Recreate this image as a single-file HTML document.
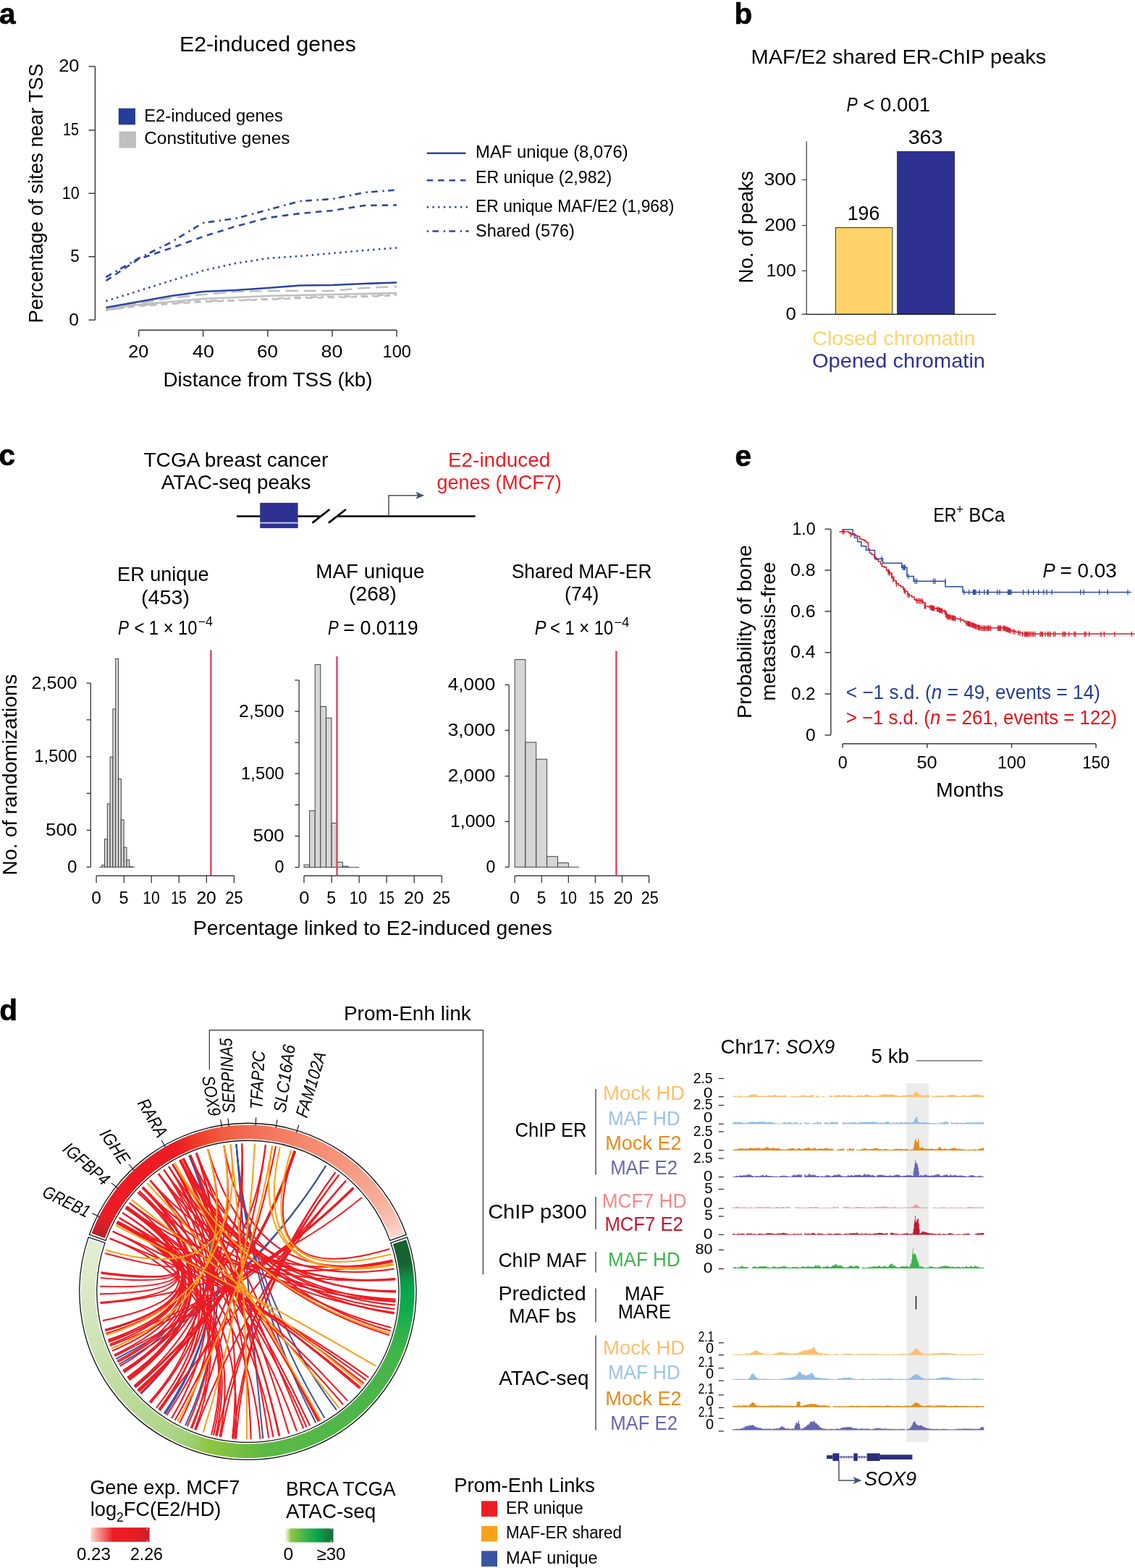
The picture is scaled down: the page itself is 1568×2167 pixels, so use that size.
<!DOCTYPE html>
<html lang="en"><head><meta charset="utf-8"><title>Figure</title>
<style>
html,body{margin:0;padding:0;background:#fff;}
body{width:1568px;height:2167px;overflow:hidden;}
svg{display:block;font-family:"Liberation Sans",sans-serif;}
</style></head><body>
<svg width="1568" height="2167" viewBox="0 0 1568 2167">
<g id="panel-a">
<text x="-1.1" y="33.2" font-size="40.5" font-weight="bold" stroke="#000" stroke-width="0.7">a</text>
<text x="248.0" y="71.3" font-size="29" textLength="244.0" lengthAdjust="spacingAndGlyphs">E2-induced genes</text>
<line x1="131.4" y1="91.8" x2="131.4" y2="442.2" stroke="#333" stroke-width="1.4" />
<line x1="122.4" y1="91.8" x2="131.4" y2="91.8" stroke="#333" stroke-width="1.4" />
<text x="81.2" y="99.2" font-size="24.3" textLength="28.3" lengthAdjust="spacingAndGlyphs">20</text>
<line x1="122.4" y1="180.0" x2="131.4" y2="180.0" stroke="#333" stroke-width="1.4" />
<text x="87.0" y="187.4" font-size="24.3" textLength="21.9" lengthAdjust="spacingAndGlyphs">15</text>
<line x1="122.4" y1="267.3" x2="131.4" y2="267.3" stroke="#333" stroke-width="1.4" />
<text x="85.7" y="274.7" font-size="24.3" textLength="24.0" lengthAdjust="spacingAndGlyphs">10</text>
<line x1="122.4" y1="354.7" x2="131.4" y2="354.7" stroke="#333" stroke-width="1.4" />
<text x="97.2" y="362.1" font-size="24.3" textLength="12.5" lengthAdjust="spacingAndGlyphs">5</text>
<line x1="122.4" y1="442.2" x2="131.4" y2="442.2" stroke="#333" stroke-width="1.4" />
<text x="95.2" y="449.6" font-size="24.3" textLength="13.7" lengthAdjust="spacingAndGlyphs">0</text>
<line x1="191.6" y1="456.3" x2="548.0" y2="456.3" stroke="#333" stroke-width="1.4" />
<line x1="191.6" y1="456.3" x2="191.6" y2="465.3" stroke="#333" stroke-width="1.4" />
<text x="177.3" y="493.8" font-size="24.3" textLength="28.0" lengthAdjust="spacingAndGlyphs">20</text>
<line x1="280.6" y1="456.3" x2="280.6" y2="465.3" stroke="#333" stroke-width="1.4" />
<text x="266.1" y="493.8" font-size="24.3" textLength="29.8" lengthAdjust="spacingAndGlyphs">40</text>
<line x1="369.9" y1="456.3" x2="369.9" y2="465.3" stroke="#333" stroke-width="1.4" />
<text x="354.9" y="493.8" font-size="24.3" textLength="29.0" lengthAdjust="spacingAndGlyphs">60</text>
<line x1="459.0" y1="456.3" x2="459.0" y2="465.3" stroke="#333" stroke-width="1.4" />
<text x="443.5" y="493.8" font-size="24.3" textLength="30.0" lengthAdjust="spacingAndGlyphs">80</text>
<line x1="548.0" y1="456.3" x2="548.0" y2="465.3" stroke="#333" stroke-width="1.4" />
<text x="528.5" y="493.8" font-size="24.3" textLength="39.5" lengthAdjust="spacingAndGlyphs">100</text>
<text x="0" y="0" font-size="28" textLength="358.5" lengthAdjust="spacingAndGlyphs" transform="translate(58.5 446.5) rotate(-90)">Percentage of sites near TSS</text>
<text x="225.5" y="534.0" font-size="28" textLength="289.0" lengthAdjust="spacingAndGlyphs">Distance from TSS (kb)</text>
<rect x="163.8" y="149.7" width="23.2" height="22.7" fill="#253f99" />
<rect x="164.5" y="181.6" width="23.5" height="23.0" fill="#bfbfbf" />
<text x="199.2" y="167.6" font-size="23.5" textLength="191.6" lengthAdjust="spacingAndGlyphs">E2-induced genes</text>
<text x="199.2" y="199.0" font-size="23.5" textLength="201.3" lengthAdjust="spacingAndGlyphs">Constitutive genes</text>
<path d="M146.4 429.0 L191.6 422.0 L236.1 419.0 L280.6 416.0 L325.2 415.0 L369.9 413.0 L414.4 411.0 L459.0 410.0 L503.5 409.0 L548.0 407.0" stroke="#bfbfbf" stroke-width="2.6" fill="none" stroke-dasharray="2.4 5.3 8.6 6.7" stroke-linejoin="round"/>
<path d="M146.4 428.5 L191.6 423.0 L236.1 420.0 L280.6 417.0 L325.2 415.5 L369.9 414.0 L414.4 412.0 L459.0 411.0 L503.5 410.0 L548.0 408.0" stroke="#bfbfbf" stroke-width="2.6" fill="none" stroke-dasharray="8.5 6.9" stroke-linejoin="round"/>
<path d="M146.4 427.0 L191.6 419.0 L236.1 412.0 L280.6 407.0 L325.2 403.0 L369.9 402.0 L414.4 402.0 L459.0 402.0 L503.5 398.0 L548.0 396.0" stroke="#bfbfbf" stroke-width="2.6" fill="none" stroke-dasharray="17 8" stroke-linejoin="round"/>
<path d="M146.4 427.0 L191.6 421.0 L236.1 417.0 L280.6 413.0 L325.2 411.0 L369.9 409.0 L414.4 408.0 L459.0 407.0 L503.5 406.0 L548.0 405.0" stroke="#bfbfbf" stroke-width="2.6" fill="none"  stroke-linejoin="round"/>
<path d="M146.4 383.0 L191.6 357.0 L236.1 335.0 L280.6 308.0 L325.2 302.0 L369.9 290.0 L414.4 278.0 L459.0 275.0 L503.5 266.0 L548.0 262.5" stroke="#2c46a0" stroke-width="2.6" fill="none" stroke-dasharray="8.6 6.7 2.4 5.3" stroke-linejoin="round"/>
<path d="M146.4 388.0 L191.6 358.0 L236.1 343.0 L280.6 327.0 L325.2 313.0 L369.9 301.0 L414.4 295.0 L459.0 291.0 L503.5 284.0 L548.0 283.5" stroke="#2c46a0" stroke-width="2.6" fill="none" stroke-dasharray="8.5 6.9" stroke-linejoin="round"/>
<path d="M146.4 416.0 L191.6 402.0 L236.1 388.0 L280.6 374.0 L325.2 364.0 L369.9 357.0 L414.4 354.0 L459.0 350.0 L503.5 346.0 L548.0 342.5" stroke="#2c46a0" stroke-width="2.6" fill="none" stroke-dasharray="2.4 5.3" stroke-linejoin="round"/>
<path d="M146.4 425.0 L191.6 417.0 L236.1 409.0 L280.6 403.0 L325.2 401.0 L369.9 398.0 L414.4 394.5 L459.0 394.0 L503.5 392.0 L548.0 390.5" stroke="#2c46a0" stroke-width="2.6" fill="none"  stroke-linejoin="round"/>
<line x1="589.7" y1="211.7" x2="643.5" y2="211.7" stroke="#2c46a0" stroke-width="2.5" />
<line x1="589.7" y1="249.3" x2="643.5" y2="249.3" stroke="#2c46a0" stroke-width="2.5" stroke-dasharray="8.5 6.9"/>
<line x1="589.7" y1="286.2" x2="646.0" y2="286.2" stroke="#2c46a0" stroke-width="2.5" stroke-dasharray="2.4 5.3"/>
<line x1="589.7" y1="319.4" x2="647.5" y2="319.4" stroke="#2c46a0" stroke-width="2.5" stroke-dasharray="2.4 5.3 8.6 6.7"/>
<text x="657.1" y="218.3" font-size="23.5" textLength="210.6" lengthAdjust="spacingAndGlyphs">MAF unique (8,076)</text>
<text x="657.1" y="253.2" font-size="23.5" textLength="188.1" lengthAdjust="spacingAndGlyphs">ER unique (2,982)</text>
<text x="657.1" y="292.7" font-size="23.5" textLength="274.3" lengthAdjust="spacingAndGlyphs">ER unique MAF/E2 (1,968)</text>
<text x="657.1" y="327.1" font-size="23.5" textLength="136.7" lengthAdjust="spacingAndGlyphs">Shared (576)</text>
</g>
<g id="panel-b">
<text x="1014.4" y="33.0" font-size="40.5" font-weight="bold" stroke="#000" stroke-width="0.7">b</text>
<text x="1037.6" y="88.1" font-size="28" textLength="407.7" lengthAdjust="spacingAndGlyphs">MAF/E2 shared ER-ChIP peaks</text>
<text x="1169.4" y="154.1" font-size="27.5" font-style="italic" textLength="15.3" lengthAdjust="spacingAndGlyphs">P</text>
<text x="1192.3" y="154.1" font-size="27.5" textLength="92.9" lengthAdjust="spacingAndGlyphs">&lt; 0.001</text>
<rect x="1154.4" y="314.6" width="78.5" height="119.8" fill="#ffd36a" stroke="#333" stroke-width="1" />
<rect x="1239.6" y="209.5" width="78.9" height="224.9" fill="#2e3192" stroke="#333" stroke-width="1" />
<line x1="1114.3" y1="195.6" x2="1114.3" y2="434.4" stroke="#555" stroke-width="1.4" />
<line x1="1107.8" y1="434.4" x2="1376.0" y2="434.4" stroke="#111" stroke-width="1.4" />
<line x1="1107.8" y1="248.5" x2="1114.3" y2="248.5" stroke="#555" stroke-width="1.4" />
<text x="1055.5" y="255.9" font-size="23.7" textLength="44.4" lengthAdjust="spacingAndGlyphs">300</text>
<line x1="1107.8" y1="311.6" x2="1114.3" y2="311.6" stroke="#555" stroke-width="1.4" />
<text x="1056.3" y="318.9" font-size="23.7" textLength="43.6" lengthAdjust="spacingAndGlyphs">200</text>
<line x1="1107.8" y1="374.3" x2="1114.3" y2="374.3" stroke="#555" stroke-width="1.4" />
<text x="1058.5" y="381.6" font-size="23.7" textLength="41.4" lengthAdjust="spacingAndGlyphs">100</text>
<line x1="1107.8" y1="434.4" x2="1114.3" y2="434.4" stroke="#555" stroke-width="1.4" />
<text x="1085.5" y="441.7" font-size="23.7" textLength="14.4" lengthAdjust="spacingAndGlyphs">0</text>
<text x="1254.7" y="198.8" font-size="27.4" textLength="47.8" lengthAdjust="spacingAndGlyphs">363</text>
<text x="1170.8" y="304.0" font-size="27.4" textLength="44.4" lengthAdjust="spacingAndGlyphs">196</text>
<text x="0" y="0" font-size="27" textLength="155.4" lengthAdjust="spacingAndGlyphs" transform="translate(1039.7 391.6) rotate(-90)">No. of peaks</text>
<text x="1122.0" y="476.7" font-size="28" fill="#ffd36a" textLength="225.5" lengthAdjust="spacingAndGlyphs">Closed chromatin</text>
<text x="1122.0" y="507.5" font-size="28" fill="#2e3192" textLength="239.0" lengthAdjust="spacingAndGlyphs">Opened chromatin</text>
</g>
<g id="panel-c">
<text x="-1.5" y="642.8" font-size="40.5" font-weight="bold" stroke="#000" stroke-width="0.7">c</text>
<text x="198.4" y="644.8" font-size="27.5" textLength="254.9" lengthAdjust="spacingAndGlyphs">TCGA breast cancer</text>
<text x="222.7" y="675.9" font-size="27.5" textLength="206.7" lengthAdjust="spacingAndGlyphs">ATAC-seq peaks</text>
<text x="618.9" y="644.8" font-size="27.5" fill="#ed1c24" textLength="141.4" lengthAdjust="spacingAndGlyphs">E2-induced</text>
<text x="603.4" y="675.9" font-size="27.5" fill="#ed1c24" textLength="172.4" lengthAdjust="spacingAndGlyphs">genes (MCF7)</text>
<line x1="327.0" y1="713.5" x2="442.4" y2="713.5" stroke="#000" stroke-width="2.7" />
<line x1="466.4" y1="713.5" x2="656.6" y2="713.5" stroke="#000" stroke-width="2.7" />
<line x1="431.5" y1="722.6" x2="455.4" y2="704.0" stroke="#000" stroke-width="2.7" />
<line x1="453.9" y1="722.6" x2="477.8" y2="704.0" stroke="#000" stroke-width="2.7" />
<rect x="359.2" y="694.9" width="52.4" height="35.0" fill="#2e3192" />
<line x1="359.2" y1="722.6" x2="411.6" y2="722.6" stroke="#d9d9f0" stroke-width="1.6" />
<path d="M537 713.5 V684.7 H577" stroke="#44546a" stroke-width="1.5" fill="none" />
<path d="M586.3 684.7 L574.4 679.7 L577 684.7 L574.4 689.7 Z" stroke="#44546a" stroke-width="0" fill="#44546a" />
<text x="162.1" y="802.8" font-size="27.5" textLength="126.4" lengthAdjust="spacingAndGlyphs">ER unique</text>
<text x="195.0" y="834.6" font-size="27.5" textLength="67.0" lengthAdjust="spacingAndGlyphs">(453)</text>
<text x="436.3" y="798.8" font-size="27.5" textLength="150.2" lengthAdjust="spacingAndGlyphs">MAF unique</text>
<text x="482.1" y="829.8" font-size="27.5" textLength="65.8" lengthAdjust="spacingAndGlyphs">(268)</text>
<text x="706.7" y="798.8" font-size="27.5" textLength="193.8" lengthAdjust="spacingAndGlyphs">Shared MAF-ER</text>
<text x="780.0" y="829.8" font-size="27.5" textLength="47.5" lengthAdjust="spacingAndGlyphs">(74)</text>
<text x="163.1" y="876.6" font-size="27.5" font-style="italic" textLength="15.0" lengthAdjust="spacingAndGlyphs">P</text>
<text x="185.4" y="876.6" font-size="27.5" textLength="87.1" lengthAdjust="spacingAndGlyphs">&lt; 1 × 10</text>
<text x="273.7" y="865.3" font-size="17.5" textLength="20.2" lengthAdjust="spacingAndGlyphs">−4</text>
<text x="738.7" y="876.9" font-size="27.5" font-style="italic" textLength="15.8" lengthAdjust="spacingAndGlyphs">P</text>
<text x="760.0" y="876.9" font-size="27.5" textLength="87.1" lengthAdjust="spacingAndGlyphs">&lt; 1 × 10</text>
<text x="848.2" y="865.5" font-size="17.5" textLength="21.3" lengthAdjust="spacingAndGlyphs">−4</text>
<text x="452.9" y="876.9" font-size="27.5" font-style="italic" textLength="14.7" lengthAdjust="spacingAndGlyphs">P</text>
<text x="474.2" y="876.9" font-size="27.5" textLength="103.6" lengthAdjust="spacingAndGlyphs">= 0.0119</text>
<text x="0" y="0" font-size="27.5" textLength="278.0" lengthAdjust="spacingAndGlyphs" transform="translate(22.8 1209.7) rotate(-90)">No. of randomizations</text>
<line x1="136.9" y1="1198.3" x2="140.7" y2="1198.3" stroke="#333" stroke-width="0.9" />
<rect x="140.7" y="1195.6" width="3.8" height="2.7" fill="#d6d6d6" stroke="#333" stroke-width="0.9" />
<rect x="144.5" y="1159.7" width="3.8" height="38.6" fill="#d6d6d6" stroke="#333" stroke-width="0.9" />
<rect x="148.3" y="1110.8" width="3.8" height="87.5" fill="#d6d6d6" stroke="#333" stroke-width="0.9" />
<rect x="152.1" y="1046.1" width="3.8" height="152.2" fill="#d6d6d6" stroke="#333" stroke-width="0.9" />
<rect x="155.9" y="979.8" width="3.8" height="218.5" fill="#d6d6d6" stroke="#333" stroke-width="0.9" />
<rect x="159.7" y="910.3" width="3.8" height="288.0" fill="#d6d6d6" stroke="#333" stroke-width="0.9" />
<rect x="163.5" y="1076.6" width="3.8" height="121.7" fill="#d6d6d6" stroke="#333" stroke-width="0.9" />
<rect x="167.3" y="1133.0" width="3.8" height="65.3" fill="#d6d6d6" stroke="#333" stroke-width="0.9" />
<rect x="171.2" y="1171.1" width="3.8" height="27.2" fill="#d6d6d6" stroke="#333" stroke-width="0.9" />
<rect x="175.0" y="1188.5" width="3.8" height="9.8" fill="#d6d6d6" stroke="#333" stroke-width="0.9" />
<rect x="178.8" y="1197.7" width="3.8" height="0.6" fill="#d6d6d6" stroke="#333" stroke-width="0.9" />
<line x1="182.6" y1="1198.3" x2="186.4" y2="1198.3" stroke="#333" stroke-width="0.9" />
<line x1="125.3" y1="944.1" x2="125.3" y2="1198.3" stroke="#222" stroke-width="1.2" />
<line x1="119.6" y1="944.1" x2="125.3" y2="944.1" stroke="#222" stroke-width="1.2" />
<line x1="119.6" y1="994.8" x2="125.3" y2="994.8" stroke="#222" stroke-width="1.2" />
<line x1="119.6" y1="1045.8" x2="125.3" y2="1045.8" stroke="#222" stroke-width="1.2" />
<line x1="119.6" y1="1096.4" x2="125.3" y2="1096.4" stroke="#222" stroke-width="1.2" />
<line x1="119.6" y1="1147.4" x2="125.3" y2="1147.4" stroke="#222" stroke-width="1.2" />
<line x1="119.6" y1="1198.3" x2="125.3" y2="1198.3" stroke="#222" stroke-width="1.2" />
<line x1="133.1" y1="1210.3" x2="323.4" y2="1210.3" stroke="#222" stroke-width="1.2" />
<line x1="133.1" y1="1210.3" x2="133.1" y2="1220.2" stroke="#222" stroke-width="1.2" />
<line x1="171.2" y1="1210.3" x2="171.2" y2="1220.2" stroke="#222" stroke-width="1.2" />
<line x1="209.2" y1="1210.3" x2="209.2" y2="1220.2" stroke="#222" stroke-width="1.2" />
<line x1="247.2" y1="1210.3" x2="247.2" y2="1220.2" stroke="#222" stroke-width="1.2" />
<line x1="285.3" y1="1210.3" x2="285.3" y2="1220.2" stroke="#222" stroke-width="1.2" />
<line x1="323.4" y1="1210.3" x2="323.4" y2="1220.2" stroke="#222" stroke-width="1.2" />
<line x1="291.4" y1="898.6" x2="291.4" y2="1210.3" stroke="#dc4560" stroke-width="2.4" />
<rect x="420.0" y="1195.1" width="7.6" height="3.5" fill="#d6d6d6" stroke="#333" stroke-width="0.9" />
<rect x="427.6" y="1120.4" width="7.6" height="78.2" fill="#d6d6d6" stroke="#333" stroke-width="0.9" />
<rect x="435.2" y="918.4" width="7.6" height="280.2" fill="#d6d6d6" stroke="#333" stroke-width="0.9" />
<rect x="442.8" y="976.5" width="7.6" height="222.1" fill="#d6d6d6" stroke="#333" stroke-width="0.9" />
<rect x="450.4" y="992.3" width="7.6" height="206.3" fill="#d6d6d6" stroke="#333" stroke-width="0.9" />
<rect x="458.1" y="1137.4" width="7.6" height="61.2" fill="#d6d6d6" stroke="#333" stroke-width="0.9" />
<rect x="465.7" y="1191.6" width="7.6" height="7.0" fill="#d6d6d6" stroke="#333" stroke-width="0.9" />
<rect x="473.3" y="1197.1" width="7.6" height="1.5" fill="#d6d6d6" stroke="#333" stroke-width="0.9" />
<line x1="480.9" y1="1198.6" x2="488.5" y2="1198.6" stroke="#333" stroke-width="0.9" />
<line x1="488.5" y1="1198.6" x2="496.1" y2="1198.6" stroke="#333" stroke-width="0.9" />
<line x1="413.1" y1="940.0" x2="413.1" y2="1198.6" stroke="#222" stroke-width="1.2" />
<line x1="407.4" y1="940.0" x2="413.1" y2="940.0" stroke="#222" stroke-width="1.2" />
<line x1="407.4" y1="983.1" x2="413.1" y2="983.1" stroke="#222" stroke-width="1.2" />
<line x1="407.4" y1="1026.3" x2="413.1" y2="1026.3" stroke="#222" stroke-width="1.2" />
<line x1="407.4" y1="1069.1" x2="413.1" y2="1069.1" stroke="#222" stroke-width="1.2" />
<line x1="407.4" y1="1112.3" x2="413.1" y2="1112.3" stroke="#222" stroke-width="1.2" />
<line x1="407.4" y1="1155.5" x2="413.1" y2="1155.5" stroke="#222" stroke-width="1.2" />
<line x1="407.4" y1="1198.6" x2="413.1" y2="1198.6" stroke="#222" stroke-width="1.2" />
<line x1="420.0" y1="1210.3" x2="610.2" y2="1210.3" stroke="#222" stroke-width="1.2" />
<line x1="420.0" y1="1210.3" x2="420.0" y2="1220.2" stroke="#222" stroke-width="1.2" />
<line x1="458.1" y1="1210.3" x2="458.1" y2="1220.2" stroke="#222" stroke-width="1.2" />
<line x1="496.1" y1="1210.3" x2="496.1" y2="1220.2" stroke="#222" stroke-width="1.2" />
<line x1="534.1" y1="1210.3" x2="534.1" y2="1220.2" stroke="#222" stroke-width="1.2" />
<line x1="572.2" y1="1210.3" x2="572.2" y2="1220.2" stroke="#222" stroke-width="1.2" />
<line x1="610.2" y1="1210.3" x2="610.2" y2="1220.2" stroke="#222" stroke-width="1.2" />
<line x1="465.5" y1="906.9" x2="465.5" y2="1210.3" stroke="#dc4560" stroke-width="2.4" />
<rect x="711.1" y="911.6" width="14.8" height="286.7" fill="#d6d6d6" stroke="#333" stroke-width="0.9" />
<rect x="725.9" y="1025.9" width="14.8" height="172.4" fill="#d6d6d6" stroke="#333" stroke-width="0.9" />
<rect x="740.8" y="1049.2" width="14.8" height="149.1" fill="#d6d6d6" stroke="#333" stroke-width="0.9" />
<rect x="755.6" y="1183.7" width="14.8" height="14.6" fill="#d6d6d6" stroke="#333" stroke-width="0.9" />
<rect x="770.5" y="1192.4" width="14.8" height="5.9" fill="#d6d6d6" stroke="#333" stroke-width="0.9" />
<line x1="785.3" y1="1198.3" x2="800.1" y2="1198.3" stroke="#333" stroke-width="0.9" />
<line x1="703.2" y1="946.4" x2="703.2" y2="1198.3" stroke="#222" stroke-width="1.2" />
<line x1="697.5" y1="946.4" x2="703.2" y2="946.4" stroke="#222" stroke-width="1.2" />
<line x1="697.5" y1="1009.3" x2="703.2" y2="1009.3" stroke="#222" stroke-width="1.2" />
<line x1="697.5" y1="1072.6" x2="703.2" y2="1072.6" stroke="#222" stroke-width="1.2" />
<line x1="697.5" y1="1135.4" x2="703.2" y2="1135.4" stroke="#222" stroke-width="1.2" />
<line x1="697.5" y1="1198.3" x2="703.2" y2="1198.3" stroke="#222" stroke-width="1.2" />
<line x1="711.1" y1="1210.3" x2="896.6" y2="1210.3" stroke="#222" stroke-width="1.2" />
<line x1="711.1" y1="1210.3" x2="711.1" y2="1220.2" stroke="#222" stroke-width="1.2" />
<line x1="748.2" y1="1210.3" x2="748.2" y2="1220.2" stroke="#222" stroke-width="1.2" />
<line x1="785.3" y1="1210.3" x2="785.3" y2="1220.2" stroke="#222" stroke-width="1.2" />
<line x1="822.4" y1="1210.3" x2="822.4" y2="1220.2" stroke="#222" stroke-width="1.2" />
<line x1="859.5" y1="1210.3" x2="859.5" y2="1220.2" stroke="#222" stroke-width="1.2" />
<line x1="896.6" y1="1210.3" x2="896.6" y2="1220.2" stroke="#222" stroke-width="1.2" />
<line x1="851.4" y1="899.8" x2="851.4" y2="1210.3" stroke="#dc4560" stroke-width="2.4" />
<text x="43.5" y="951.6" font-size="24.3" textLength="62.9" lengthAdjust="spacingAndGlyphs">2,500</text>
<text x="47.5" y="1053.3" font-size="24.3" textLength="58.9" lengthAdjust="spacingAndGlyphs">1,500</text>
<text x="63.0" y="1154.9" font-size="24.3" textLength="43.4" lengthAdjust="spacingAndGlyphs">500</text>
<text x="93.0" y="1205.8" font-size="24.3" textLength="13.4" lengthAdjust="spacingAndGlyphs">0</text>
<text x="330.1" y="990.6" font-size="24.3" textLength="62.5" lengthAdjust="spacingAndGlyphs">2,500</text>
<text x="333.1" y="1076.6" font-size="24.3" textLength="59.5" lengthAdjust="spacingAndGlyphs">1,500</text>
<text x="349.6" y="1163.0" font-size="24.3" textLength="43.0" lengthAdjust="spacingAndGlyphs">500</text>
<text x="379.6" y="1206.1" font-size="24.3" textLength="13.0" lengthAdjust="spacingAndGlyphs">0</text>
<text x="618.8" y="953.9" font-size="24.3" textLength="65.5" lengthAdjust="spacingAndGlyphs">4,000</text>
<text x="618.8" y="1016.8" font-size="24.3" textLength="65.5" lengthAdjust="spacingAndGlyphs">3,000</text>
<text x="618.8" y="1080.1" font-size="24.3" textLength="65.5" lengthAdjust="spacingAndGlyphs">2,000</text>
<text x="622.0" y="1142.9" font-size="24.3" textLength="62.3" lengthAdjust="spacingAndGlyphs">1,000</text>
<text x="671.4" y="1205.8" font-size="24.3" textLength="12.9" lengthAdjust="spacingAndGlyphs">0</text>
<text x="126.3" y="1249.2" font-size="24.3" textLength="13.6" lengthAdjust="spacingAndGlyphs">0</text>
<text x="164.4" y="1249.2" font-size="24.3" textLength="13.0" lengthAdjust="spacingAndGlyphs">5</text>
<text x="197.3" y="1249.2" font-size="24.3" textLength="23.5" lengthAdjust="spacingAndGlyphs">10</text>
<text x="236.3" y="1249.2" font-size="24.3" textLength="21.4" lengthAdjust="spacingAndGlyphs">15</text>
<text x="271.4" y="1249.2" font-size="24.3" textLength="27.4" lengthAdjust="spacingAndGlyphs">20</text>
<text x="311.3" y="1249.2" font-size="24.3" textLength="24.3" lengthAdjust="spacingAndGlyphs">25</text>
<text x="413.2" y="1249.2" font-size="24.3" textLength="14.1" lengthAdjust="spacingAndGlyphs">0</text>
<text x="451.2" y="1249.2" font-size="24.3" textLength="12.8" lengthAdjust="spacingAndGlyphs">5</text>
<text x="482.8" y="1249.2" font-size="24.3" textLength="24.3" lengthAdjust="spacingAndGlyphs">10</text>
<text x="523.1" y="1249.2" font-size="24.3" textLength="21.6" lengthAdjust="spacingAndGlyphs">15</text>
<text x="557.9" y="1249.2" font-size="24.3" textLength="27.5" lengthAdjust="spacingAndGlyphs">20</text>
<text x="597.5" y="1249.2" font-size="24.3" textLength="24.7" lengthAdjust="spacingAndGlyphs">25</text>
<text x="704.2" y="1249.2" font-size="24.3" textLength="13.7" lengthAdjust="spacingAndGlyphs">0</text>
<text x="741.8" y="1249.2" font-size="24.3" textLength="12.5" lengthAdjust="spacingAndGlyphs">5</text>
<text x="773.0" y="1249.2" font-size="24.3" textLength="24.0" lengthAdjust="spacingAndGlyphs">10</text>
<text x="813.0" y="1249.2" font-size="24.3" textLength="21.5" lengthAdjust="spacingAndGlyphs">15</text>
<text x="847.4" y="1249.2" font-size="24.3" textLength="26.7" lengthAdjust="spacingAndGlyphs">20</text>
<text x="885.7" y="1249.2" font-size="24.3" textLength="24.0" lengthAdjust="spacingAndGlyphs">25</text>
<text x="266.7" y="1291.6" font-size="27.5" textLength="496.2" lengthAdjust="spacingAndGlyphs">Percentage linked to E2-induced genes</text>
</g>
<g id="panel-e">
<text x="1015.4" y="643.5" font-size="40.5" font-weight="bold" stroke="#000" stroke-width="0.7">e</text>
<text x="1289.4" y="720.7" font-size="27.5" textLength="31.8" lengthAdjust="spacingAndGlyphs">ER</text>
<text x="1321.2" y="709.5" font-size="17.5" textLength="9.7" lengthAdjust="spacingAndGlyphs">+</text>
<text x="1338.3" y="720.7" font-size="27.5" textLength="49.9" lengthAdjust="spacingAndGlyphs">BCa</text>
<text x="1440.4" y="798.2" font-size="27.5" font-style="italic" textLength="17.3" lengthAdjust="spacingAndGlyphs">P</text>
<text x="1464.4" y="798.2" font-size="27.5" textLength="78.5" lengthAdjust="spacingAndGlyphs">= 0.03</text>
<line x1="1147.8" y1="731.2" x2="1147.8" y2="1016.0" stroke="#333" stroke-width="1.4" />
<line x1="1139.5" y1="731.2" x2="1147.8" y2="731.2" stroke="#333" stroke-width="1.4" />
<text x="1094.4" y="738.8" font-size="24.3" textLength="32.2" lengthAdjust="spacingAndGlyphs">1.0</text>
<line x1="1139.5" y1="788.0" x2="1147.8" y2="788.0" stroke="#333" stroke-width="1.4" />
<text x="1091.9" y="795.6" font-size="24.3" textLength="34.7" lengthAdjust="spacingAndGlyphs">0.8</text>
<line x1="1139.5" y1="844.9" x2="1147.8" y2="844.9" stroke="#333" stroke-width="1.4" />
<text x="1091.9" y="852.5" font-size="24.3" textLength="34.7" lengthAdjust="spacingAndGlyphs">0.6</text>
<line x1="1139.5" y1="901.8" x2="1147.8" y2="901.8" stroke="#333" stroke-width="1.4" />
<text x="1091.9" y="909.4" font-size="24.3" textLength="34.7" lengthAdjust="spacingAndGlyphs">0.4</text>
<line x1="1139.5" y1="959.0" x2="1147.8" y2="959.0" stroke="#333" stroke-width="1.4" />
<text x="1092.9" y="966.6" font-size="24.3" textLength="33.7" lengthAdjust="spacingAndGlyphs">0.2</text>
<line x1="1139.5" y1="1016.0" x2="1147.8" y2="1016.0" stroke="#333" stroke-width="1.4" />
<text x="1112.9" y="1023.6" font-size="24.3" textLength="13.7" lengthAdjust="spacingAndGlyphs">0</text>
<line x1="1164.1" y1="1027.9" x2="1514.1" y2="1027.9" stroke="#111" stroke-width="1.4" />
<line x1="1164.1" y1="1027.9" x2="1164.1" y2="1033.6" stroke="#333" stroke-width="1.4" />
<text x="1157.8" y="1062.2" font-size="24.3" textLength="13.0" lengthAdjust="spacingAndGlyphs">0</text>
<line x1="1280.8" y1="1027.9" x2="1280.8" y2="1033.6" stroke="#333" stroke-width="1.4" />
<text x="1266.5" y="1062.2" font-size="24.3" textLength="28.2" lengthAdjust="spacingAndGlyphs">50</text>
<line x1="1397.5" y1="1027.9" x2="1397.5" y2="1033.6" stroke="#333" stroke-width="1.4" />
<text x="1378.1" y="1062.2" font-size="24.3" textLength="39.1" lengthAdjust="spacingAndGlyphs">100</text>
<line x1="1514.1" y1="1027.9" x2="1514.1" y2="1033.6" stroke="#333" stroke-width="1.4" />
<text x="1495.2" y="1062.2" font-size="24.3" textLength="37.9" lengthAdjust="spacingAndGlyphs">150</text>
<text x="1293.0" y="1101.0" font-size="27.5" textLength="93.4" lengthAdjust="spacingAndGlyphs">Months</text>
<text x="0" y="0" font-size="27.5" textLength="240.0" lengthAdjust="spacingAndGlyphs" transform="translate(1038.0 993.1) rotate(-90)">Probability of bone</text>
<text x="0" y="0" font-size="27.5" textLength="192.3" lengthAdjust="spacingAndGlyphs" transform="translate(1071.4 968.8) rotate(-90)">metastasis-free</text>
<text x="1168.7" y="966" font-size="27.5" fill="#243f98" textLength="351.3" lengthAdjust="spacingAndGlyphs">&lt; −1 s.d. (<tspan font-style="italic">n</tspan> = 49, events = 14)</text>
<text x="1168.7" y="1001.4" font-size="27.5" fill="#e3141c" textLength="374.5" lengthAdjust="spacingAndGlyphs">&gt; −1 s.d. (<tspan font-style="italic">n</tspan> = 261, events = 122)</text>
<path d="M1163.4 731.8 H1178.1 V737.4 H1180.5 V743.0 H1184.8 V748.8 H1189.8 V754.8 H1196.5 V760.6 H1208.5 V772.2 H1219.6 V778.3 H1245.8 V784.3 H1252.9 V796.6 H1262.2 V803.3 H1306 V810.8 H1329.9 V818.4 H1562.8" stroke="#2c4aa6" stroke-width="1.5" fill="none" />
<path d="M1218.0 768.5v7.4M1247.1 780.6v7.4M1248.8 780.6v7.4M1250.2 780.6v7.4M1254.7 792.9v7.4M1264.2 799.6v7.4M1266.5 799.6v7.4M1289.5 799.6v7.4M1291.7 799.6v7.4M1306.0 799.6v7.4M1331.9 814.7v7.4M1338.8 814.7v7.4M1344.4 814.7v7.4M1345.5 814.7v7.4M1346.5 814.7v7.4M1348.0 814.7v7.4M1353.1 814.7v7.4M1359.9 814.7v7.4M1364.0 814.7v7.4M1365.4 814.7v7.4M1377.8 814.7v7.4M1381.0 814.7v7.4M1392.6 814.7v7.4M1394.1 814.7v7.4M1395.3 814.7v7.4M1397.0 814.7v7.4M1413.7 814.7v7.4M1420.7 814.7v7.4M1427.7 814.7v7.4M1434.8 814.7v7.4M1441.8 814.7v7.4M1446.2 814.7v7.4M1453.1 814.7v7.4M1492.7 814.7v7.4M1497.3 814.7v7.4M1518.9 814.7v7.4M1530.2 814.7v7.4M1558.1 814.7v7.4" stroke="#2c4aa6" stroke-width="1.3" fill="none" />
<path d="M1159.4 734.7 H1161.6 H1164.4 H1166.8 H1169.7 H1172.7 V736.7 H1174.6 V737.5 H1176.4 V738.9 H1179.7 H1182.0 V740.2 H1184.2 V741.2 H1187.8 V745.0 H1190.4 V745.8 H1193.7 V747.2 H1196.4 V749.6 H1199.4 V758.8 H1201.4 V764.5 H1204.4 V766.5 H1207.7 V770.1 H1210.5 V773.5 H1213.6 V776.0 H1216.6 V779.6 H1218.5 V783.0 H1221.7 V784.1 H1224.6 V788.5 H1226.9 V789.9 H1228.8 V791.9 H1232.1 V797.3 H1234.8 V802.4 H1237.9 V806.4 H1241.2 V808.8 H1244.3 V811.0 H1247.8 V814.4 H1250.3 V817.1 H1253.5 V821.4 H1256.1 V823.1 H1259.6 V825.0 H1263.0 V828.6 H1265.0 V830.0 H1267.0 H1269.2 H1272.8 V830.9 H1275.3 V833.1 H1278.3 V838.1 H1280.6 H1283.3 V839.1 H1285.8 H1288.2 V840.3 H1291.1 V841.0 H1293.9 V841.7 H1297.4 V842.9 H1300.4 V844.0 H1303.9 V845.3 H1307.2 V850.1 H1310.8 V852.6 H1313.8 V853.4 H1315.9 H1319.3 V854.7 H1322.8 V855.5 H1326.2 V856.2 H1329.0 V857.3 H1332.1 V859.6 H1334.3 V860.9 H1337.6 V861.9 H1340.4 V862.8 H1342.7 V863.7 H1344.7 V864.4 H1348.0 V865.6 H1351.6 V867.0 H1353.5 V867.7 H1356.8 H1359.3 H1361.4 H1363.7 H1366.9 H1370.3 H1372.2 H1375.1 H1376.9 H1380.0 H1382.4 H1385.8 H1389.4 V869.2 H1392.1 V870.2 H1395.7 V871.5 H1398.0 V872.4 H1400.0 H1402.9 V873.6 H1404.7 H1406.9 V874.5 H1409.4 H1412.3 V876.0 H1414.4 H1416.3 H1419.6 H1422.0 H1425.5 H1428.9 H1431.4 H1434.0 H1436.8 H1439.7 H1442.6 H1445.4 H1448.3 H1451.8 H1454.5 H1457.1 H1460.2 H1462.4 H1464.8 H1468.3 H1471.1 H1473.9 H1475.7 H1478.2 H1481.1 H1482.9 H1485.8 H1488.8 H1490.7 H1493.6 H1496.2 H1499.3 H1501.7 H1504.8 H1507.9 H1509.7 H1511.6 H1514.7 H1518.2 H1520.4 H1523.1 H1525.9 H1528.3 H1530.8 H1533.1 H1535.6 H1538.5 H1540.8 H1543.3 H1546.5 H1548.3 H1551.1 H1554.3 H1556.6 H1558.8 H1562.1 H1564.3 H1566.4 H1568.0" stroke="#d4202a" stroke-width="1.5" fill="none" />
<path d="M1164.1 731.0v7.4M1165.8 731.0v7.4M1175.4 735.0v7.4M1227.0 786.2v7.4M1228.1 787.2v7.4M1229.0 788.6v7.4M1231.7 792.6v7.4M1233.7 797.3v7.4M1238.4 803.3v7.4M1249.1 812.1v7.4M1250.4 813.6v7.4M1253.8 818.1v7.4M1255.8 819.2v7.4M1266.5 826.5v7.4M1268.5 826.7v7.4M1270.5 827.0v7.4M1272.5 827.2v7.4M1274.5 827.5v7.4M1277.2 834.2v7.4M1278.6 834.4v7.4M1285.3 835.8v7.4M1286.8 836.2v7.4M1287.9 836.5v7.4M1289.1 836.8v7.4M1290.4 837.1v7.4M1294.6 838.2v7.4M1296.0 838.7v7.4M1297.7 839.3v7.4M1298.8 839.7v7.4M1300.1 840.2v7.4M1301.6 840.8v7.4M1305.4 842.2v7.4M1306.8 845.5v7.4M1308.1 848.2v7.4M1309.2 848.5v7.4M1310.7 848.9v7.4M1312.0 849.2v7.4M1313.7 849.6v7.4M1315.5 850.1v7.4M1316.8 850.4v7.4M1318.1 850.7v7.4M1319.8 851.1v7.4M1326.8 852.6v7.4M1334.8 857.3v7.4M1336.6 857.9v7.4M1337.9 858.3v7.4M1339.1 858.6v7.4M1340.4 859.1v7.4M1342.2 859.7v7.4M1343.5 860.2v7.4M1344.8 860.8v7.4M1346.3 861.3v7.4M1347.7 861.8v7.4M1349.1 862.4v7.4M1351.0 863.1v7.4M1352.2 863.5v7.4M1353.2 863.9v7.4M1355.1 864.6v7.4M1357.0 864.6v7.4M1358.9 864.6v7.4M1360.4 864.6v7.4M1362.3 864.6v7.4M1364.2 864.6v7.4M1365.4 864.6v7.4M1367.1 864.6v7.4M1368.9 864.6v7.4M1378.5 864.6v7.4M1380.0 864.6v7.4M1381.4 864.6v7.4M1382.9 864.6v7.4M1385.8 864.6v7.4M1387.3 864.7v7.4M1388.7 865.2v7.4M1390.2 865.8v7.4M1391.6 866.3v7.4M1393.1 866.8v7.4M1394.5 867.4v7.4M1396.0 867.9v7.4M1399.6 869.2v7.4M1401.8 869.7v7.4M1406.9 870.8v7.4M1409.1 871.4v7.4M1412.7 872.4v7.4M1415.6 872.7v7.4M1417.1 872.7v7.4M1418.5 872.7v7.4M1420.0 872.7v7.4M1421.7 872.7v7.4M1423.6 872.7v7.4M1425.8 872.7v7.4M1427.7 872.7v7.4M1429.9 872.7v7.4M1437.1 872.7v7.4M1438.9 872.7v7.4M1440.3 872.7v7.4M1444.0 872.7v7.4M1447.3 872.7v7.4M1449.1 872.7v7.4M1451.2 872.7v7.4M1455.6 872.7v7.4M1457.8 872.7v7.4M1468.0 872.7v7.4M1469.9 872.7v7.4M1471.6 872.7v7.4M1476.7 872.7v7.4M1484.0 872.7v7.4M1485.8 872.7v7.4M1498.2 872.7v7.4M1500.0 872.7v7.4M1504.8 872.7v7.4M1521.0 872.7v7.4M1525.4 872.7v7.4M1539.9 872.7v7.4M1563.2 872.7v7.4" stroke="#d4202a" stroke-width="1.3" fill="none" />
</g>
<g id="panel-d">
<text x="-0.8" y="1409.8" font-size="40.5" font-weight="bold" stroke="#000" stroke-width="0.7">d</text>
<text x="474.9" y="1410.2" font-size="27.5" textLength="176.0" lengthAdjust="spacingAndGlyphs">Prom-Enh link</text>
<path d="M289.3 1478.5 V1423.6 H667.4 V1761.5" stroke="#333" stroke-width="1.2" fill="none" />
<path d="M126.64 1704.61A230.2 230.2 0 0 1 128.07 1700.86L146.13 1707.93A210.8 210.8 0 0 0 144.82 1711.37Z" fill="#b81e27"/>
<path d="M127.56 1702.17A230.2 230.2 0 0 1 129.57 1697.13L147.51 1704.52A210.8 210.8 0 0 0 145.67 1709.13Z" fill="#c3202a"/>
<path d="M129.04 1698.43A230.2 230.2 0 0 1 131.13 1693.43L148.94 1701.13A210.8 210.8 0 0 0 147.02 1705.71Z" fill="#ca2029"/>
<path d="M130.58 1694.72A230.2 230.2 0 0 1 132.76 1689.75L150.43 1697.77A210.8 210.8 0 0 0 148.43 1702.31Z" fill="#d02029"/>
<path d="M132.18 1691.04A230.2 230.2 0 0 1 134.45 1686.11L151.98 1694.43A210.8 210.8 0 0 0 149.90 1698.94Z" fill="#d71f28"/>
<path d="M133.85 1687.38A230.2 230.2 0 0 1 136.21 1682.49L153.58 1691.12A210.8 210.8 0 0 0 151.43 1695.60Z" fill="#dd1f27"/>
<path d="M135.59 1683.76A230.2 230.2 0 0 1 138.02 1678.91L155.25 1687.84A210.8 210.8 0 0 0 153.01 1692.28Z" fill="#e11e26"/>
<path d="M137.38 1680.16A230.2 230.2 0 0 1 139.90 1675.36L156.97 1684.59A210.8 210.8 0 0 0 154.66 1688.98Z" fill="#e51e26"/>
<path d="M139.24 1676.60A230.2 230.2 0 0 1 141.85 1671.84L158.75 1681.37A210.8 210.8 0 0 0 156.36 1685.72Z" fill="#e91d25"/>
<path d="M141.16 1673.07A230.2 230.2 0 0 1 143.85 1668.36L160.58 1678.18A210.8 210.8 0 0 0 158.12 1682.49Z" fill="#ed1c24"/>
<path d="M143.14 1669.58A230.2 230.2 0 0 1 145.91 1664.91L162.47 1675.02A210.8 210.8 0 0 0 159.93 1679.29Z" fill="#ed1c24"/>
<path d="M145.18 1666.12A230.2 230.2 0 0 1 148.04 1661.50L164.42 1671.90A210.8 210.8 0 0 0 161.80 1676.12Z" fill="#ed1c24"/>
<path d="M147.29 1662.69A230.2 230.2 0 0 1 150.22 1658.13L166.41 1668.81A210.8 210.8 0 0 0 163.73 1672.99Z" fill="#ed1c24"/>
<path d="M149.45 1659.31A230.2 230.2 0 0 1 152.46 1654.79L168.47 1665.75A210.8 210.8 0 0 0 165.71 1669.89Z" fill="#ed1c24"/>
<path d="M151.67 1655.96A230.2 230.2 0 0 1 154.76 1651.50L170.57 1662.74A210.8 210.8 0 0 0 167.74 1666.82Z" fill="#ed1c24"/>
<path d="M153.95 1652.65A230.2 230.2 0 0 1 157.11 1648.24L172.73 1659.76A210.8 210.8 0 0 0 169.83 1663.79Z" fill="#ed1c24"/>
<path d="M156.28 1649.38A230.2 230.2 0 0 1 159.53 1645.03L174.94 1656.82A210.8 210.8 0 0 0 171.97 1660.80Z" fill="#ed1c24"/>
<path d="M158.68 1646.15A230.2 230.2 0 0 1 161.99 1641.86L177.20 1653.91A210.8 210.8 0 0 0 174.16 1657.84Z" fill="#ed1c24"/>
<path d="M161.12 1642.97A230.2 230.2 0 0 1 164.52 1638.74L179.51 1651.05A210.8 210.8 0 0 0 176.40 1654.92Z" fill="#ed1c24"/>
<path d="M163.63 1639.82A230.2 230.2 0 0 1 167.09 1635.65L181.87 1648.23A210.8 210.8 0 0 0 178.69 1652.05Z" fill="#ed1c24"/>
<path d="M166.19 1636.73A230.2 230.2 0 0 1 169.72 1632.62L184.28 1645.45A210.8 210.8 0 0 0 181.04 1649.21Z" fill="#ed1c24"/>
<path d="M168.80 1633.67A230.2 230.2 0 0 1 172.41 1629.63L186.73 1642.71A210.8 210.8 0 0 0 183.43 1646.41Z" fill="#ed1c24"/>
<path d="M171.46 1630.67A230.2 230.2 0 0 1 175.14 1626.68L189.24 1640.01A210.8 210.8 0 0 0 185.87 1643.66Z" fill="#ed1c24"/>
<path d="M174.18 1627.71A230.2 230.2 0 0 1 177.93 1623.79L191.79 1637.36A210.8 210.8 0 0 0 188.36 1640.95Z" fill="#ed1c24"/>
<path d="M176.95 1624.80A230.2 230.2 0 0 1 180.76 1620.94L194.39 1634.75A210.8 210.8 0 0 0 190.89 1638.28Z" fill="#ed1c24"/>
<path d="M179.77 1621.93A230.2 230.2 0 0 1 183.65 1618.15L197.03 1632.19A210.8 210.8 0 0 0 193.47 1635.66Z" fill="#ed1c24"/>
<path d="M182.63 1619.12A230.2 230.2 0 0 1 186.58 1615.40L199.71 1629.68A210.8 210.8 0 0 0 196.10 1633.09Z" fill="#ed1c24"/>
<path d="M185.55 1616.36A230.2 230.2 0 0 1 189.56 1612.71L202.44 1627.21A210.8 210.8 0 0 0 198.77 1630.56Z" fill="#ed1c24"/>
<path d="M188.52 1613.64A230.2 230.2 0 0 1 192.59 1610.07L205.22 1624.80A210.8 210.8 0 0 0 201.48 1628.07Z" fill="#ed1c24"/>
<path d="M191.53 1610.98A230.2 230.2 0 0 1 195.66 1607.48L208.03 1622.43A210.8 210.8 0 0 0 204.24 1625.64Z" fill="#ed1c24"/>
<path d="M194.58 1608.38A230.2 230.2 0 0 1 198.78 1604.94L210.89 1620.11A210.8 210.8 0 0 0 207.04 1623.25Z" fill="#ed1c24"/>
<path d="M197.69 1605.82A230.2 230.2 0 0 1 201.94 1602.46L213.78 1617.84A210.8 210.8 0 0 0 209.88 1620.91Z" fill="#ed1c24"/>
<path d="M200.83 1603.33A230.2 230.2 0 0 1 205.15 1600.04L216.72 1615.62A210.8 210.8 0 0 0 212.76 1618.62Z" fill="#ed1c24"/>
<path d="M204.02 1600.88A230.2 230.2 0 0 1 208.40 1597.67L219.69 1613.45A210.8 210.8 0 0 0 215.68 1616.39Z" fill="#ed1c24"/>
<path d="M207.25 1598.50A230.2 230.2 0 0 1 211.68 1595.36L222.70 1611.33A210.8 210.8 0 0 0 218.64 1614.20Z" fill="#ed1c24"/>
<path d="M210.53 1596.17A230.2 230.2 0 0 1 215.01 1593.11L225.75 1609.27A210.8 210.8 0 0 0 221.64 1612.07Z" fill="#ed1c24"/>
<path d="M213.84 1593.89A230.2 230.2 0 0 1 218.37 1590.92L228.83 1607.26A210.8 210.8 0 0 0 224.67 1609.99Z" fill="#ed1c24"/>
<path d="M217.19 1591.68A230.2 230.2 0 0 1 221.78 1588.78L231.94 1605.31A210.8 210.8 0 0 0 227.74 1607.96Z" fill="#ed1c24"/>
<path d="M220.58 1589.52A230.2 230.2 0 0 1 225.22 1586.71L235.09 1603.41A210.8 210.8 0 0 0 230.85 1605.98Z" fill="#ed1c24"/>
<path d="M224.01 1587.43A230.2 230.2 0 0 1 228.69 1584.69L238.28 1601.56A210.8 210.8 0 0 0 233.99 1604.06Z" fill="#ed1c24"/>
<path d="M227.47 1585.39A230.2 230.2 0 0 1 232.21 1582.74L241.49 1599.77A210.8 210.8 0 0 0 237.16 1602.20Z" fill="#ed1c24"/>
<path d="M230.97 1583.42A230.2 230.2 0 0 1 235.75 1580.85L244.74 1598.04A210.8 210.8 0 0 0 240.36 1600.39Z" fill="#ed1c24"/>
<path d="M234.51 1581.50A230.2 230.2 0 0 1 239.33 1579.02L248.01 1596.36A210.8 210.8 0 0 0 243.60 1598.64Z" fill="#ed1c24"/>
<path d="M238.07 1579.65A230.2 230.2 0 0 1 242.93 1577.25L251.32 1594.74A210.8 210.8 0 0 0 246.86 1596.94Z" fill="#ed1c24"/>
<path d="M241.67 1577.86A230.2 230.2 0 0 1 246.57 1575.54L254.65 1593.18A210.8 210.8 0 0 0 250.16 1595.30Z" fill="#ed2024"/>
<path d="M245.30 1576.13A230.2 230.2 0 0 1 250.24 1573.90L258.01 1591.68A210.8 210.8 0 0 0 253.48 1593.72Z" fill="#ed2424"/>
<path d="M248.95 1574.47A230.2 230.2 0 0 1 253.94 1572.33L261.39 1590.24A210.8 210.8 0 0 0 256.83 1592.20Z" fill="#ed2824"/>
<path d="M252.64 1572.87A230.2 230.2 0 0 1 257.66 1570.82L264.80 1588.85A210.8 210.8 0 0 0 260.20 1590.74Z" fill="#ee2c24"/>
<path d="M256.35 1571.34A230.2 230.2 0 0 1 261.41 1569.37L268.23 1587.53A210.8 210.8 0 0 0 263.60 1589.33Z" fill="#ee3024"/>
<path d="M260.09 1569.87A230.2 230.2 0 0 1 265.18 1567.99L271.69 1586.26A210.8 210.8 0 0 0 267.03 1587.99Z" fill="#ee3524"/>
<path d="M263.86 1568.46A230.2 230.2 0 0 1 268.98 1566.67L275.16 1585.06A210.8 210.8 0 0 0 270.48 1586.70Z" fill="#ee3826"/>
<path d="M267.64 1567.13A230.2 230.2 0 0 1 272.79 1565.43L278.66 1583.92A210.8 210.8 0 0 0 273.94 1585.47Z" fill="#ee3c28"/>
<path d="M271.46 1565.85A230.2 230.2 0 0 1 276.63 1564.24L282.18 1582.84A210.8 210.8 0 0 0 277.43 1584.31Z" fill="#ee402b"/>
<path d="M275.29 1564.65A230.2 230.2 0 0 1 280.49 1563.13L285.71 1581.82A210.8 210.8 0 0 0 280.94 1583.21Z" fill="#ef442d"/>
<path d="M279.14 1563.51A230.2 230.2 0 0 1 284.37 1562.08L289.26 1580.86A210.8 210.8 0 0 0 284.47 1582.17Z" fill="#ef482f"/>
<path d="M283.01 1562.44A230.2 230.2 0 0 1 288.27 1561.10L292.83 1579.96A210.8 210.8 0 0 0 288.02 1581.19Z" fill="#ef4c32"/>
<path d="M286.90 1561.44A230.2 230.2 0 0 1 292.18 1560.19L296.42 1579.13A210.8 210.8 0 0 0 291.58 1580.27Z" fill="#ef4f34"/>
<path d="M290.81 1560.50A230.2 230.2 0 0 1 296.11 1559.35L300.01 1578.36A210.8 210.8 0 0 0 295.16 1579.41Z" fill="#ef5237"/>
<path d="M294.74 1559.64A230.2 230.2 0 0 1 300.05 1558.58L303.62 1577.65A210.8 210.8 0 0 0 298.75 1578.62Z" fill="#ef553a"/>
<path d="M298.67 1558.84A230.2 230.2 0 0 1 304.01 1557.87L307.25 1577.00A210.8 210.8 0 0 0 302.36 1577.89Z" fill="#f0583c"/>
<path d="M302.62 1558.11A230.2 230.2 0 0 1 307.98 1557.24L310.88 1576.42A210.8 210.8 0 0 0 305.98 1577.22Z" fill="#f05c3f"/>
<path d="M306.59 1557.45A230.2 230.2 0 0 1 311.95 1556.67L314.52 1575.90A210.8 210.8 0 0 0 309.61 1576.62Z" fill="#f05f42"/>
<path d="M310.56 1556.86A230.2 230.2 0 0 1 315.94 1556.18L318.17 1575.45A210.8 210.8 0 0 0 313.24 1576.08Z" fill="#f06044"/>
<path d="M314.55 1556.34A230.2 230.2 0 0 1 319.94 1555.75L321.83 1575.06A210.8 210.8 0 0 0 316.89 1575.60Z" fill="#f06246"/>
<path d="M318.54 1555.89A230.2 230.2 0 0 1 323.94 1555.39L325.49 1574.73A210.8 210.8 0 0 0 320.55 1575.19Z" fill="#f16348"/>
<path d="M322.54 1555.51A230.2 230.2 0 0 1 327.95 1555.10L329.16 1574.47A210.8 210.8 0 0 0 324.21 1574.84Z" fill="#f1654a"/>
<path d="M326.54 1555.20A230.2 230.2 0 0 1 331.96 1554.89L332.84 1574.27A210.8 210.8 0 0 0 327.88 1574.55Z" fill="#f1664c"/>
<path d="M330.55 1554.96A230.2 230.2 0 0 1 335.97 1554.74L336.51 1574.13A210.8 210.8 0 0 0 331.55 1574.33Z" fill="#f1684e"/>
<path d="M334.57 1554.78A230.2 230.2 0 0 1 339.99 1554.66L340.19 1574.06A210.8 210.8 0 0 0 335.23 1574.17Z" fill="#f26950"/>
<path d="M338.58 1554.68A230.2 230.2 0 0 1 344.01 1554.66L343.87 1574.06A210.8 210.8 0 0 0 338.90 1574.08Z" fill="#f26b52"/>
<path d="M342.60 1554.65A230.2 230.2 0 0 1 348.02 1554.72L347.55 1574.11A210.8 210.8 0 0 0 342.58 1574.05Z" fill="#f26c53"/>
<path d="M346.62 1554.69A230.2 230.2 0 0 1 352.04 1554.85L351.23 1574.23A210.8 210.8 0 0 0 346.26 1574.09Z" fill="#f26e55"/>
<path d="M350.63 1554.80A230.2 230.2 0 0 1 356.05 1555.06L354.90 1574.42A210.8 210.8 0 0 0 349.94 1574.18Z" fill="#f27056"/>
<path d="M354.65 1554.98A230.2 230.2 0 0 1 360.06 1555.33L358.57 1574.67A210.8 210.8 0 0 0 353.62 1574.35Z" fill="#f27157"/>
<path d="M358.66 1555.22A230.2 230.2 0 0 1 364.06 1555.67L362.24 1574.99A210.8 210.8 0 0 0 357.29 1574.58Z" fill="#f27359"/>
<path d="M362.66 1555.54A230.2 230.2 0 0 1 368.06 1556.08L365.90 1575.36A210.8 210.8 0 0 0 360.96 1574.87Z" fill="#f3745a"/>
<path d="M366.66 1555.93A230.2 230.2 0 0 1 372.05 1556.57L369.55 1575.81A210.8 210.8 0 0 0 364.62 1575.22Z" fill="#f3765c"/>
<path d="M370.65 1556.39A230.2 230.2 0 0 1 376.03 1557.12L373.19 1576.31A210.8 210.8 0 0 0 368.27 1575.64Z" fill="#f3785d"/>
<path d="M374.64 1556.92A230.2 230.2 0 0 1 380.00 1557.74L376.83 1576.88A210.8 210.8 0 0 0 371.92 1576.13Z" fill="#f3795e"/>
<path d="M378.61 1557.52A230.2 230.2 0 0 1 383.96 1558.43L380.45 1577.51A210.8 210.8 0 0 0 375.56 1576.67Z" fill="#f37b60"/>
<path d="M382.57 1558.18A230.2 230.2 0 0 1 387.90 1559.19L384.07 1578.21A210.8 210.8 0 0 0 379.19 1577.28Z" fill="#f37c61"/>
<path d="M386.52 1558.92A230.2 230.2 0 0 1 391.83 1560.02L387.67 1578.97A210.8 210.8 0 0 0 382.80 1577.96Z" fill="#f37d62"/>
<path d="M390.46 1559.72A230.2 230.2 0 0 1 395.75 1560.92L391.25 1579.79A210.8 210.8 0 0 0 386.41 1578.69Z" fill="#f37e63"/>
<path d="M394.38 1560.60A230.2 230.2 0 0 1 399.65 1561.88L394.82 1580.67A210.8 210.8 0 0 0 390.00 1579.49Z" fill="#f37f65"/>
<path d="M398.29 1561.54A230.2 230.2 0 0 1 403.53 1562.92L398.38 1581.62A210.8 210.8 0 0 0 393.58 1580.36Z" fill="#f38066"/>
<path d="M402.17 1562.55A230.2 230.2 0 0 1 407.40 1564.02L401.92 1582.63A210.8 210.8 0 0 0 397.14 1581.28Z" fill="#f48167"/>
<path d="M406.04 1563.62A230.2 230.2 0 0 1 411.24 1565.18L405.44 1583.70A210.8 210.8 0 0 0 400.68 1582.27Z" fill="#f48368"/>
<path d="M409.90 1564.77A230.2 230.2 0 0 1 415.06 1566.42L408.94 1584.83A210.8 210.8 0 0 0 404.21 1583.31Z" fill="#f48469"/>
<path d="M413.73 1565.98A230.2 230.2 0 0 1 418.86 1567.72L412.42 1586.02A210.8 210.8 0 0 0 407.72 1584.42Z" fill="#f4856b"/>
<path d="M417.54 1567.26A230.2 230.2 0 0 1 422.64 1569.09L415.88 1587.27A210.8 210.8 0 0 0 411.20 1585.59Z" fill="#f4866c"/>
<path d="M421.32 1568.60A230.2 230.2 0 0 1 426.39 1570.52L419.32 1588.58A210.8 210.8 0 0 0 414.67 1586.83Z" fill="#f4876d"/>
<path d="M425.08 1570.01A230.2 230.2 0 0 1 430.12 1572.02L422.73 1589.96A210.8 210.8 0 0 0 418.12 1588.12Z" fill="#f4886e"/>
<path d="M428.82 1571.49A230.2 230.2 0 0 1 433.82 1573.58L426.12 1591.39A210.8 210.8 0 0 0 421.54 1589.47Z" fill="#f4896f"/>
<path d="M432.53 1573.03A230.2 230.2 0 0 1 437.50 1575.21L429.48 1592.88A210.8 210.8 0 0 0 424.94 1590.88Z" fill="#f48a70"/>
<path d="M436.21 1574.63A230.2 230.2 0 0 1 441.14 1576.90L432.82 1594.43A210.8 210.8 0 0 0 428.31 1592.35Z" fill="#f48b71"/>
<path d="M439.87 1576.30A230.2 230.2 0 0 1 444.76 1578.66L436.13 1596.03A210.8 210.8 0 0 0 431.65 1593.88Z" fill="#f58c72"/>
<path d="M443.49 1578.04A230.2 230.2 0 0 1 448.34 1580.47L439.41 1597.70A210.8 210.8 0 0 0 434.97 1595.46Z" fill="#f58d74"/>
<path d="M447.09 1579.83A230.2 230.2 0 0 1 451.89 1582.35L442.66 1599.42A210.8 210.8 0 0 0 438.27 1597.11Z" fill="#f58e75"/>
<path d="M450.65 1581.69A230.2 230.2 0 0 1 455.41 1584.30L445.88 1601.20A210.8 210.8 0 0 0 441.53 1598.81Z" fill="#f58f76"/>
<path d="M454.18 1583.61A230.2 230.2 0 0 1 458.89 1586.30L449.07 1603.03A210.8 210.8 0 0 0 444.76 1600.57Z" fill="#f59077"/>
<path d="M457.67 1585.59A230.2 230.2 0 0 1 462.34 1588.36L452.23 1604.92A210.8 210.8 0 0 0 447.96 1602.38Z" fill="#f59178"/>
<path d="M461.13 1587.63A230.2 230.2 0 0 1 465.75 1590.49L455.35 1606.87A210.8 210.8 0 0 0 451.13 1604.25Z" fill="#f59279"/>
<path d="M464.56 1589.74A230.2 230.2 0 0 1 469.12 1592.67L458.44 1608.86A210.8 210.8 0 0 0 454.26 1606.18Z" fill="#f5937a"/>
<path d="M467.94 1591.90A230.2 230.2 0 0 1 472.46 1594.91L461.50 1610.92A210.8 210.8 0 0 0 457.36 1608.16Z" fill="#f5947b"/>
<path d="M471.29 1594.12A230.2 230.2 0 0 1 475.75 1597.21L464.51 1613.02A210.8 210.8 0 0 0 460.43 1610.19Z" fill="#f5957c"/>
<path d="M474.60 1596.40A230.2 230.2 0 0 1 479.01 1599.56L467.49 1615.18A210.8 210.8 0 0 0 463.46 1612.28Z" fill="#f6967d"/>
<path d="M477.87 1598.73A230.2 230.2 0 0 1 482.22 1601.98L470.43 1617.39A210.8 210.8 0 0 0 466.45 1614.42Z" fill="#f6977f"/>
<path d="M481.10 1601.13A230.2 230.2 0 0 1 485.39 1604.44L473.34 1619.65A210.8 210.8 0 0 0 469.41 1616.61Z" fill="#f69880"/>
<path d="M484.28 1603.57A230.2 230.2 0 0 1 488.51 1606.97L476.20 1621.96A210.8 210.8 0 0 0 472.33 1618.85Z" fill="#f69981"/>
<path d="M487.43 1606.08A230.2 230.2 0 0 1 491.60 1609.54L479.02 1624.32A210.8 210.8 0 0 0 475.20 1621.14Z" fill="#f69a82"/>
<path d="M490.52 1608.64A230.2 230.2 0 0 1 494.63 1612.17L481.80 1626.73A210.8 210.8 0 0 0 478.04 1623.49Z" fill="#f69b83"/>
<path d="M493.58 1611.25A230.2 230.2 0 0 1 497.62 1614.86L484.54 1629.18A210.8 210.8 0 0 0 480.84 1625.88Z" fill="#f69c85"/>
<path d="M496.58 1613.91A230.2 230.2 0 0 1 500.57 1617.59L487.24 1631.69A210.8 210.8 0 0 0 483.59 1628.32Z" fill="#f69d86"/>
<path d="M499.54 1616.63A230.2 230.2 0 0 1 503.46 1620.38L489.89 1634.24A210.8 210.8 0 0 0 486.30 1630.81Z" fill="#f79f88"/>
<path d="M502.45 1619.40A230.2 230.2 0 0 1 506.31 1623.21L492.50 1636.84A210.8 210.8 0 0 0 488.97 1633.34Z" fill="#f7a089"/>
<path d="M505.32 1622.22A230.2 230.2 0 0 1 509.10 1626.10L495.06 1639.48A210.8 210.8 0 0 0 491.59 1635.92Z" fill="#f7a18b"/>
<path d="M508.13 1625.08A230.2 230.2 0 0 1 511.85 1629.03L497.57 1642.16A210.8 210.8 0 0 0 494.16 1638.55Z" fill="#f7a28c"/>
<path d="M510.89 1628.00A230.2 230.2 0 0 1 514.54 1632.01L500.04 1644.89A210.8 210.8 0 0 0 496.69 1641.22Z" fill="#f7a38e"/>
<path d="M513.61 1630.97A230.2 230.2 0 0 1 517.18 1635.04L502.45 1647.67A210.8 210.8 0 0 0 499.18 1643.93Z" fill="#f7a58f"/>
<path d="M516.27 1633.98A230.2 230.2 0 0 1 519.77 1638.11L504.82 1650.48A210.8 210.8 0 0 0 501.61 1646.69Z" fill="#f7a691"/>
<path d="M518.87 1637.03A230.2 230.2 0 0 1 522.31 1641.23L507.14 1653.34A210.8 210.8 0 0 0 504.00 1649.49Z" fill="#f7a792"/>
<path d="M521.43 1640.14A230.2 230.2 0 0 1 524.79 1644.39L509.41 1656.23A210.8 210.8 0 0 0 506.34 1652.33Z" fill="#f8a893"/>
<path d="M523.92 1643.28A230.2 230.2 0 0 1 527.21 1647.60L511.63 1659.17A210.8 210.8 0 0 0 508.63 1655.21Z" fill="#f8a995"/>
<path d="M526.37 1646.47A230.2 230.2 0 0 1 529.58 1650.85L513.80 1662.14A210.8 210.8 0 0 0 510.86 1658.13Z" fill="#f8ab96"/>
<path d="M528.75 1649.70A230.2 230.2 0 0 1 531.89 1654.13L515.92 1665.15A210.8 210.8 0 0 0 513.05 1661.09Z" fill="#f8ac98"/>
<path d="M531.08 1652.98A230.2 230.2 0 0 1 534.14 1657.46L517.98 1668.20A210.8 210.8 0 0 0 515.18 1664.09Z" fill="#f8ae9b"/>
<path d="M533.36 1656.29A230.2 230.2 0 0 1 536.33 1660.82L519.99 1671.28A210.8 210.8 0 0 0 517.26 1667.12Z" fill="#f8b19d"/>
<path d="M535.57 1659.64A230.2 230.2 0 0 1 538.47 1664.23L521.94 1674.39A210.8 210.8 0 0 0 519.29 1670.19Z" fill="#f9b3a0"/>
<path d="M537.73 1663.03A230.2 230.2 0 0 1 540.54 1667.67L523.84 1677.54A210.8 210.8 0 0 0 521.27 1673.30Z" fill="#f9b6a3"/>
<path d="M539.82 1666.46A230.2 230.2 0 0 1 542.56 1671.14L525.69 1680.73A210.8 210.8 0 0 0 523.19 1676.44Z" fill="#f9b8a6"/>
<path d="M541.86 1669.92A230.2 230.2 0 0 1 544.51 1674.66L527.48 1683.94A210.8 210.8 0 0 0 525.05 1679.61Z" fill="#f9baa9"/>
<path d="M543.83 1673.42A230.2 230.2 0 0 1 546.40 1678.20L529.21 1687.19A210.8 210.8 0 0 0 526.86 1682.81Z" fill="#fabdac"/>
<path d="M545.75 1676.96A230.2 230.2 0 0 1 548.23 1681.78L530.89 1690.46A210.8 210.8 0 0 0 528.61 1686.05Z" fill="#fabfaf"/>
<path d="M547.60 1680.52A230.2 230.2 0 0 1 550.00 1685.38L532.51 1693.77A210.8 210.8 0 0 0 530.31 1689.31Z" fill="#fac2b2"/>
<path d="M549.39 1684.12A230.2 230.2 0 0 1 551.71 1689.02L534.07 1697.10A210.8 210.8 0 0 0 531.95 1692.61Z" fill="#fac5b6"/>
<path d="M551.12 1687.75A230.2 230.2 0 0 1 553.35 1692.69L535.57 1700.46A210.8 210.8 0 0 0 533.53 1695.93Z" fill="#fbc9bb"/>
<path d="M552.78 1691.40A230.2 230.2 0 0 1 554.92 1696.39L537.01 1703.84A210.8 210.8 0 0 0 535.05 1699.28Z" fill="#fbcdbf"/>
<path d="M554.38 1695.09A230.2 230.2 0 0 1 556.43 1700.11L538.40 1707.25A210.8 210.8 0 0 0 536.51 1702.65Z" fill="#fcd0c4"/>
<path d="M555.91 1698.80A230.2 230.2 0 0 1 557.88 1703.86L539.72 1710.68A210.8 210.8 0 0 0 537.92 1706.05Z" fill="#fcd4c8"/>
<path d="M557.38 1702.54A230.2 230.2 0 0 1 558.16 1704.61L539.98 1711.37A210.8 210.8 0 0 0 539.26 1709.48Z" fill="#fcd6cb"/>
<path d="M561.21 1713.33A230.2 230.2 0 0 1 562.42 1717.16L543.88 1722.87A210.8 210.8 0 0 0 542.77 1719.36Z" fill="#176131"/>
<path d="M562.01 1715.82A230.2 230.2 0 0 1 563.57 1721.01L544.93 1726.39A210.8 210.8 0 0 0 543.50 1721.64Z" fill="#176231"/>
<path d="M563.18 1719.66A230.2 230.2 0 0 1 564.65 1724.88L545.92 1729.94A210.8 210.8 0 0 0 544.57 1725.16Z" fill="#176231"/>
<path d="M564.28 1723.53A230.2 230.2 0 0 1 565.66 1728.77L546.85 1733.50A210.8 210.8 0 0 0 545.58 1728.69Z" fill="#176231"/>
<path d="M565.32 1727.41A230.2 230.2 0 0 1 566.61 1732.67L547.71 1737.07A210.8 210.8 0 0 0 546.53 1732.25Z" fill="#176332"/>
<path d="M566.29 1731.31A230.2 230.2 0 0 1 567.49 1736.60L548.52 1740.66A210.8 210.8 0 0 0 547.42 1735.82Z" fill="#176332"/>
<path d="M567.19 1735.22A230.2 230.2 0 0 1 568.29 1740.53L549.26 1744.27A210.8 210.8 0 0 0 548.24 1739.40Z" fill="#176432"/>
<path d="M568.02 1739.15A230.2 230.2 0 0 1 569.03 1744.48L549.93 1747.88A210.8 210.8 0 0 0 549.00 1743.00Z" fill="#176433"/>
<path d="M568.78 1743.10A230.2 230.2 0 0 1 569.70 1748.44L550.55 1751.51A210.8 210.8 0 0 0 549.70 1746.62Z" fill="#176533"/>
<path d="M569.48 1747.05A230.2 230.2 0 0 1 570.30 1752.41L551.10 1755.15A210.8 210.8 0 0 0 550.34 1750.24Z" fill="#176935"/>
<path d="M570.10 1751.02A230.2 230.2 0 0 1 570.83 1756.40L551.58 1758.79A210.8 210.8 0 0 0 550.91 1753.87Z" fill="#15743a"/>
<path d="M570.66 1755.00A230.2 230.2 0 0 1 571.30 1760.39L552.01 1762.45A210.8 210.8 0 0 0 551.42 1757.52Z" fill="#147f3f"/>
<path d="M571.14 1758.99A230.2 230.2 0 0 1 571.69 1764.39L552.37 1766.11A210.8 210.8 0 0 0 551.87 1761.17Z" fill="#128842"/>
<path d="M571.56 1762.99A230.2 230.2 0 0 1 572.01 1768.39L552.66 1769.78A210.8 210.8 0 0 0 552.25 1764.83Z" fill="#0f9046"/>
<path d="M571.91 1766.99A230.2 230.2 0 0 1 572.26 1772.40L552.89 1773.45A210.8 210.8 0 0 0 552.56 1768.49Z" fill="#0c994a"/>
<path d="M572.18 1771.00A230.2 230.2 0 0 1 572.45 1776.41L553.06 1777.13A210.8 210.8 0 0 0 552.82 1772.16Z" fill="#0c9d4b"/>
<path d="M572.39 1775.01A230.2 230.2 0 0 1 572.56 1780.43L553.16 1780.80A210.8 210.8 0 0 0 553.01 1775.84Z" fill="#0ba04c"/>
<path d="M572.53 1779.02A230.2 230.2 0 0 1 572.60 1784.45L553.20 1784.48A210.8 210.8 0 0 0 553.13 1779.52Z" fill="#0ba44d"/>
<path d="M572.59 1783.04A230.2 230.2 0 0 1 572.57 1788.47L553.17 1788.16A210.8 210.8 0 0 0 553.19 1783.19Z" fill="#0aa74d"/>
<path d="M572.59 1787.06A230.2 230.2 0 0 1 572.47 1792.48L553.08 1791.84A210.8 210.8 0 0 0 553.19 1786.87Z" fill="#0aa94e"/>
<path d="M572.52 1791.08A230.2 230.2 0 0 1 572.31 1796.50L552.93 1795.51A210.8 210.8 0 0 0 553.12 1790.55Z" fill="#0baa4e"/>
<path d="M572.37 1795.09A230.2 230.2 0 0 1 572.07 1800.51L552.71 1799.19A210.8 210.8 0 0 0 552.99 1794.23Z" fill="#0caa4e"/>
<path d="M572.16 1799.10A230.2 230.2 0 0 1 571.76 1804.51L552.43 1802.86A210.8 210.8 0 0 0 552.80 1797.90Z" fill="#0dab4d"/>
<path d="M571.87 1803.11A230.2 230.2 0 0 1 571.38 1808.51L552.08 1806.52A210.8 210.8 0 0 0 552.54 1801.57Z" fill="#0eab4d"/>
<path d="M571.52 1807.11A230.2 230.2 0 0 1 570.93 1812.51L551.67 1810.17A210.8 210.8 0 0 0 552.21 1805.24Z" fill="#0fac4d"/>
<path d="M571.10 1811.11A230.2 230.2 0 0 1 570.42 1816.49L551.20 1813.82A210.8 210.8 0 0 0 551.82 1808.90Z" fill="#12ac4d"/>
<path d="M570.60 1815.10A230.2 230.2 0 0 1 569.83 1820.46L550.66 1817.46A210.8 210.8 0 0 0 551.37 1812.55Z" fill="#15ad4d"/>
<path d="M570.04 1819.07A230.2 230.2 0 0 1 569.17 1824.43L550.06 1821.09A210.8 210.8 0 0 0 550.86 1816.19Z" fill="#19ae4d"/>
<path d="M569.41 1823.04A230.2 230.2 0 0 1 568.45 1828.38L549.40 1824.71A210.8 210.8 0 0 0 550.28 1819.82Z" fill="#1daf4d"/>
<path d="M568.71 1827.00A230.2 230.2 0 0 1 567.65 1832.32L548.67 1828.32A210.8 210.8 0 0 0 549.64 1823.45Z" fill="#21b04c"/>
<path d="M567.94 1830.94A230.2 230.2 0 0 1 566.79 1836.24L547.88 1831.91A210.8 210.8 0 0 0 548.93 1827.06Z" fill="#25b14c"/>
<path d="M567.10 1834.87A230.2 230.2 0 0 1 565.86 1840.15L547.03 1835.49A210.8 210.8 0 0 0 548.16 1830.66Z" fill="#29b14c"/>
<path d="M566.19 1838.78A230.2 230.2 0 0 1 564.86 1844.04L546.11 1839.05A210.8 210.8 0 0 0 547.33 1834.24Z" fill="#2cb24c"/>
<path d="M565.22 1842.68A230.2 230.2 0 0 1 563.79 1847.92L545.14 1842.60A210.8 210.8 0 0 0 546.44 1837.81Z" fill="#2eb24c"/>
<path d="M564.17 1846.56A230.2 230.2 0 0 1 562.66 1851.77L544.10 1846.13A210.8 210.8 0 0 0 545.48 1841.36Z" fill="#31b34b"/>
<path d="M563.06 1850.42A230.2 230.2 0 0 1 561.46 1855.60L543.00 1849.64A210.8 210.8 0 0 0 544.47 1844.90Z" fill="#33b34b"/>
<path d="M561.89 1854.26A230.2 230.2 0 0 1 560.19 1859.42L541.83 1853.13A210.8 210.8 0 0 0 543.39 1848.41Z" fill="#36b34b"/>
<path d="M560.64 1858.08A230.2 230.2 0 0 1 558.85 1863.21L540.61 1856.60A210.8 210.8 0 0 0 542.25 1851.91Z" fill="#38b44a"/>
<path d="M559.33 1861.88A230.2 230.2 0 0 1 557.45 1866.97L539.33 1860.05A210.8 210.8 0 0 0 541.05 1855.39Z" fill="#3bb44a"/>
<path d="M557.95 1865.66A230.2 230.2 0 0 1 555.99 1870.71L537.99 1863.48A210.8 210.8 0 0 0 539.79 1858.85Z" fill="#3db44a"/>
<path d="M556.51 1869.41A230.2 230.2 0 0 1 554.46 1874.43L536.59 1866.88A210.8 210.8 0 0 0 538.46 1862.28Z" fill="#40b549"/>
<path d="M555.00 1873.13A230.2 230.2 0 0 1 552.86 1878.11L535.12 1870.25A210.8 210.8 0 0 0 537.08 1865.69Z" fill="#42b549"/>
<path d="M553.43 1876.83A230.2 230.2 0 0 1 551.20 1881.77L533.60 1873.60A210.8 210.8 0 0 0 535.64 1869.07Z" fill="#44b549"/>
<path d="M551.79 1880.50A230.2 230.2 0 0 1 549.48 1885.40L532.03 1876.93A210.8 210.8 0 0 0 534.14 1872.43Z" fill="#45b549"/>
<path d="M550.09 1884.13A230.2 230.2 0 0 1 547.69 1889.00L530.39 1880.22A210.8 210.8 0 0 0 532.59 1875.77Z" fill="#45b549"/>
<path d="M548.32 1887.74A230.2 230.2 0 0 1 545.84 1892.57L528.70 1883.49A210.8 210.8 0 0 0 530.97 1879.07Z" fill="#45b549"/>
<path d="M546.50 1891.32A230.2 230.2 0 0 1 543.93 1896.10L526.95 1886.73A210.8 210.8 0 0 0 529.30 1882.35Z" fill="#46b549"/>
<path d="M544.61 1894.87A230.2 230.2 0 0 1 541.96 1899.60L525.14 1889.93A210.8 210.8 0 0 0 527.57 1885.60Z" fill="#46b549"/>
<path d="M542.66 1898.38A230.2 230.2 0 0 1 539.93 1903.07L523.28 1893.10A210.8 210.8 0 0 0 525.78 1888.81Z" fill="#47b549"/>
<path d="M540.64 1901.86A230.2 230.2 0 0 1 537.83 1906.50L521.36 1896.24A210.8 210.8 0 0 0 523.94 1892.00Z" fill="#47b549"/>
<path d="M538.57 1905.30A230.2 230.2 0 0 1 535.68 1909.89L519.39 1899.35A210.8 210.8 0 0 0 522.04 1895.15Z" fill="#48b549"/>
<path d="M536.44 1908.71A230.2 230.2 0 0 1 533.47 1913.24L517.37 1902.42A210.8 210.8 0 0 0 520.09 1898.27Z" fill="#48b549"/>
<path d="M534.25 1912.07A230.2 230.2 0 0 1 531.20 1916.56L515.29 1905.46A210.8 210.8 0 0 0 518.08 1901.35Z" fill="#49b549"/>
<path d="M532.00 1915.40A230.2 230.2 0 0 1 528.87 1919.83L513.16 1908.46A210.8 210.8 0 0 0 516.02 1904.40Z" fill="#49b549"/>
<path d="M529.69 1918.69A230.2 230.2 0 0 1 526.49 1923.07L510.97 1911.42A210.8 210.8 0 0 0 513.91 1907.41Z" fill="#49b549"/>
<path d="M527.33 1921.94A230.2 230.2 0 0 1 524.05 1926.26L508.74 1914.34A210.8 210.8 0 0 0 511.74 1910.39Z" fill="#4ab549"/>
<path d="M524.91 1925.15A230.2 230.2 0 0 1 521.55 1929.41L506.45 1917.22A210.8 210.8 0 0 0 509.53 1913.32Z" fill="#4ab549"/>
<path d="M522.43 1928.31A230.2 230.2 0 0 1 519.00 1932.51L504.12 1920.07A210.8 210.8 0 0 0 507.26 1916.22Z" fill="#4bb549"/>
<path d="M519.90 1931.43A230.2 230.2 0 0 1 516.40 1935.57L501.73 1922.87A210.8 210.8 0 0 0 504.94 1919.08Z" fill="#4bb549"/>
<path d="M517.31 1934.51A230.2 230.2 0 0 1 513.74 1938.59L499.30 1925.63A210.8 210.8 0 0 0 502.57 1921.89Z" fill="#4bb549"/>
<path d="M514.68 1937.54A230.2 230.2 0 0 1 511.03 1941.55L496.82 1928.35A210.8 210.8 0 0 0 500.16 1924.67Z" fill="#4cb549"/>
<path d="M511.99 1940.52A230.2 230.2 0 0 1 508.27 1944.47L494.29 1931.02A210.8 210.8 0 0 0 497.69 1927.40Z" fill="#4cb649"/>
<path d="M509.24 1943.45A230.2 230.2 0 0 1 505.46 1947.34L491.72 1933.65A210.8 210.8 0 0 0 495.18 1930.09Z" fill="#4db649"/>
<path d="M506.45 1946.34A230.2 230.2 0 0 1 502.60 1950.16L489.10 1936.23A210.8 210.8 0 0 0 492.62 1932.73Z" fill="#4db649"/>
<path d="M503.61 1949.18A230.2 230.2 0 0 1 499.69 1952.93L486.43 1938.77A210.8 210.8 0 0 0 490.02 1935.33Z" fill="#4db649"/>
<path d="M500.71 1951.97A230.2 230.2 0 0 1 496.73 1955.65L483.73 1941.26A210.8 210.8 0 0 0 487.37 1937.89Z" fill="#4eb649"/>
<path d="M497.77 1954.71A230.2 230.2 0 0 1 493.73 1958.32L480.97 1943.70A210.8 210.8 0 0 0 484.68 1940.39Z" fill="#4eb649"/>
<path d="M494.78 1957.39A230.2 230.2 0 0 1 490.68 1960.93L478.18 1946.10A210.8 210.8 0 0 0 481.94 1942.85Z" fill="#4eb649"/>
<path d="M491.75 1960.03A230.2 230.2 0 0 1 487.58 1963.50L475.35 1948.44A210.8 210.8 0 0 0 479.16 1945.26Z" fill="#4fb748"/>
<path d="M488.67 1962.61A230.2 230.2 0 0 1 484.44 1966.00L472.47 1950.74A210.8 210.8 0 0 0 476.34 1947.63Z" fill="#4fb748"/>
<path d="M485.55 1965.13A230.2 230.2 0 0 1 481.26 1968.45L469.56 1952.98A210.8 210.8 0 0 0 473.48 1949.94Z" fill="#4fb748"/>
<path d="M482.38 1967.60A230.2 230.2 0 0 1 478.03 1970.85L466.60 1955.17A210.8 210.8 0 0 0 470.58 1952.20Z" fill="#50b748"/>
<path d="M479.17 1970.02A230.2 230.2 0 0 1 474.77 1973.19L463.61 1957.32A210.8 210.8 0 0 0 467.64 1954.41Z" fill="#50b748"/>
<path d="M475.91 1972.38A230.2 230.2 0 0 1 471.46 1975.47L460.58 1959.41A210.8 210.8 0 0 0 464.66 1956.57Z" fill="#50b748"/>
<path d="M472.62 1974.68A230.2 230.2 0 0 1 468.11 1977.69L457.52 1961.44A210.8 210.8 0 0 0 461.65 1958.68Z" fill="#51b748"/>
<path d="M469.29 1976.92A230.2 230.2 0 0 1 464.73 1979.86L454.42 1963.42A210.8 210.8 0 0 0 458.59 1960.73Z" fill="#51b848"/>
<path d="M465.92 1979.11A230.2 230.2 0 0 1 461.31 1981.96L451.29 1965.35A210.8 210.8 0 0 0 455.51 1962.74Z" fill="#51b848"/>
<path d="M462.51 1981.23A230.2 230.2 0 0 1 457.85 1984.01L448.12 1967.22A210.8 210.8 0 0 0 452.39 1964.68Z" fill="#52b848"/>
<path d="M459.06 1983.30A230.2 230.2 0 0 1 454.35 1985.99L444.92 1969.04A210.8 210.8 0 0 0 449.23 1966.57Z" fill="#52b848"/>
<path d="M455.58 1985.30A230.2 230.2 0 0 1 450.83 1987.92L441.69 1970.80A210.8 210.8 0 0 0 446.04 1968.41Z" fill="#53b848"/>
<path d="M452.07 1987.25A230.2 230.2 0 0 1 447.27 1989.78L438.43 1972.51A210.8 210.8 0 0 0 442.82 1970.19Z" fill="#53b848"/>
<path d="M448.52 1989.13A230.2 230.2 0 0 1 443.67 1991.58L435.14 1974.15A210.8 210.8 0 0 0 439.57 1971.92Z" fill="#54b848"/>
<path d="M444.93 1990.95A230.2 230.2 0 0 1 440.05 1993.31L431.82 1975.74A210.8 210.8 0 0 0 436.29 1973.58Z" fill="#54b848"/>
<path d="M441.32 1992.71A230.2 230.2 0 0 1 436.40 1994.98L428.48 1977.28A210.8 210.8 0 0 0 432.99 1975.19Z" fill="#54b848"/>
<path d="M437.68 1994.41A230.2 230.2 0 0 1 432.72 1996.59L425.10 1978.75A210.8 210.8 0 0 0 429.65 1976.75Z" fill="#55b847"/>
<path d="M434.01 1996.04A230.2 230.2 0 0 1 429.01 1998.14L421.71 1980.16A210.8 210.8 0 0 0 426.29 1978.24Z" fill="#55b847"/>
<path d="M430.31 1997.60A230.2 230.2 0 0 1 425.27 1999.62L418.29 1981.52A210.8 210.8 0 0 0 422.90 1979.67Z" fill="#56b847"/>
<path d="M426.58 1999.11A230.2 230.2 0 0 1 421.51 2001.03L414.84 1982.81A210.8 210.8 0 0 0 419.49 1981.05Z" fill="#56b847"/>
<path d="M422.83 2000.54A230.2 230.2 0 0 1 417.73 2002.38L411.38 1984.05A210.8 210.8 0 0 0 416.05 1982.36Z" fill="#57b847"/>
<path d="M419.05 2001.91A230.2 230.2 0 0 1 413.92 2003.66L407.89 1985.22A210.8 210.8 0 0 0 412.59 1983.62Z" fill="#57b847"/>
<path d="M415.25 2003.22A230.2 230.2 0 0 1 410.09 2004.87L404.38 1986.33A210.8 210.8 0 0 0 409.11 1984.81Z" fill="#58b947"/>
<path d="M411.43 2004.46A230.2 230.2 0 0 1 406.24 2006.02L400.86 1987.38A210.8 210.8 0 0 0 405.61 1985.95Z" fill="#58b947"/>
<path d="M407.59 2005.63A230.2 230.2 0 0 1 402.37 2007.10L397.31 1988.37A210.8 210.8 0 0 0 402.09 1987.02Z" fill="#59b947"/>
<path d="M403.72 2006.73A230.2 230.2 0 0 1 398.48 2008.11L393.75 1989.30A210.8 210.8 0 0 0 398.56 1988.03Z" fill="#59b947"/>
<path d="M399.84 2007.77A230.2 230.2 0 0 1 394.58 2009.06L390.18 1990.16A210.8 210.8 0 0 0 395.00 1988.98Z" fill="#5ab947"/>
<path d="M395.94 2008.74A230.2 230.2 0 0 1 390.65 2009.94L386.59 1990.97A210.8 210.8 0 0 0 391.43 1989.87Z" fill="#5ab947"/>
<path d="M392.03 2009.64A230.2 230.2 0 0 1 386.72 2010.74L382.98 1991.71A210.8 210.8 0 0 0 387.85 1990.69Z" fill="#5ab946"/>
<path d="M388.10 2010.47A230.2 230.2 0 0 1 382.77 2011.48L379.37 1992.38A210.8 210.8 0 0 0 384.25 1991.45Z" fill="#5bb946"/>
<path d="M384.15 2011.23A230.2 230.2 0 0 1 378.81 2012.15L375.74 1993.00A210.8 210.8 0 0 0 380.63 1992.15Z" fill="#5bb946"/>
<path d="M380.20 2011.93A230.2 230.2 0 0 1 374.84 2012.75L372.10 1993.55A210.8 210.8 0 0 0 377.01 1992.79Z" fill="#5cb946"/>
<path d="M376.23 2012.55A230.2 230.2 0 0 1 370.85 2013.28L368.46 1994.03A210.8 210.8 0 0 0 373.38 1993.36Z" fill="#5cb946"/>
<path d="M372.25 2013.11A230.2 230.2 0 0 1 366.86 2013.75L364.80 1994.46A210.8 210.8 0 0 0 369.73 1993.87Z" fill="#5db946"/>
<path d="M368.26 2013.59A230.2 230.2 0 0 1 362.86 2014.14L361.14 1994.82A210.8 210.8 0 0 0 366.08 1994.32Z" fill="#5eb946"/>
<path d="M364.26 2014.01A230.2 230.2 0 0 1 358.86 2014.46L357.47 1995.11A210.8 210.8 0 0 0 362.42 1994.70Z" fill="#61ba46"/>
<path d="M360.26 2014.36A230.2 230.2 0 0 1 354.85 2014.71L353.80 1995.34A210.8 210.8 0 0 0 358.76 1995.01Z" fill="#63bb45"/>
<path d="M356.25 2014.63A230.2 230.2 0 0 1 350.84 2014.90L350.12 1995.51A210.8 210.8 0 0 0 355.09 1995.27Z" fill="#66bb45"/>
<path d="M352.24 2014.84A230.2 230.2 0 0 1 346.82 2015.01L346.45 1995.61A210.8 210.8 0 0 0 351.41 1995.46Z" fill="#68bc45"/>
<path d="M348.23 2014.98A230.2 230.2 0 0 1 342.80 2015.05L342.77 1995.65A210.8 210.8 0 0 0 347.73 1995.58Z" fill="#6bbd44"/>
<path d="M344.21 2015.04A230.2 230.2 0 0 1 338.78 2015.02L339.09 1995.62A210.8 210.8 0 0 0 344.06 1995.64Z" fill="#6ebd44"/>
<path d="M340.19 2015.04A230.2 230.2 0 0 1 334.77 2014.92L335.41 1995.53A210.8 210.8 0 0 0 340.38 1995.64Z" fill="#70be44"/>
<path d="M336.17 2014.97A230.2 230.2 0 0 1 330.75 2014.76L331.74 1995.38A210.8 210.8 0 0 0 336.70 1995.57Z" fill="#73bf43"/>
<path d="M332.16 2014.82A230.2 230.2 0 0 1 326.74 2014.52L328.06 1995.16A210.8 210.8 0 0 0 333.02 1995.44Z" fill="#75bf43"/>
<path d="M328.15 2014.61A230.2 230.2 0 0 1 322.74 2014.21L324.39 1994.88A210.8 210.8 0 0 0 329.35 1995.25Z" fill="#78c043"/>
<path d="M324.14 2014.32A230.2 230.2 0 0 1 318.74 2013.83L320.73 1994.53A210.8 210.8 0 0 0 325.68 1994.99Z" fill="#7ac142"/>
<path d="M320.14 2013.97A230.2 230.2 0 0 1 314.74 2013.38L317.08 1994.12A210.8 210.8 0 0 0 322.01 1994.66Z" fill="#7dc142"/>
<path d="M316.14 2013.55A230.2 230.2 0 0 1 310.76 2012.87L313.43 1993.65A210.8 210.8 0 0 0 318.35 1994.27Z" fill="#7fc241"/>
<path d="M312.15 2013.05A230.2 230.2 0 0 1 306.79 2012.28L309.79 1993.11A210.8 210.8 0 0 0 314.70 1993.82Z" fill="#81c241"/>
<path d="M308.18 2012.49A230.2 230.2 0 0 1 302.82 2011.62L306.16 1992.51A210.8 210.8 0 0 0 311.06 1993.31Z" fill="#83c341"/>
<path d="M304.21 2011.86A230.2 230.2 0 0 1 298.87 2010.90L302.54 1991.85A210.8 210.8 0 0 0 307.43 1992.73Z" fill="#85c440"/>
<path d="M300.25 2011.16A230.2 230.2 0 0 1 294.93 2010.10L298.93 1991.12A210.8 210.8 0 0 0 303.80 1992.09Z" fill="#87c440"/>
<path d="M296.31 2010.39A230.2 230.2 0 0 1 291.01 2009.24L295.34 1990.33A210.8 210.8 0 0 0 300.19 1991.38Z" fill="#89c540"/>
<path d="M292.38 2009.55A230.2 230.2 0 0 1 287.10 2008.31L291.76 1989.48A210.8 210.8 0 0 0 296.59 1990.61Z" fill="#8bc63f"/>
<path d="M288.47 2008.64A230.2 230.2 0 0 1 283.21 2007.31L288.20 1988.56A210.8 210.8 0 0 0 293.01 1989.78Z" fill="#8dc742"/>
<path d="M284.57 2007.67A230.2 230.2 0 0 1 279.33 2006.24L284.65 1987.59A210.8 210.8 0 0 0 289.44 1988.89Z" fill="#90c849"/>
<path d="M280.69 2006.62A230.2 230.2 0 0 1 275.48 2005.11L281.12 1986.55A210.8 210.8 0 0 0 285.89 1987.93Z" fill="#93c950"/>
<path d="M276.83 2005.51A230.2 230.2 0 0 1 271.65 2003.91L277.61 1985.45A210.8 210.8 0 0 0 282.35 1986.92Z" fill="#96ca58"/>
<path d="M272.99 2004.34A230.2 230.2 0 0 1 267.83 2002.64L274.12 1984.28A210.8 210.8 0 0 0 278.84 1985.84Z" fill="#99cc5f"/>
<path d="M269.17 2003.09A230.2 230.2 0 0 1 264.04 2001.30L270.65 1983.06A210.8 210.8 0 0 0 275.34 1984.70Z" fill="#9bcd66"/>
<path d="M265.37 2001.78A230.2 230.2 0 0 1 260.28 1999.90L267.20 1981.78A210.8 210.8 0 0 0 271.86 1983.50Z" fill="#9ece6e"/>
<path d="M261.59 2000.40A230.2 230.2 0 0 1 256.54 1998.44L263.77 1980.44A210.8 210.8 0 0 0 268.40 1982.24Z" fill="#a1cf73"/>
<path d="M257.84 1998.96A230.2 230.2 0 0 1 252.82 1996.91L260.37 1979.04A210.8 210.8 0 0 0 264.97 1980.91Z" fill="#a2d076"/>
<path d="M254.12 1997.45A230.2 230.2 0 0 1 249.14 1995.31L257.00 1977.57A210.8 210.8 0 0 0 261.56 1979.53Z" fill="#a4d178"/>
<path d="M250.42 1995.88A230.2 230.2 0 0 1 245.48 1993.65L253.65 1976.05A210.8 210.8 0 0 0 258.18 1978.09Z" fill="#a5d17b"/>
<path d="M246.75 1994.24A230.2 230.2 0 0 1 241.85 1991.93L250.32 1974.48A210.8 210.8 0 0 0 254.82 1976.59Z" fill="#a7d27e"/>
<path d="M243.12 1992.54A230.2 230.2 0 0 1 238.25 1990.14L247.03 1972.84A210.8 210.8 0 0 0 251.48 1975.04Z" fill="#a8d380"/>
<path d="M239.51 1990.77A230.2 230.2 0 0 1 234.68 1988.29L243.76 1971.15A210.8 210.8 0 0 0 248.18 1973.42Z" fill="#aad383"/>
<path d="M235.93 1988.95A230.2 230.2 0 0 1 231.15 1986.38L240.52 1969.40A210.8 210.8 0 0 0 244.90 1971.75Z" fill="#acd486"/>
<path d="M232.38 1987.06A230.2 230.2 0 0 1 227.65 1984.41L237.32 1967.59A210.8 210.8 0 0 0 241.65 1970.02Z" fill="#add588"/>
<path d="M228.87 1985.11A230.2 230.2 0 0 1 224.18 1982.38L234.15 1965.73A210.8 210.8 0 0 0 238.44 1968.23Z" fill="#aed58a"/>
<path d="M225.39 1983.09A230.2 230.2 0 0 1 220.75 1980.28L231.01 1963.81A210.8 210.8 0 0 0 235.25 1966.39Z" fill="#afd58b"/>
<path d="M221.95 1981.02A230.2 230.2 0 0 1 217.36 1978.13L227.90 1961.84A210.8 210.8 0 0 0 232.10 1964.49Z" fill="#b0d68c"/>
<path d="M218.54 1978.89A230.2 230.2 0 0 1 214.01 1975.92L224.83 1959.82A210.8 210.8 0 0 0 228.98 1962.54Z" fill="#b1d68d"/>
<path d="M215.18 1976.70A230.2 230.2 0 0 1 210.69 1973.65L221.79 1957.74A210.8 210.8 0 0 0 225.90 1960.53Z" fill="#b1d68e"/>
<path d="M211.85 1974.45A230.2 230.2 0 0 1 207.42 1971.32L218.79 1955.61A210.8 210.8 0 0 0 222.85 1958.47Z" fill="#b2d78f"/>
<path d="M208.56 1972.14A230.2 230.2 0 0 1 204.18 1968.94L215.83 1953.42A210.8 210.8 0 0 0 219.84 1956.36Z" fill="#b3d790"/>
<path d="M205.31 1969.78A230.2 230.2 0 0 1 200.99 1966.50L212.91 1951.19A210.8 210.8 0 0 0 216.86 1954.19Z" fill="#b4d791"/>
<path d="M202.10 1967.36A230.2 230.2 0 0 1 197.84 1964.00L210.03 1948.90A210.8 210.8 0 0 0 213.93 1951.98Z" fill="#b4d892"/>
<path d="M198.94 1964.88A230.2 230.2 0 0 1 194.74 1961.45L207.18 1946.57A210.8 210.8 0 0 0 211.03 1949.71Z" fill="#b5d892"/>
<path d="M195.82 1962.35A230.2 230.2 0 0 1 191.68 1958.85L204.38 1944.18A210.8 210.8 0 0 0 208.17 1947.39Z" fill="#b6d893"/>
<path d="M192.74 1959.76A230.2 230.2 0 0 1 188.66 1956.19L201.62 1941.75A210.8 210.8 0 0 0 205.36 1945.02Z" fill="#b7d894"/>
<path d="M189.71 1957.13A230.2 230.2 0 0 1 185.70 1953.48L198.90 1939.27A210.8 210.8 0 0 0 202.58 1942.61Z" fill="#b7d995"/>
<path d="M186.73 1954.44A230.2 230.2 0 0 1 182.78 1950.72L196.23 1936.74A210.8 210.8 0 0 0 199.85 1940.14Z" fill="#b8d996"/>
<path d="M183.80 1951.69A230.2 230.2 0 0 1 179.91 1947.91L193.60 1934.17A210.8 210.8 0 0 0 197.16 1937.63Z" fill="#b9d997"/>
<path d="M180.91 1948.90A230.2 230.2 0 0 1 177.09 1945.05L191.02 1931.55A210.8 210.8 0 0 0 194.52 1935.07Z" fill="#bada98"/>
<path d="M178.07 1946.06A230.2 230.2 0 0 1 174.32 1942.14L188.48 1928.88A210.8 210.8 0 0 0 191.92 1932.47Z" fill="#bada99"/>
<path d="M175.28 1943.16A230.2 230.2 0 0 1 171.60 1939.18L185.99 1926.18A210.8 210.8 0 0 0 189.36 1929.82Z" fill="#bbda9a"/>
<path d="M172.54 1940.22A230.2 230.2 0 0 1 168.93 1936.18L183.55 1923.42A210.8 210.8 0 0 0 186.86 1927.13Z" fill="#bcdb9b"/>
<path d="M169.86 1937.23A230.2 230.2 0 0 1 166.32 1933.13L181.15 1920.63A210.8 210.8 0 0 0 184.40 1924.39Z" fill="#bddb9b"/>
<path d="M167.22 1934.20A230.2 230.2 0 0 1 163.75 1930.03L178.81 1917.80A210.8 210.8 0 0 0 181.99 1921.61Z" fill="#bddb9c"/>
<path d="M164.64 1931.12A230.2 230.2 0 0 1 161.25 1926.89L176.51 1914.92A210.8 210.8 0 0 0 179.62 1918.79Z" fill="#bedc9e"/>
<path d="M162.12 1928.00A230.2 230.2 0 0 1 158.80 1923.71L174.27 1912.01A210.8 210.8 0 0 0 177.31 1915.93Z" fill="#bfdc9f"/>
<path d="M159.65 1924.83A230.2 230.2 0 0 1 156.40 1920.48L172.08 1909.05A210.8 210.8 0 0 0 175.05 1913.03Z" fill="#c0dca0"/>
<path d="M157.23 1921.62A230.2 230.2 0 0 1 154.06 1917.22L169.93 1906.06A210.8 210.8 0 0 0 172.84 1910.09Z" fill="#c1dda1"/>
<path d="M154.87 1918.36A230.2 230.2 0 0 1 151.78 1913.91L167.84 1903.03A210.8 210.8 0 0 0 170.68 1907.11Z" fill="#c1dda2"/>
<path d="M152.57 1915.07A230.2 230.2 0 0 1 149.56 1910.56L165.81 1899.97A210.8 210.8 0 0 0 168.57 1904.10Z" fill="#c2dea3"/>
<path d="M150.33 1911.74A230.2 230.2 0 0 1 147.39 1907.18L163.83 1896.87A210.8 210.8 0 0 0 166.52 1901.04Z" fill="#c3dea5"/>
<path d="M148.14 1908.37A230.2 230.2 0 0 1 145.29 1903.76L161.90 1893.74A210.8 210.8 0 0 0 164.51 1897.96Z" fill="#c4dea6"/>
<path d="M146.02 1904.96A230.2 230.2 0 0 1 143.24 1900.30L160.03 1890.57A210.8 210.8 0 0 0 162.57 1894.84Z" fill="#c5dfa7"/>
<path d="M143.95 1901.51A230.2 230.2 0 0 1 141.26 1896.80L158.21 1887.37A210.8 210.8 0 0 0 160.68 1891.68Z" fill="#c5dfa8"/>
<path d="M141.95 1898.03A230.2 230.2 0 0 1 139.33 1893.28L156.45 1884.14A210.8 210.8 0 0 0 158.84 1888.49Z" fill="#c6e0a9"/>
<path d="M140.00 1894.52A230.2 230.2 0 0 1 137.47 1889.72L154.74 1880.88A210.8 210.8 0 0 0 157.06 1885.27Z" fill="#c7e0aa"/>
<path d="M138.12 1890.97A230.2 230.2 0 0 1 135.67 1886.12L153.10 1877.59A210.8 210.8 0 0 0 155.33 1882.02Z" fill="#c8e0ab"/>
<path d="M136.30 1887.38A230.2 230.2 0 0 1 133.94 1882.50L151.51 1874.27A210.8 210.8 0 0 0 153.67 1878.74Z" fill="#c9e1ad"/>
<path d="M134.54 1883.77A230.2 230.2 0 0 1 132.27 1878.85L149.97 1870.93A210.8 210.8 0 0 0 152.06 1875.44Z" fill="#c9e1ae"/>
<path d="M132.84 1880.13A230.2 230.2 0 0 1 130.66 1875.17L148.50 1867.55A210.8 210.8 0 0 0 150.50 1872.10Z" fill="#cae2af"/>
<path d="M131.21 1876.46A230.2 230.2 0 0 1 129.11 1871.46L147.09 1864.16A210.8 210.8 0 0 0 149.01 1868.74Z" fill="#cbe2b0"/>
<path d="M129.65 1872.76A230.2 230.2 0 0 1 127.63 1867.72L145.73 1860.74A210.8 210.8 0 0 0 147.58 1865.35Z" fill="#cce2b1"/>
<path d="M128.14 1869.03A230.2 230.2 0 0 1 126.22 1863.96L144.44 1857.29A210.8 210.8 0 0 0 146.20 1861.94Z" fill="#cde3b2"/>
<path d="M126.71 1865.28A230.2 230.2 0 0 1 124.87 1860.18L143.20 1853.83A210.8 210.8 0 0 0 144.89 1858.50Z" fill="#cde3b3"/>
<path d="M125.34 1861.50A230.2 230.2 0 0 1 123.59 1856.37L142.03 1850.34A210.8 210.8 0 0 0 143.63 1855.04Z" fill="#cee3b4"/>
<path d="M124.03 1857.70A230.2 230.2 0 0 1 122.38 1852.54L140.92 1846.83A210.8 210.8 0 0 0 142.44 1851.56Z" fill="#cee4b5"/>
<path d="M122.79 1853.88A230.2 230.2 0 0 1 121.23 1848.69L139.87 1843.31A210.8 210.8 0 0 0 141.30 1848.06Z" fill="#cfe4b6"/>
<path d="M121.62 1850.04A230.2 230.2 0 0 1 120.15 1844.82L138.88 1839.76A210.8 210.8 0 0 0 140.23 1844.54Z" fill="#d0e4b7"/>
<path d="M120.52 1846.17A230.2 230.2 0 0 1 119.14 1840.93L137.95 1836.20A210.8 210.8 0 0 0 139.22 1841.01Z" fill="#d0e5b8"/>
<path d="M119.48 1842.29A230.2 230.2 0 0 1 118.19 1837.03L137.09 1832.63A210.8 210.8 0 0 0 138.27 1837.45Z" fill="#d1e5b8"/>
<path d="M118.51 1838.39A230.2 230.2 0 0 1 117.31 1833.10L136.28 1829.04A210.8 210.8 0 0 0 137.38 1833.88Z" fill="#d1e5b9"/>
<path d="M117.61 1834.48A230.2 230.2 0 0 1 116.51 1829.17L135.54 1825.43A210.8 210.8 0 0 0 136.56 1830.30Z" fill="#d2e6ba"/>
<path d="M116.78 1830.55A230.2 230.2 0 0 1 115.77 1825.22L134.87 1821.82A210.8 210.8 0 0 0 135.80 1826.70Z" fill="#d3e6bb"/>
<path d="M116.02 1826.60A230.2 230.2 0 0 1 115.10 1821.26L134.25 1818.19A210.8 210.8 0 0 0 135.10 1823.08Z" fill="#d3e6bc"/>
<path d="M115.32 1822.65A230.2 230.2 0 0 1 114.50 1817.29L133.70 1814.55A210.8 210.8 0 0 0 134.46 1819.46Z" fill="#d4e6bd"/>
<path d="M114.70 1818.68A230.2 230.2 0 0 1 113.97 1813.30L133.22 1810.91A210.8 210.8 0 0 0 133.89 1815.83Z" fill="#d4e7be"/>
<path d="M114.14 1814.70A230.2 230.2 0 0 1 113.50 1809.31L132.79 1807.25A210.8 210.8 0 0 0 133.38 1812.18Z" fill="#d5e7be"/>
<path d="M113.66 1810.71A230.2 230.2 0 0 1 113.11 1805.31L132.43 1803.59A210.8 210.8 0 0 0 132.93 1808.53Z" fill="#d6e7bf"/>
<path d="M113.24 1806.71A230.2 230.2 0 0 1 112.79 1801.31L132.14 1799.92A210.8 210.8 0 0 0 132.55 1804.87Z" fill="#d6e8c0"/>
<path d="M112.89 1802.71A230.2 230.2 0 0 1 112.54 1797.30L131.91 1796.25A210.8 210.8 0 0 0 132.24 1801.21Z" fill="#d7e8c1"/>
<path d="M112.62 1798.70A230.2 230.2 0 0 1 112.35 1793.29L131.74 1792.57A210.8 210.8 0 0 0 131.98 1797.54Z" fill="#d7e8c2"/>
<path d="M112.41 1794.69A230.2 230.2 0 0 1 112.24 1789.27L131.64 1788.90A210.8 210.8 0 0 0 131.79 1793.86Z" fill="#d8e9c3"/>
<path d="M112.27 1790.68A230.2 230.2 0 0 1 112.20 1785.25L131.60 1785.22A210.8 210.8 0 0 0 131.67 1790.18Z" fill="#d9e9c3"/>
<path d="M112.21 1786.66A230.2 230.2 0 0 1 112.23 1781.23L131.63 1781.54A210.8 210.8 0 0 0 131.61 1786.51Z" fill="#d9e9c4"/>
<path d="M112.21 1782.64A230.2 230.2 0 0 1 112.33 1777.22L131.72 1777.86A210.8 210.8 0 0 0 131.61 1782.83Z" fill="#dae9c5"/>
<path d="M112.28 1778.62A230.2 230.2 0 0 1 112.49 1773.20L131.87 1774.19A210.8 210.8 0 0 0 131.68 1779.15Z" fill="#daeac6"/>
<path d="M112.43 1774.61A230.2 230.2 0 0 1 112.73 1769.19L132.09 1770.51A210.8 210.8 0 0 0 131.81 1775.47Z" fill="#dbeac7"/>
<path d="M112.64 1770.60A230.2 230.2 0 0 1 113.04 1765.19L132.37 1766.84A210.8 210.8 0 0 0 132.00 1771.80Z" fill="#dbeac7"/>
<path d="M112.93 1766.59A230.2 230.2 0 0 1 113.42 1761.19L132.72 1763.18A210.8 210.8 0 0 0 132.26 1768.13Z" fill="#dcebc8"/>
<path d="M113.28 1762.59A230.2 230.2 0 0 1 113.87 1757.19L133.13 1759.53A210.8 210.8 0 0 0 132.59 1764.46Z" fill="#dcebc9"/>
<path d="M113.70 1758.59A230.2 230.2 0 0 1 114.38 1753.21L133.60 1755.88A210.8 210.8 0 0 0 132.98 1760.80Z" fill="#ddebca"/>
<path d="M114.20 1754.60A230.2 230.2 0 0 1 114.97 1749.24L134.14 1752.24A210.8 210.8 0 0 0 133.43 1757.15Z" fill="#ddecca"/>
<path d="M114.76 1750.63A230.2 230.2 0 0 1 115.63 1745.27L134.74 1748.61A210.8 210.8 0 0 0 133.94 1753.51Z" fill="#deeccb"/>
<path d="M115.39 1746.66A230.2 230.2 0 0 1 116.35 1741.32L135.40 1744.99A210.8 210.8 0 0 0 134.52 1749.88Z" fill="#deeccc"/>
<path d="M116.09 1742.70A230.2 230.2 0 0 1 117.15 1737.38L136.13 1741.38A210.8 210.8 0 0 0 135.16 1746.25Z" fill="#dfeccd"/>
<path d="M116.86 1738.76A230.2 230.2 0 0 1 118.01 1733.46L136.92 1737.79A210.8 210.8 0 0 0 135.87 1742.64Z" fill="#dfedcd"/>
<path d="M117.70 1734.83A230.2 230.2 0 0 1 118.94 1729.55L137.77 1734.21A210.8 210.8 0 0 0 136.64 1739.04Z" fill="#e0edce"/>
<path d="M118.61 1730.92A230.2 230.2 0 0 1 119.94 1725.66L138.69 1730.65A210.8 210.8 0 0 0 137.47 1735.46Z" fill="#e0edcf"/>
<path d="M119.58 1727.02A230.2 230.2 0 0 1 121.01 1721.78L139.66 1727.10A210.8 210.8 0 0 0 138.36 1731.89Z" fill="#e1eed0"/>
<path d="M120.63 1723.14A230.2 230.2 0 0 1 122.14 1717.93L140.70 1723.57A210.8 210.8 0 0 0 139.32 1728.34Z" fill="#e1eed0"/>
<path d="M121.74 1719.28A230.2 230.2 0 0 1 123.34 1714.10L141.80 1720.06A210.8 210.8 0 0 0 140.33 1724.80Z" fill="#e2eed1"/>
<path d="M122.91 1715.44A230.2 230.2 0 0 1 123.59 1713.33L142.03 1719.36A210.8 210.8 0 0 0 141.41 1721.29Z" fill="#e2eed2"/>
<path d="M123.48 1706.25A232.6 232.6 0 0 1 561.32 1706.25L538.73 1714.36A208.6 208.6 0 0 0 146.07 1714.36Z" fill="none" stroke="#111" stroke-width="1.3"/>
<path d="M562.59 1709.89A232.6 232.6 0 1 1 122.21 1709.89L144.93 1717.63A208.6 208.6 0 1 0 539.87 1717.63Z" fill="none" stroke="#111" stroke-width="1.3"/>
<path d="M261.5 1597.0Q342.4 1784.85 194.8 1926.4" stroke="#3953a4" stroke-width="2.0" fill="none"/>
<path d="M261.5 1597.0Q342.4 1784.85 226.6 1953.4" stroke="#3953a4" stroke-width="2.0" fill="none"/>
<path d="M261.5 1597.0Q342.4 1784.85 228.3 1954.6" stroke="#3953a4" stroke-width="2.0" fill="none"/>
<path d="M261.5 1597.0Q342.4 1784.85 256.0 1970.2" stroke="#3953a4" stroke-width="2.0" fill="none"/>
<path d="M326.4 1581.0Q342.4 1784.85 363.4 1988.3" stroke="#3953a4" stroke-width="2.0" fill="none"/>
<path d="M326.4 1581.0Q342.4 1784.85 436.4 1966.5" stroke="#3953a4" stroke-width="2.0" fill="none"/>
<path d="M326.4 1581.0Q342.4 1784.85 448.5 1959.7" stroke="#3953a4" stroke-width="2.0" fill="none"/>
<path d="M326.4 1581.0Q342.4 1784.85 464.9 1948.6" stroke="#3953a4" stroke-width="2.0" fill="none"/>
<path d="M450.2 1611.0Q342.4 1784.85 160.4 1878.0" stroke="#3953a4" stroke-width="2.0" fill="none"/>
<path d="M450.2 1611.0Q342.4 1784.85 164.4 1885.6" stroke="#3953a4" stroke-width="2.0" fill="none"/>
<path d="M161.0 1690.4Q342.4 1784.85 139.6 1758.2" stroke="#ed1c24" stroke-width="2.1" fill="none"/>
<path d="M161.0 1690.4Q342.4 1784.85 138.8 1766.0" stroke="#ed1c24" stroke-width="2.1" fill="none"/>
<path d="M161.0 1690.4Q342.4 1784.85 137.9 1788.4" stroke="#ed1c24" stroke-width="2.1" fill="none"/>
<path d="M161.0 1690.4Q342.4 1784.85 502.7 1911.9" stroke="#ed1c24" stroke-width="2.1" fill="none"/>
<path d="M161.7 1689.2Q342.4 1784.85 139.5 1759.6" stroke="#ed1c24" stroke-width="2.1" fill="none"/>
<path d="M161.7 1689.2Q342.4 1784.85 138.0 1777.7" stroke="#ed1c24" stroke-width="2.1" fill="none"/>
<path d="M161.7 1689.2Q342.4 1784.85 138.5 1800.0" stroke="#ed1c24" stroke-width="2.1" fill="none"/>
<path d="M161.7 1689.2Q342.4 1784.85 298.1 1984.5" stroke="#ed1c24" stroke-width="2.1" fill="none"/>
<path d="M161.7 1689.2Q342.4 1784.85 542.7 1743.7" stroke="#ed1c24" stroke-width="2.1" fill="none"/>
<path d="M162.3 1687.9Q342.4 1784.85 141.9 1825.1" stroke="#ed1c24" stroke-width="2.1" fill="none"/>
<path d="M162.3 1687.9Q342.4 1784.85 144.9 1731.9" stroke="#ed1c24" stroke-width="2.1" fill="none"/>
<path d="M162.3 1687.9Q342.4 1784.85 498.1 1917.4" stroke="#ed1c24" stroke-width="2.1" fill="none"/>
<path d="M173.5 1669.6Q342.4 1784.85 144.9 1837.8" stroke="#ed1c24" stroke-width="2.1" fill="none"/>
<path d="M173.5 1669.6Q342.4 1784.85 146.3 1842.9" stroke="#ed1c24" stroke-width="2.1" fill="none"/>
<path d="M173.5 1669.6Q342.4 1784.85 150.2 1854.8" stroke="#ed1c24" stroke-width="2.1" fill="none"/>
<path d="M173.5 1669.6Q342.4 1784.85 474.1 1941.3" stroke="#ed1c24" stroke-width="2.1" fill="none"/>
<path d="M174.3 1668.4Q342.4 1784.85 145.2 1839.2" stroke="#ed1c24" stroke-width="2.1" fill="none"/>
<path d="M174.3 1668.4Q342.4 1784.85 149.2 1851.8" stroke="#ed1c24" stroke-width="2.1" fill="none"/>
<path d="M174.3 1668.4Q342.4 1784.85 151.5 1858.1" stroke="#ed1c24" stroke-width="2.1" fill="none"/>
<path d="M174.3 1668.4Q342.4 1784.85 546.1 1767.0" stroke="#ed1c24" stroke-width="2.1" fill="none"/>
<path d="M175.1 1667.3Q342.4 1784.85 155.1 1867.0" stroke="#ed1c24" stroke-width="2.1" fill="none"/>
<path d="M175.1 1667.3Q342.4 1784.85 157.7 1872.6" stroke="#ed1c24" stroke-width="2.1" fill="none"/>
<path d="M175.1 1667.3Q342.4 1784.85 480.3 1935.9" stroke="#ed1c24" stroke-width="2.1" fill="none"/>
<path d="M175.1 1667.3Q342.4 1784.85 359.5 1988.6" stroke="#ed1c24" stroke-width="2.1" fill="none"/>
<path d="M178.7 1662.3Q342.4 1784.85 161.8 1880.9" stroke="#ed1c24" stroke-width="2.1" fill="none"/>
<path d="M178.7 1662.3Q342.4 1784.85 546.4 1799.1" stroke="#ed1c24" stroke-width="2.1" fill="none"/>
<path d="M190.4 1648.0Q342.4 1784.85 165.8 1888.0" stroke="#ed1c24" stroke-width="2.1" fill="none"/>
<path d="M190.4 1648.0Q342.4 1784.85 169.7 1894.4" stroke="#ed1c24" stroke-width="2.1" fill="none"/>
<path d="M190.4 1648.0Q342.4 1784.85 544.8 1814.0" stroke="#ed1c24" stroke-width="2.1" fill="none"/>
<path d="M192.4 1645.9Q342.4 1784.85 171.3 1896.8" stroke="#ed1c24" stroke-width="2.1" fill="none"/>
<path d="M192.4 1645.9Q342.4 1784.85 377.6 1986.3" stroke="#ed1c24" stroke-width="2.1" fill="none"/>
<path d="M196.5 1641.5Q342.4 1784.85 175.9 1903.6" stroke="#ed1c24" stroke-width="2.1" fill="none"/>
<path d="M196.5 1641.5Q342.4 1784.85 177.6 1905.9" stroke="#ed1c24" stroke-width="2.1" fill="none"/>
<path d="M196.5 1641.5Q342.4 1784.85 546.6 1795.6" stroke="#ed1c24" stroke-width="2.1" fill="none"/>
<path d="M197.5 1640.5Q342.4 1784.85 178.7 1907.4" stroke="#ed1c24" stroke-width="2.1" fill="none"/>
<path d="M197.5 1640.5Q342.4 1784.85 206.6 1937.8" stroke="#ed1c24" stroke-width="2.1" fill="none"/>
<path d="M197.5 1640.5Q342.4 1784.85 410.0 1977.9" stroke="#ed1c24" stroke-width="2.1" fill="none"/>
<path d="M207.4 1631.2Q342.4 1784.85 215.9 1945.6" stroke="#ed1c24" stroke-width="2.1" fill="none"/>
<path d="M207.4 1631.2Q342.4 1784.85 542.3 1741.6" stroke="#ed1c24" stroke-width="2.1" fill="none"/>
<path d="M207.4 1631.2Q342.4 1784.85 423.6 1972.5" stroke="#ed1c24" stroke-width="2.1" fill="none"/>
<path d="M218.8 1622.0Q342.4 1784.85 221.0 1949.5" stroke="#ed1c24" stroke-width="2.1" fill="none"/>
<path d="M218.8 1622.0Q342.4 1784.85 545.4 1809.2" stroke="#ed1c24" stroke-width="2.1" fill="none"/>
<path d="M218.8 1622.0Q342.4 1784.85 428.2 1970.5" stroke="#ed1c24" stroke-width="2.1" fill="none"/>
<path d="M226.3 1616.5Q342.4 1784.85 237.1 1960.1" stroke="#ed1c24" stroke-width="2.1" fill="none"/>
<path d="M226.3 1616.5Q342.4 1784.85 546.2 1767.4" stroke="#ed1c24" stroke-width="2.1" fill="none"/>
<path d="M226.3 1616.5Q342.4 1784.85 441.5 1963.7" stroke="#ed1c24" stroke-width="2.1" fill="none"/>
<path d="M233.1 1612.0Q342.4 1784.85 248.3 1966.4" stroke="#ed1c24" stroke-width="2.1" fill="none"/>
<path d="M233.1 1612.0Q342.4 1784.85 540.7 1835.0" stroke="#ed1c24" stroke-width="2.1" fill="none"/>
<path d="M233.1 1612.0Q342.4 1784.85 386.3 1984.6" stroke="#ed1c24" stroke-width="2.1" fill="none"/>
<path d="M238.3 1608.8Q342.4 1784.85 258.6 1971.4" stroke="#ed1c24" stroke-width="2.1" fill="none"/>
<path d="M238.3 1608.8Q342.4 1784.85 537.8 1845.3" stroke="#ed1c24" stroke-width="2.1" fill="none"/>
<path d="M238.3 1608.8Q342.4 1784.85 385.6 1984.7" stroke="#ed1c24" stroke-width="2.1" fill="none"/>
<path d="M238.3 1608.8Q342.4 1784.85 546.2 1768.4" stroke="#ed1c24" stroke-width="2.1" fill="none"/>
<path d="M151.5 1711.6Q342.4 1784.85 509.1 1903.3" stroke="#ed1c24" stroke-width="2.1" fill="none"/>
<path d="M151.5 1711.6Q342.4 1784.85 292.1 1983.1" stroke="#ed1c24" stroke-width="2.1" fill="none"/>
<path d="M155.6 1701.7Q342.4 1784.85 506.1 1907.4" stroke="#ed1c24" stroke-width="2.1" fill="none"/>
<path d="M155.6 1701.7Q342.4 1784.85 295.0 1983.8" stroke="#ed1c24" stroke-width="2.1" fill="none"/>
<path d="M164.9 1683.2Q342.4 1784.85 496.7 1919.0" stroke="#ed1c24" stroke-width="2.1" fill="none"/>
<path d="M164.9 1683.2Q342.4 1784.85 265.1 1974.2" stroke="#ed1c24" stroke-width="2.1" fill="none"/>
<path d="M164.9 1683.2Q342.4 1784.85 303.7 1985.7" stroke="#ed1c24" stroke-width="2.1" fill="none"/>
<path d="M169.2 1676.2Q342.4 1784.85 269.1 1975.8" stroke="#ed1c24" stroke-width="2.1" fill="none"/>
<path d="M169.2 1676.2Q342.4 1784.85 324.6 1988.6" stroke="#ed1c24" stroke-width="2.1" fill="none"/>
<path d="M248.0 1603.5Q342.4 1784.85 544.6 1815.4" stroke="#ed1c24" stroke-width="2.1" fill="none"/>
<path d="M248.0 1603.5Q342.4 1784.85 321.0 1988.2" stroke="#ed1c24" stroke-width="2.1" fill="none"/>
<path d="M249.6 1602.6Q342.4 1784.85 546.5 1797.7" stroke="#ed1c24" stroke-width="2.1" fill="none"/>
<path d="M249.6 1602.6Q342.4 1784.85 346.7 1989.3" stroke="#ed1c24" stroke-width="2.1" fill="none"/>
<path d="M262.8 1596.5Q342.4 1784.85 544.5 1753.6" stroke="#ed1c24" stroke-width="2.1" fill="none"/>
<path d="M262.8 1596.5Q342.4 1784.85 371.2 1987.3" stroke="#ed1c24" stroke-width="2.1" fill="none"/>
<path d="M252.4 1601.2Q342.4 1784.85 546.9 1784.1" stroke="#ed1c24" stroke-width="2.1" fill="none"/>
<path d="M252.4 1601.2Q342.4 1784.85 399.1 1981.3" stroke="#ed1c24" stroke-width="2.1" fill="none"/>
<path d="M253.7 1600.6Q342.4 1784.85 546.0 1803.7" stroke="#ed1c24" stroke-width="2.1" fill="none"/>
<path d="M253.7 1600.6Q342.4 1784.85 419.3 1974.3" stroke="#ed1c24" stroke-width="2.1" fill="none"/>
<path d="M271.5 1593.1Q342.4 1784.85 539.6 1839.2" stroke="#ed1c24" stroke-width="2.1" fill="none"/>
<path d="M271.5 1593.1Q342.4 1784.85 439.7 1964.7" stroke="#ed1c24" stroke-width="2.1" fill="none"/>
<path d="M263.5 1596.2Q342.4 1784.85 208.0 1939.0" stroke="#ed1c24" stroke-width="2.1" fill="none"/>
<path d="M270.8 1593.3Q342.4 1784.85 219.3 1948.2" stroke="#ed1c24" stroke-width="2.1" fill="none"/>
<path d="M270.8 1593.3Q342.4 1784.85 193.8 1925.4" stroke="#ed1c24" stroke-width="2.1" fill="none"/>
<path d="M287.1 1588.0Q342.4 1784.85 185.1 1915.5" stroke="#ed1c24" stroke-width="2.1" fill="none"/>
<path d="M287.1 1588.0Q342.4 1784.85 546.9 1785.6" stroke="#ed1c24" stroke-width="2.1" fill="none"/>
<path d="M309.4 1583.0Q342.4 1784.85 176.7 1904.8" stroke="#ed1c24" stroke-width="2.1" fill="none"/>
<path d="M309.4 1583.0Q342.4 1784.85 542.5 1742.7" stroke="#ed1c24" stroke-width="2.1" fill="none"/>
<path d="M334.2 1580.5Q342.4 1784.85 263.8 1973.6" stroke="#ed1c24" stroke-width="2.1" fill="none"/>
<path d="M334.2 1580.5Q342.4 1784.85 170.5 1895.6" stroke="#ed1c24" stroke-width="2.1" fill="none"/>
<path d="M367.0 1581.8Q342.4 1784.85 230.4 1956.0" stroke="#ed1c24" stroke-width="2.1" fill="none"/>
<path d="M367.0 1581.8Q342.4 1784.85 162.9 1882.7" stroke="#ed1c24" stroke-width="2.1" fill="none"/>
<path d="M381.1 1584.0Q342.4 1784.85 241.7 1962.8" stroke="#ed1c24" stroke-width="2.1" fill="none"/>
<path d="M406.6 1590.7Q342.4 1784.85 538.3 1726.1" stroke="#ed1c24" stroke-width="2.1" fill="none"/>
<path d="M406.6 1590.7Q342.4 1784.85 186.0 1916.6" stroke="#ed1c24" stroke-width="2.1" fill="none"/>
<path d="M406.6 1590.7Q342.4 1784.85 190.0 1921.2" stroke="#ed1c24" stroke-width="2.1" fill="none"/>
<path d="M408.0 1591.1Q342.4 1784.85 186.9 1917.7" stroke="#ed1c24" stroke-width="2.1" fill="none"/>
<path d="M408.0 1591.1Q342.4 1784.85 190.9 1922.2" stroke="#ed1c24" stroke-width="2.1" fill="none"/>
<path d="M408.0 1591.1Q342.4 1784.85 191.9 1923.3" stroke="#ed1c24" stroke-width="2.1" fill="none"/>
<path d="M463.5 1620.0Q342.4 1784.85 305.1 1985.9" stroke="#ed1c24" stroke-width="2.1" fill="none"/>
<path d="M463.5 1620.0Q342.4 1784.85 326.0 1988.7" stroke="#ed1c24" stroke-width="2.1" fill="none"/>
<path d="M468.3 1623.7Q342.4 1784.85 299.5 1984.8" stroke="#ed1c24" stroke-width="2.1" fill="none"/>
<path d="M468.3 1623.7Q342.4 1784.85 322.4 1988.4" stroke="#ed1c24" stroke-width="2.1" fill="none"/>
<path d="M477.9 1631.7Q342.4 1784.85 270.4 1976.3" stroke="#ed1c24" stroke-width="2.1" fill="none"/>
<path d="M477.9 1631.7Q342.4 1784.85 220.2 1948.8" stroke="#ed1c24" stroke-width="2.1" fill="none"/>
<path d="M488.0 1641.3Q342.4 1784.85 149.7 1853.4" stroke="#ed1c24" stroke-width="2.1" fill="none"/>
<path d="M488.0 1641.3Q342.4 1784.85 158.4 1874.2" stroke="#ed1c24" stroke-width="2.1" fill="none"/>
<path d="M489.0 1642.3Q342.4 1784.85 152.3 1860.1" stroke="#ed1c24" stroke-width="2.1" fill="none"/>
<path d="M500.2 1654.8Q342.4 1784.85 138.6 1801.3" stroke="#ed1c24" stroke-width="2.1" fill="none"/>
<path d="M159.5 1693.3Q342.4 1784.85 519.1 1887.7" stroke="#f9a11b" stroke-width="2.1" fill="none"/>
<path d="M181.9 1658.1Q342.4 1784.85 500.9 1914.1" stroke="#f9a11b" stroke-width="2.1" fill="none"/>
<path d="M203.2 1635.0Q342.4 1784.85 468.6 1945.8" stroke="#f9a11b" stroke-width="2.1" fill="none"/>
<path d="M241.1 1607.2Q342.4 1784.85 443.4 1962.7" stroke="#f9a11b" stroke-width="2.1" fill="none"/>
<path d="M241.1 1607.2Q342.4 1784.85 538.6 1842.6" stroke="#f9a11b" stroke-width="2.1" fill="none"/>
<path d="M287.1 1588.0Q342.4 1784.85 153.7 1863.8" stroke="#f9a11b" stroke-width="2.1" fill="none"/>
<path d="M309.4 1583.0Q342.4 1784.85 146.9 1845.0" stroke="#f9a11b" stroke-width="2.1" fill="none"/>
<path d="M318.5 1581.7Q342.4 1784.85 146.1 1727.5" stroke="#f9a11b" stroke-width="2.1" fill="none"/>
<path d="M318.5 1581.7Q342.4 1784.85 341.0 1989.3" stroke="#f9a11b" stroke-width="2.1" fill="none"/>
<path d="M352.0 1580.6Q342.4 1784.85 280.6 1979.8" stroke="#f9a11b" stroke-width="2.1" fill="none"/>
<path d="M376.2 1583.2Q342.4 1784.85 245.4 1964.9" stroke="#f9a11b" stroke-width="2.1" fill="none"/>
<path d="M376.2 1583.2Q342.4 1784.85 543.6 1748.3" stroke="#f9a11b" stroke-width="2.1" fill="none"/>
<path d="M386.7 1585.2Q342.4 1784.85 543.3 1746.5" stroke="#f9a11b" stroke-width="2.1" fill="none"/>
<path d="M402.2 1589.3Q342.4 1784.85 540.3 1733.3" stroke="#f9a11b" stroke-width="2.1" fill="none"/>
<line x1="137.4" y1="1681.7" x2="127.3" y2="1676.7" stroke="#111" stroke-width="1.1" />
<line x1="162.8" y1="1642.0" x2="153.9" y2="1634.9" stroke="#111" stroke-width="1.1" />
<line x1="185.6" y1="1617.3" x2="177.9" y2="1609.0" stroke="#111" stroke-width="1.1" />
<line x1="228.7" y1="1585.5" x2="223.1" y2="1575.7" stroke="#111" stroke-width="1.1" />
<line x1="306.5" y1="1558.2" x2="304.7" y2="1547.0" stroke="#111" stroke-width="1.1" />
<line x1="316.2" y1="1556.8" x2="314.9" y2="1545.6" stroke="#111" stroke-width="1.1" />
<line x1="353.2" y1="1555.6" x2="353.7" y2="1544.3" stroke="#111" stroke-width="1.1" />
<line x1="381.1" y1="1558.6" x2="383.0" y2="1547.5" stroke="#111" stroke-width="1.1" />
<line x1="409.5" y1="1565.4" x2="412.8" y2="1554.6" stroke="#111" stroke-width="1.1" />
<text transform="translate(123.3 1675.4) rotate(26.0)" x="-69.6" y="8.7" font-size="24.3" font-style="italic" textLength="69.6" lengthAdjust="spacingAndGlyphs">GREB1</text>
<text transform="translate(148.5 1632.9) rotate(40.6)" x="-76.0" y="8.7" font-size="24.3" font-style="italic" textLength="76.0" lengthAdjust="spacingAndGlyphs">IGFBP4</text>
<text transform="translate(174.4 1605.9) rotate(55.0)" x="-53.0" y="8.7" font-size="24.3" font-style="italic" textLength="53.0" lengthAdjust="spacingAndGlyphs">IGHE</text>
<text transform="translate(225.4 1569.5) rotate(59.9)" x="-57.0" y="8.7" font-size="24.3" font-style="italic" textLength="57.0" lengthAdjust="spacingAndGlyphs">RARA</text>
<text transform="translate(297.3 1542.0) rotate(80.1)" x="-56.0" y="8.7" font-size="24.3" font-style="italic" textLength="56.0" lengthAdjust="spacingAndGlyphs">SOX9</text>
<text transform="translate(316.1 1538.5) rotate(-92.5)" x="0.0" y="8.7" font-size="24.3" font-style="italic" textLength="104.0" lengthAdjust="spacingAndGlyphs">SERPINA5</text>
<text transform="translate(353.6 1533.0) rotate(-87.5)" x="0.0" y="8.7" font-size="24.3" font-style="italic" textLength="80.8" lengthAdjust="spacingAndGlyphs">TFAP2C</text>
<text transform="translate(385.6 1537.2) rotate(-81.6)" x="0.0" y="8.7" font-size="24.3" font-style="italic" textLength="94.5" lengthAdjust="spacingAndGlyphs">SLC16A6</text>
<text transform="translate(415.7 1543.5) rotate(-73.4)" x="0.0" y="8.7" font-size="24.3" font-style="italic" textLength="93.7" lengthAdjust="spacingAndGlyphs">FAM102A</text>
<text x="995.6" y="1455.8" font-size="27.5" textLength="82.9" lengthAdjust="spacingAndGlyphs">Chr17:</text>
<text x="1085.5" y="1455.8" font-size="27.5" font-style="italic" textLength="67.7" lengthAdjust="spacingAndGlyphs">SOX9</text>
<text x="1203.6" y="1469.1" font-size="27.5" textLength="52.4" lengthAdjust="spacingAndGlyphs">5 kb</text>
<line x1="1266.1" y1="1465.9" x2="1357.0" y2="1465.9" stroke="#555" stroke-width="1.3" />
<rect x="1252.3" y="1497.2" width="30.6" height="495.5" fill="#ececec" />
<path d="M1012.1 1516.3V1515.0H1012.9V1515.1H1013.7V1515.4H1014.5V1514.7H1015.3V1514.6H1016.1V1514.5H1016.9V1515.5H1017.7V1515.0H1018.5V1515.2H1019.3V1514.4H1020.1V1514.1H1020.9V1514.0H1021.7V1514.4H1022.5V1514.4H1023.3V1514.9H1024.1V1515.2H1024.9V1515.0H1025.7V1515.3H1026.5V1515.3H1027.3V1515.5H1028.1V1515.4H1028.9V1514.8H1029.7V1514.9H1030.5V1514.9H1031.3V1515.0H1032.1V1515.1H1032.9V1515.3H1033.7V1513.8H1034.5V1513.8H1035.3V1514.0H1036.1V1512.7H1036.9V1513.1H1037.7V1513.0H1038.5V1512.8H1039.3V1512.7H1040.1V1513.0H1040.9V1512.6H1041.7V1512.8H1042.5V1512.7H1043.3V1512.3H1044.1V1512.5H1044.9V1512.4H1045.7V1514.3H1046.5V1514.0H1047.3V1514.2H1048.1V1514.7H1048.9V1514.6H1049.7V1514.6H1050.5V1514.7H1051.3V1514.6H1052.1V1514.5H1052.9V1514.4H1053.7V1514.3H1054.5V1514.6H1055.3V1515.0H1056.1V1514.8H1056.9V1515.1H1057.7V1515.0H1058.5V1514.8H1059.3V1514.5H1060.1V1513.9H1060.9V1513.7H1061.7V1514.0H1062.5V1513.6H1063.3V1513.8H1064.1V1513.9H1064.9V1514.4H1065.7V1514.2H1066.5V1514.7H1067.3V1513.4H1068.1V1513.4H1068.9V1513.5H1069.7V1513.1H1070.5V1513.1H1071.3V1513.2H1072.1V1514.2H1072.9V1514.4H1073.7V1514.6H1074.5V1514.2H1075.3V1514.3H1076.1V1514.3H1076.9V1514.0H1077.7V1514.0H1078.5V1514.1H1079.3V1515.1H1080.1V1515.2H1080.9V1514.9H1081.7V1513.6H1082.5V1513.6H1083.3V1513.6H1084.1V1514.2H1084.9V1514.3H1085.7V1514.6H1086.5V1515.5H1087.3V1516.3H1088.1V1516.3H1088.9V1516.3H1089.7V1516.3H1090.5V1515.5H1091.3V1515.2H1092.1V1515.4H1092.9V1515.3H1093.7V1514.2H1094.5V1514.3H1095.3V1514.2H1096.1V1515.2H1096.9V1515.1H1097.7V1515.3H1098.5V1515.0H1099.3V1515.2H1100.1V1515.4H1100.9V1514.3H1101.7V1514.7H1102.5V1514.7H1103.3V1514.8H1104.1V1515.2H1104.9V1514.9H1105.7V1514.1H1106.5V1514.3H1107.3V1513.9H1108.1V1513.4H1108.9V1513.6H1109.7V1513.4H1110.5V1513.9H1111.3V1514.0H1112.1V1513.8H1112.9V1515.0H1113.7V1514.6H1114.5V1514.6H1115.3V1514.7H1116.1V1515.0H1116.9V1514.6H1117.7V1514.0H1118.5V1514.1H1119.3V1514.2H1120.1V1513.4H1120.9V1513.0H1121.7V1512.9H1122.5V1513.6H1123.3V1513.2H1124.1V1516.3H1124.9V1516.3H1125.7V1516.3H1126.5V1516.3H1127.3V1514.1H1128.1V1514.2H1128.9V1514.3H1129.7V1514.8H1130.5V1515.0H1131.3V1514.9H1132.1V1516.3H1132.9V1516.3H1133.7V1516.3H1134.5V1516.3H1135.3V1514.8H1136.1V1514.9H1136.9V1515.1H1137.7V1514.8H1138.5V1514.7H1139.3V1516.3H1140.1V1516.3H1140.9V1516.3H1141.7V1516.3H1142.5V1516.3H1143.3V1516.3H1144.1V1516.3H1144.9V1516.3H1145.7V1514.9H1146.5V1513.8H1147.3V1513.7H1148.1V1513.9H1148.9V1514.4H1149.7V1514.0H1150.5V1516.3H1151.3V1516.3H1152.1V1513.4H1152.9V1513.1H1153.7V1514.6H1154.5V1514.6H1155.3V1514.2H1156.1V1513.4H1156.9V1513.7H1157.7V1513.5H1158.5V1513.2H1159.3V1513.1H1160.1V1513.3H1160.9V1514.5H1161.7V1514.2H1162.5V1514.4H1163.3V1513.4H1164.1V1513.5H1164.9V1513.2H1165.7V1513.2H1166.5V1512.8H1167.3V1513.2H1168.1V1514.0H1168.9V1514.5H1169.7V1514.4H1170.5V1513.1H1171.3V1513.3H1172.1V1513.3H1172.9V1513.9H1173.7V1514.2H1174.5V1513.8H1175.3V1514.0H1176.1V1514.0H1176.9V1514.4H1177.7V1514.7H1178.5V1514.9H1179.3V1514.6H1180.1V1515.5H1180.9V1514.9H1181.7V1515.3H1182.5V1514.5H1183.3V1514.6H1184.1V1514.7H1184.9V1513.1H1185.7V1513.1H1186.5V1513.6H1187.3V1514.2H1188.1V1514.0H1188.9V1514.2H1189.7V1513.6H1190.5V1513.9H1191.3V1513.7H1192.1V1514.4H1192.9V1514.5H1193.7V1514.4H1194.5V1513.1H1195.3V1513.0H1196.1V1513.0H1196.9V1512.6H1197.7V1512.7H1198.5V1512.7H1199.3V1513.4H1200.1V1513.4H1200.9V1513.7H1201.7V1514.1H1202.5V1514.1H1203.3V1514.1H1204.1V1514.8H1204.9V1514.7H1205.7V1514.8H1206.5V1514.4H1207.3V1514.4H1208.1V1514.1H1208.9V1514.4H1209.7V1514.5H1210.5V1514.3H1211.3V1515.0H1212.1V1514.8H1212.9V1515.2H1213.7V1513.8H1214.5V1513.5H1215.3V1513.3H1216.1V1513.2H1216.9V1513.3H1217.7V1513.1H1218.5V1512.7H1219.3V1512.4H1220.1V1512.8H1220.9V1512.6H1221.7V1512.5H1222.5V1512.2H1223.3V1512.2H1224.1V1512.3H1224.9V1512.3H1225.7V1512.9H1226.5V1512.8H1227.3V1512.9H1228.1V1512.8H1228.9V1513.0H1229.7V1513.1H1230.5V1512.2H1231.3V1512.4H1232.1V1512.4H1232.9V1512.4H1233.7V1512.4H1234.5V1512.5H1235.3V1513.9H1236.1V1513.5H1236.9V1513.6H1237.7V1513.9H1238.5V1513.7H1239.3V1513.8H1240.1V1514.7H1240.9V1514.4H1241.7V1514.6H1242.5V1514.4H1243.3V1514.7H1244.1V1514.8H1244.9V1514.2H1245.7V1514.1H1246.5V1514.2H1247.3V1513.6H1248.1V1513.9H1248.9V1513.7H1249.7V1514.0H1250.5V1513.8H1251.3V1513.6H1252.1V1513.9H1252.9V1513.6H1253.7V1513.8H1254.5V1513.1H1255.3V1512.7H1256.1V1512.8H1256.9V1512.9H1257.7V1512.7H1258.5V1513.0H1259.3V1513.5H1260.1V1513.5H1260.9V1512.9H1261.7V1512.6H1262.5V1510.7H1263.3V1509.4H1264.1V1509.1H1264.9V1509.4H1265.7V1508.0H1266.5V1508.9H1267.3V1510.6H1268.1V1510.8H1268.9V1512.3H1269.7V1511.8H1270.5V1512.9H1271.3V1513.3H1272.1V1513.4H1272.9V1514.0H1273.7V1514.1H1274.5V1513.9H1275.3V1514.3H1276.1V1514.1H1276.9V1514.2H1277.7V1513.9H1278.5V1513.0H1279.3V1512.9H1280.1V1513.0H1280.9V1514.1H1281.7V1514.1H1282.5V1513.9H1283.3V1513.1H1284.1V1516.3H1284.9V1516.3H1285.7V1516.3H1286.5V1516.3H1287.3V1514.0H1288.1V1515.1H1288.9V1515.1H1289.7V1515.2H1290.5V1514.6H1291.3V1514.7H1292.1V1514.8H1292.9V1514.2H1293.7V1514.3H1294.5V1514.4H1295.3V1514.5H1296.1V1514.3H1296.9V1514.3H1297.7V1514.0H1298.5V1514.3H1299.3V1514.1H1300.1V1514.2H1300.9V1514.0H1301.7V1514.4H1302.5V1514.8H1303.3V1514.8H1304.1V1514.9H1304.9V1515.3H1305.7V1515.3H1306.5V1515.3H1307.3V1513.9H1308.1V1513.8H1308.9V1513.7H1309.7V1513.4H1310.5V1513.3H1311.3V1513.3H1312.1V1513.3H1312.9V1513.4H1313.7V1513.3H1314.5V1513.1H1315.3V1513.2H1316.1V1513.2H1316.9V1512.9H1317.7V1513.0H1318.5V1513.2H1319.3V1513.9H1320.1V1513.8H1320.9V1513.9H1321.7V1514.5H1322.5V1514.7H1323.3V1514.7H1324.1V1515.2H1324.9V1515.1H1325.7V1515.3H1326.5V1514.9H1327.3V1515.2H1328.1V1515.0H1328.9V1513.5H1329.7V1513.6H1330.5V1513.5H1331.3V1513.7H1332.1V1513.7H1332.9V1513.3H1333.7V1514.5H1334.5V1514.0H1335.3V1514.2H1336.1V1514.4H1336.9V1514.3H1337.7V1514.6H1338.5V1513.8H1339.3V1513.7H1340.1V1514.0H1340.9V1513.8H1341.7V1513.7H1342.5V1513.9H1343.3V1513.0H1344.1V1513.3H1344.9V1513.4H1345.7V1512.5H1346.5V1512.4H1347.3V1512.9H1348.1V1512.3H1348.9V1512.5H1349.7V1512.4H1350.5V1512.4H1351.3V1512.7H1352.1V1512.5H1352.9V1513.6H1353.7V1513.9H1354.5V1513.7H1355.3V1513.4H1356.1V1513.6H1356.9V1513.4H1357.7V1514.6H1358.5V1514.3H1359.3V1516.3Z" fill="#fbc06e"/>
<path d="M1012.1 1553.6V1550.9H1012.9V1551.4H1013.7V1551.3H1014.5V1550.5H1015.3V1550.5H1016.1V1550.7H1016.9V1550.7H1017.7V1550.7H1018.5V1550.9H1019.3V1551.2H1020.1V1551.0H1020.9V1550.9H1021.7V1550.4H1022.5V1550.4H1023.3V1550.5H1024.1V1552.0H1024.9V1551.7H1025.7V1551.8H1026.5V1551.6H1027.3V1551.8H1028.1V1551.8H1028.9V1552.4H1029.7V1552.2H1030.5V1552.3H1031.3V1551.5H1032.1V1551.7H1032.9V1551.9H1033.7V1550.7H1034.5V1550.7H1035.3V1550.6H1036.1V1550.4H1036.9V1550.6H1037.7V1550.3H1038.5V1550.2H1039.3V1549.9H1040.1V1549.9H1040.9V1550.7H1041.7V1550.7H1042.5V1550.5H1043.3V1550.8H1044.1V1551.1H1044.9V1550.8H1045.7V1550.4H1046.5V1550.4H1047.3V1550.2H1048.1V1550.4H1048.9V1550.5H1049.7V1550.5H1050.5V1550.6H1051.3V1550.2H1052.1V1550.6H1052.9V1550.2H1053.7V1549.8H1054.5V1550.0H1055.3V1550.6H1056.1V1550.6H1056.9V1550.6H1057.7V1551.5H1058.5V1551.3H1059.3V1551.1H1060.1V1551.3H1060.9V1550.9H1061.7V1551.0H1062.5V1550.6H1063.3V1550.3H1064.1V1550.7H1064.9V1550.7H1065.7V1550.7H1066.5V1550.4H1067.3V1551.7H1068.1V1551.5H1068.9V1551.8H1069.7V1551.9H1070.5V1552.2H1071.3V1552.0H1072.1V1552.6H1072.9V1552.7H1073.7V1552.4H1074.5V1552.3H1075.3V1552.8H1076.1V1552.4H1076.9V1552.7H1077.7V1552.4H1078.5V1552.7H1079.3V1552.4H1080.1V1552.6H1080.9V1552.8H1081.7V1551.2H1082.5V1551.3H1083.3V1551.1H1084.1V1550.8H1084.9V1551.2H1085.7V1551.1H1086.5V1552.1H1087.3V1551.9H1088.1V1551.9H1088.9V1550.8H1089.7V1550.8H1090.5V1550.9H1091.3V1551.3H1092.1V1551.1H1092.9V1551.3H1093.7V1552.1H1094.5V1551.9H1095.3V1552.3H1096.1V1551.6H1096.9V1551.6H1097.7V1551.8H1098.5V1550.7H1099.3V1550.5H1100.1V1550.6H1100.9V1551.9H1101.7V1552.1H1102.5V1552.1H1103.3V1552.7H1104.1V1552.7H1104.9V1552.5H1105.7V1551.7H1106.5V1551.8H1107.3V1551.7H1108.1V1553.6H1108.9V1553.6H1109.7V1553.6H1110.5V1553.6H1111.3V1551.5H1112.1V1551.7H1112.9V1551.6H1113.7V1551.9H1114.5V1551.9H1115.3V1551.9H1116.1V1551.6H1116.9V1551.8H1117.7V1552.5H1118.5V1552.5H1119.3V1553.6H1120.1V1553.6H1120.9V1553.6H1121.7V1553.6H1122.5V1552.0H1123.3V1552.0H1124.1V1552.1H1124.9V1552.0H1125.7V1551.9H1126.5V1552.0H1127.3V1552.2H1128.1V1551.0H1128.9V1549.5H1129.7V1550.3H1130.5V1552.0H1131.3V1552.5H1132.1V1551.1H1132.9V1551.2H1133.7V1551.3H1134.5V1551.5H1135.3V1553.6H1136.1V1553.6H1136.9V1553.6H1137.7V1553.6H1138.5V1552.0H1139.3V1551.2H1140.1V1551.1H1140.9V1551.1H1141.7V1551.2H1142.5V1551.3H1143.3V1551.5H1144.1V1552.3H1144.9V1551.9H1145.7V1552.0H1146.5V1550.8H1147.3V1551.1H1148.1V1550.8H1148.9V1550.4H1149.7V1550.5H1150.5V1550.6H1151.3V1550.8H1152.1V1551.1H1152.9V1551.0H1153.7V1551.0H1154.5V1551.1H1155.3V1551.0H1156.1V1550.7H1156.9V1550.8H1157.7V1553.6H1158.5V1553.6H1159.3V1553.6H1160.1V1553.6H1160.9V1553.6H1161.7V1553.6H1162.5V1553.6H1163.3V1553.6H1164.1V1550.4H1164.9V1550.6H1165.7V1551.4H1166.5V1551.3H1167.3V1551.5H1168.1V1552.3H1168.9V1552.4H1169.7V1552.1H1170.5V1551.5H1171.3V1551.5H1172.1V1551.7H1172.9V1551.1H1173.7V1551.2H1174.5V1551.6H1175.3V1551.2H1176.1V1551.5H1176.9V1551.1H1177.7V1551.3H1178.5V1551.5H1179.3V1551.2H1180.1V1550.8H1180.9V1551.0H1181.7V1550.9H1182.5V1552.0H1183.3V1551.8H1184.1V1552.2H1184.9V1551.7H1185.7V1551.7H1186.5V1551.6H1187.3V1550.6H1188.1V1550.7H1188.9V1550.5H1189.7V1551.2H1190.5V1551.2H1191.3V1551.2H1192.1V1550.8H1192.9V1550.6H1193.7V1550.7H1194.5V1550.4H1195.3V1550.6H1196.1V1550.9H1196.9V1550.9H1197.7V1550.8H1198.5V1551.0H1199.3V1550.8H1200.1V1550.3H1200.9V1550.5H1201.7V1550.5H1202.5V1550.5H1203.3V1550.9H1204.1V1550.3H1204.9V1550.6H1205.7V1550.3H1206.5V1550.8H1207.3V1550.5H1208.1V1550.9H1208.9V1550.8H1209.7V1550.9H1210.5V1550.7H1211.3V1551.3H1212.1V1550.9H1212.9V1551.3H1213.7V1552.2H1214.5V1552.0H1215.3V1552.1H1216.1V1551.3H1216.9V1551.2H1217.7V1551.4H1218.5V1551.8H1219.3V1552.0H1220.1V1552.0H1220.9V1551.3H1221.7V1551.0H1222.5V1551.0H1223.3V1550.7H1224.1V1550.9H1224.9V1550.1H1225.7V1549.9H1226.5V1549.7H1227.3V1550.9H1228.1V1551.3H1228.9V1551.5H1229.7V1551.5H1230.5V1552.1H1231.3V1552.4H1232.1V1552.2H1232.9V1551.2H1233.7V1551.4H1234.5V1551.1H1235.3V1552.1H1236.1V1552.2H1236.9V1552.1H1237.7V1550.9H1238.5V1551.0H1239.3V1551.2H1240.1V1551.8H1240.9V1551.9H1241.7V1551.9H1242.5V1550.9H1243.3V1550.5H1244.1V1550.7H1244.9V1551.4H1245.7V1551.5H1246.5V1551.3H1247.3V1552.0H1248.1V1552.1H1248.9V1551.8H1249.7V1550.9H1250.5V1550.8H1251.3V1550.6H1252.1V1551.6H1252.9V1551.6H1253.7V1551.6H1254.5V1551.1H1255.3V1551.1H1256.1V1550.9H1256.9V1551.6H1257.7V1551.6H1258.5V1551.8H1259.3V1551.0H1260.1V1550.7H1260.9V1550.7H1261.7V1551.0H1262.5V1548.6H1263.3V1546.7H1264.1V1545.6H1264.9V1546.1H1265.7V1543.3H1266.5V1542.9H1267.3V1547.5H1268.1V1550.0H1268.9V1551.0H1269.7V1551.1H1270.5V1550.7H1271.3V1551.4H1272.1V1551.2H1272.9V1551.6H1273.7V1550.7H1274.5V1550.7H1275.3V1550.6H1276.1V1550.9H1276.9V1551.0H1277.7V1551.0H1278.5V1551.4H1279.3V1551.5H1280.1V1551.2H1280.9V1551.7H1281.7V1551.5H1282.5V1551.8H1283.3V1551.6H1284.1V1552.1H1284.9V1552.0H1285.7V1552.3H1286.5V1552.3H1287.3V1552.3H1288.1V1552.3H1288.9V1552.3H1289.7V1552.1H1290.5V1552.2H1291.3V1552.0H1292.1V1552.3H1292.9V1552.3H1293.7V1552.5H1294.5V1552.3H1295.3V1552.5H1296.1V1552.4H1296.9V1552.6H1297.7V1551.4H1298.5V1551.5H1299.3V1551.2H1300.1V1551.7H1300.9V1551.6H1301.7V1551.7H1302.5V1550.8H1303.3V1550.8H1304.1V1550.8H1304.9V1549.9H1305.7V1550.0H1306.5V1550.2H1307.3V1550.9H1308.1V1551.1H1308.9V1551.1H1309.7V1550.3H1310.5V1553.6H1311.3V1553.6H1312.1V1553.6H1312.9V1553.6H1313.7V1549.7H1314.5V1551.7H1315.3V1551.6H1316.1V1551.7H1316.9V1552.0H1317.7V1552.3H1318.5V1551.9H1319.3V1551.7H1320.1V1551.3H1320.9V1551.6H1321.7V1551.4H1322.5V1551.7H1323.3V1551.5H1324.1V1552.4H1324.9V1552.1H1325.7V1552.1H1326.5V1551.7H1327.3V1551.6H1328.1V1552.0H1328.9V1551.8H1329.7V1551.8H1330.5V1551.8H1331.3V1552.3H1332.1V1552.2H1332.9V1552.1H1333.7V1551.3H1334.5V1551.3H1335.3V1551.4H1336.1V1551.2H1336.9V1551.6H1337.7V1551.6H1338.5V1550.7H1339.3V1550.9H1340.1V1550.9H1340.9V1551.5H1341.7V1551.5H1342.5V1551.5H1343.3V1550.7H1344.1V1550.8H1344.9V1550.8H1345.7V1551.4H1346.5V1551.2H1347.3V1551.6H1348.1V1550.9H1348.9V1551.0H1349.7V1551.3H1350.5V1551.2H1351.3V1551.3H1352.1V1551.0H1352.9V1550.9H1353.7V1550.8H1354.5V1550.8H1355.3V1551.4H1356.1V1551.0H1356.9V1551.0H1357.7V1550.6H1358.5V1550.9H1359.3V1553.6Z" fill="#93bde3"/>
<path d="M1012.1 1590.1V1589.0H1012.9V1589.1H1013.7V1588.9H1014.5V1588.4H1015.3V1588.5H1016.1V1588.0H1016.9V1588.7H1017.7V1588.2H1018.5V1588.5H1019.3V1587.5H1020.1V1587.4H1020.9V1587.7H1021.7V1587.1H1022.5V1587.3H1023.3V1587.2H1024.1V1587.4H1024.9V1587.0H1025.7V1587.1H1026.5V1588.1H1027.3V1587.7H1028.1V1587.9H1028.9V1587.2H1029.7V1587.2H1030.5V1587.1H1031.3V1587.6H1032.1V1587.8H1032.9V1587.5H1033.7V1587.2H1034.5V1587.2H1035.3V1587.1H1036.1V1586.4H1036.9V1586.3H1037.7V1586.5H1038.5V1587.1H1039.3V1587.1H1040.1V1586.9H1040.9V1586.9H1041.7V1587.1H1042.5V1586.9H1043.3V1586.4H1044.1V1586.6H1044.9V1586.9H1045.7V1586.2H1046.5V1586.2H1047.3V1586.4H1048.1V1586.8H1048.9V1586.4H1049.7V1586.6H1050.5V1587.8H1051.3V1587.4H1052.1V1587.3H1052.9V1587.1H1053.7V1587.1H1054.5V1586.8H1055.3V1587.2H1056.1V1586.9H1056.9V1586.2H1057.7V1585.5H1058.5V1585.1H1059.3V1585.1H1060.1V1585.9H1060.9V1585.8H1061.7V1586.1H1062.5V1587.3H1063.3V1587.3H1064.1V1587.4H1064.9V1586.7H1065.7V1586.6H1066.5V1586.8H1067.3V1586.2H1068.1V1586.2H1068.9V1586.5H1069.7V1587.0H1070.5V1587.3H1071.3V1587.0H1072.1V1587.4H1072.9V1587.0H1073.7V1587.1H1074.5V1587.1H1075.3V1586.9H1076.1V1586.9H1076.9V1588.6H1077.7V1588.3H1078.5V1588.1H1079.3V1588.6H1080.1V1588.6H1080.9V1588.7H1081.7V1588.6H1082.5V1588.6H1083.3V1588.5H1084.1V1588.7H1084.9V1588.4H1085.7V1588.9H1086.5V1588.0H1087.3V1588.2H1088.1V1588.2H1088.9V1587.5H1089.7V1587.5H1090.5V1587.4H1091.3V1587.3H1092.1V1587.2H1092.9V1587.2H1093.7V1586.8H1094.5V1586.5H1095.3V1586.9H1096.1V1587.4H1096.9V1587.3H1097.7V1587.6H1098.5V1588.4H1099.3V1588.2H1100.1V1588.4H1100.9V1587.2H1101.7V1587.6H1102.5V1587.5H1103.3V1586.8H1104.1V1586.7H1104.9V1587.0H1105.7V1588.2H1106.5V1587.9H1107.3V1588.2H1108.1V1588.3H1108.9V1588.3H1109.7V1588.3H1110.5V1587.4H1111.3V1587.4H1112.1V1586.9H1112.9V1586.4H1113.7V1586.7H1114.5V1586.4H1115.3V1586.4H1116.1V1586.1H1116.9V1586.1H1117.7V1586.6H1118.5V1586.7H1119.3V1586.7H1120.1V1587.9H1120.9V1587.7H1121.7V1587.8H1122.5V1587.3H1123.3V1586.9H1124.1V1587.0H1124.9V1586.3H1125.7V1586.3H1126.5V1586.5H1127.3V1588.0H1128.1V1588.3H1128.9V1588.2H1129.7V1587.6H1130.5V1587.7H1131.3V1587.4H1132.1V1587.5H1132.9V1587.6H1133.7V1587.3H1134.5V1587.5H1135.3V1587.7H1136.1V1587.8H1136.9V1587.5H1137.7V1587.8H1138.5V1587.5H1139.3V1586.6H1140.1V1586.6H1140.9V1587.1H1141.7V1586.8H1142.5V1587.2H1143.3V1587.1H1144.1V1587.8H1144.9V1587.9H1145.7V1587.8H1146.5V1587.5H1147.3V1587.5H1148.1V1587.4H1148.9V1588.5H1149.7V1588.0H1150.5V1588.1H1151.3V1588.9H1152.1V1590.1H1152.9V1590.1H1153.7V1590.1H1154.5V1590.1H1155.3V1588.8H1156.1V1589.0H1156.9V1589.1H1157.7V1588.9H1158.5V1588.0H1159.3V1588.2H1160.1V1588.1H1160.9V1588.1H1161.7V1588.0H1162.5V1588.2H1163.3V1587.3H1164.1V1587.4H1164.9V1587.4H1165.7V1587.4H1166.5V1590.1H1167.3V1590.1H1168.1V1590.1H1168.9V1590.1H1169.7V1587.6H1170.5V1588.7H1171.3V1588.7H1172.1V1588.4H1172.9V1587.4H1173.7V1587.1H1174.5V1587.2H1175.3V1588.1H1176.1V1588.2H1176.9V1587.9H1177.7V1587.4H1178.5V1587.4H1179.3V1587.5H1180.1V1590.1H1180.9V1590.1H1181.7V1590.1H1182.5V1590.1H1183.3V1588.3H1184.1V1588.7H1184.9V1589.2H1185.7V1588.8H1186.5V1589.2H1187.3V1588.8H1188.1V1589.2H1188.9V1588.8H1189.7V1587.9H1190.5V1587.8H1191.3V1588.1H1192.1V1587.6H1192.9V1587.2H1193.7V1587.3H1194.5V1587.3H1195.3V1586.9H1196.1V1586.8H1196.9V1588.4H1197.7V1588.3H1198.5V1588.1H1199.3V1588.8H1200.1V1588.7H1200.9V1588.5H1201.7V1587.8H1202.5V1587.8H1203.3V1587.8H1204.1V1588.1H1204.9V1588.3H1205.7V1588.0H1206.5V1587.0H1207.3V1586.8H1208.1V1587.1H1208.9V1586.8H1209.7V1586.8H1210.5V1586.9H1211.3V1587.3H1212.1V1587.1H1212.9V1587.5H1213.7V1588.2H1214.5V1588.1H1215.3V1588.4H1216.1V1588.1H1216.9V1588.4H1217.7V1588.4H1218.5V1588.6H1219.3V1588.8H1220.1V1588.8H1220.9V1587.6H1221.7V1588.0H1222.5V1587.7H1223.3V1587.8H1224.1V1588.0H1224.9V1588.1H1225.7V1588.8H1226.5V1588.5H1227.3V1588.6H1228.1V1588.9H1228.9V1588.9H1229.7V1588.7H1230.5V1588.7H1231.3V1589.0H1232.1V1589.0H1232.9V1588.3H1233.7V1588.3H1234.5V1588.5H1235.3V1588.1H1236.1V1588.0H1236.9V1588.3H1237.7V1587.3H1238.5V1587.6H1239.3V1587.7H1240.1V1588.1H1240.9V1588.1H1241.7V1587.9H1242.5V1587.4H1243.3V1587.4H1244.1V1587.4H1244.9V1588.0H1245.7V1587.9H1246.5V1587.9H1247.3V1588.3H1248.1V1588.6H1248.9V1588.5H1249.7V1587.9H1250.5V1587.9H1251.3V1587.5H1252.1V1588.2H1252.9V1588.1H1253.7V1588.1H1254.5V1589.1H1255.3V1589.1H1256.1V1589.0H1256.9V1589.0H1257.7V1588.8H1258.5V1589.1H1259.3V1588.6H1260.1V1588.5H1260.9V1588.3H1261.7V1586.1H1262.5V1581.7H1263.3V1577.2H1264.1V1574.2H1264.9V1574.0H1265.7V1577.5H1266.5V1578.1H1267.3V1578.7H1268.1V1572.2H1268.9V1576.1H1269.7V1583.9H1270.5V1586.9H1271.3V1586.6H1272.1V1585.9H1272.9V1584.8H1273.7V1586.0H1274.5V1586.3H1275.3V1586.9H1276.1V1587.1H1276.9V1587.7H1277.7V1587.6H1278.5V1587.5H1279.3V1587.8H1280.1V1587.5H1280.9V1587.9H1281.7V1587.8H1282.5V1587.8H1283.3V1587.9H1284.1V1587.8H1284.9V1588.0H1285.7V1587.4H1286.5V1587.3H1287.3V1587.4H1288.1V1588.1H1288.9V1588.1H1289.7V1588.4H1290.5V1588.1H1291.3V1588.1H1292.1V1588.4H1292.9V1588.6H1293.7V1588.6H1294.5V1588.1H1295.3V1586.4H1296.1V1586.4H1296.9V1586.0H1297.7V1585.3H1298.5V1585.5H1299.3V1586.0H1300.1V1587.8H1300.9V1588.1H1301.7V1588.2H1302.5V1588.2H1303.3V1587.9H1304.1V1587.9H1304.9V1587.3H1305.7V1586.9H1306.5V1587.0H1307.3V1588.4H1308.1V1588.5H1308.9V1588.6H1309.7V1587.8H1310.5V1588.1H1311.3V1587.8H1312.1V1587.7H1312.9V1587.3H1313.7V1587.4H1314.5V1586.6H1315.3V1586.6H1316.1V1586.8H1316.9V1586.3H1317.7V1586.4H1318.5V1586.6H1319.3V1586.6H1320.1V1586.8H1320.9V1586.8H1321.7V1588.2H1322.5V1588.2H1323.3V1588.0H1324.1V1587.5H1324.9V1587.5H1325.7V1587.4H1326.5V1588.0H1327.3V1587.9H1328.1V1588.1H1328.9V1588.4H1329.7V1588.5H1330.5V1588.6H1331.3V1588.5H1332.1V1588.4H1332.9V1588.6H1333.7V1589.2H1334.5V1588.9H1335.3V1589.2H1336.1V1588.7H1336.9V1588.7H1337.7V1588.7H1338.5V1588.6H1339.3V1588.7H1340.1V1588.6H1340.9V1588.8H1341.7V1589.1H1342.5V1589.1H1343.3V1588.5H1344.1V1588.3H1344.9V1588.7H1345.7V1588.4H1346.5V1588.6H1347.3V1588.1H1348.1V1588.9H1348.9V1588.7H1349.7V1588.9H1350.5V1588.1H1351.3V1588.2H1352.1V1588.3H1352.9V1587.6H1353.7V1587.3H1354.5V1587.5H1355.3V1586.8H1356.1V1586.8H1356.9V1586.8H1357.7V1586.5H1358.5V1586.6H1359.3V1590.1Z" fill="#e88a1c"/>
<path d="M1012.1 1627.1V1626.2H1012.9V1626.1H1013.7V1626.2H1014.5V1626.1H1015.3V1625.8H1016.1V1625.8H1016.9V1625.0H1017.7V1624.8H1018.5V1625.0H1019.3V1625.7H1020.1V1625.7H1020.9V1625.2H1021.7V1624.2H1022.5V1624.2H1023.3V1624.6H1024.1V1624.9H1024.9V1624.8H1025.7V1624.7H1026.5V1624.2H1027.3V1623.9H1028.1V1623.9H1028.9V1624.5H1029.7V1624.3H1030.5V1624.5H1031.3V1623.3H1032.1V1623.5H1032.9V1623.6H1033.7V1623.1H1034.5V1622.9H1035.3V1622.9H1036.1V1623.9H1036.9V1623.7H1037.7V1623.8H1038.5V1625.1H1039.3V1624.8H1040.1V1625.2H1040.9V1625.8H1041.7V1626.0H1042.5V1625.8H1043.3V1625.5H1044.1V1625.1H1044.9V1625.6H1045.7V1625.4H1046.5V1625.2H1047.3V1625.4H1048.1V1625.2H1048.9V1625.4H1049.7V1625.3H1050.5V1624.4H1051.3V1624.4H1052.1V1624.3H1052.9V1623.7H1053.7V1624.0H1054.5V1623.9H1055.3V1624.9H1056.1V1625.2H1056.9V1624.8H1057.7V1623.7H1058.5V1623.8H1059.3V1623.7H1060.1V1625.5H1060.9V1625.1H1061.7V1625.2H1062.5V1625.0H1063.3V1625.2H1064.1V1625.0H1064.9V1625.6H1065.7V1625.5H1066.5V1625.7H1067.3V1625.1H1068.1V1625.5H1068.9V1625.7H1069.7V1626.2H1070.5V1625.8H1071.3V1626.1H1072.1V1626.1H1072.9V1625.6H1073.7V1625.9H1074.5V1626.2H1075.3V1626.2H1076.1V1626.2H1076.9V1625.2H1077.7V1625.3H1078.5V1625.0H1079.3V1625.1H1080.1V1625.6H1080.9V1625.4H1081.7V1624.5H1082.5V1624.2H1083.3V1624.5H1084.1V1625.2H1084.9V1625.4H1085.7V1625.2H1086.5V1625.3H1087.3V1625.3H1088.1V1625.5H1088.9V1626.1H1089.7V1626.2H1090.5V1626.2H1091.3V1625.8H1092.1V1626.2H1092.9V1626.3H1093.7V1624.4H1094.5V1624.2H1095.3V1624.5H1096.1V1623.6H1096.9V1623.5H1097.7V1623.5H1098.5V1624.4H1099.3V1624.3H1100.1V1623.9H1100.9V1623.2H1101.7V1623.6H1102.5V1623.4H1103.3V1623.3H1104.1V1623.2H1104.9V1623.4H1105.7V1623.5H1106.5V1623.8H1107.3V1623.4H1108.1V1627.1H1108.9V1627.1H1109.7V1627.1H1110.5V1627.1H1111.3V1623.2H1112.1V1623.1H1112.9V1625.1H1113.7V1624.7H1114.5V1624.2H1115.3V1624.5H1116.1V1623.6H1116.9V1622.5H1117.7V1621.6H1118.5V1622.9H1119.3V1623.8H1120.1V1623.8H1120.9V1624.2H1121.7V1623.9H1122.5V1623.4H1123.3V1623.6H1124.1V1623.3H1124.9V1624.3H1125.7V1623.8H1126.5V1623.8H1127.3V1625.2H1128.1V1625.3H1128.9V1625.0H1129.7V1625.5H1130.5V1625.4H1131.3V1625.1H1132.1V1626.2H1132.9V1625.9H1133.7V1625.7H1134.5V1625.4H1135.3V1625.1H1136.1V1625.2H1136.9V1625.8H1137.7V1626.2H1138.5V1626.1H1139.3V1624.7H1140.1V1624.5H1140.9V1624.9H1141.7V1624.0H1142.5V1624.1H1143.3V1623.8H1144.1V1624.6H1144.9V1624.3H1145.7V1624.5H1146.5V1625.8H1147.3V1625.7H1148.1V1625.7H1148.9V1624.8H1149.7V1625.0H1150.5V1624.9H1151.3V1624.0H1152.1V1623.8H1152.9V1623.7H1153.7V1623.9H1154.5V1623.9H1155.3V1624.1H1156.1V1623.4H1156.9V1623.2H1157.7V1623.5H1158.5V1623.0H1159.3V1623.1H1160.1V1623.2H1160.9V1624.5H1161.7V1624.7H1162.5V1624.5H1163.3V1625.7H1164.1V1625.7H1164.9V1625.3H1165.7V1625.6H1166.5V1625.9H1167.3V1625.8H1168.1V1625.6H1168.9V1625.9H1169.7V1625.7H1170.5V1624.4H1171.3V1624.2H1172.1V1624.3H1172.9V1625.2H1173.7V1625.2H1174.5V1624.6H1175.3V1623.9H1176.1V1623.9H1176.9V1623.8H1177.7V1625.0H1178.5V1625.1H1179.3V1625.1H1180.1V1623.8H1180.9V1623.7H1181.7V1624.2H1182.5V1623.8H1183.3V1623.8H1184.1V1623.9H1184.9V1623.7H1185.7V1623.3H1186.5V1623.6H1187.3V1623.6H1188.1V1623.7H1188.9V1623.9H1189.7V1624.9H1190.5V1624.5H1191.3V1624.8H1192.1V1623.8H1192.9V1623.3H1193.7V1622.2H1194.5V1622.3H1195.3V1623.2H1196.1V1624.0H1196.9V1623.0H1197.7V1623.4H1198.5V1623.4H1199.3V1622.7H1200.1V1622.8H1200.9V1623.2H1201.7V1624.4H1202.5V1624.0H1203.3V1624.5H1204.1V1623.7H1204.9V1623.8H1205.7V1623.6H1206.5V1624.7H1207.3V1624.9H1208.1V1625.0H1208.9V1625.9H1209.7V1626.0H1210.5V1626.0H1211.3V1624.3H1212.1V1623.9H1212.9V1624.1H1213.7V1623.8H1214.5V1623.6H1215.3V1623.7H1216.1V1623.7H1216.9V1623.6H1217.7V1623.6H1218.5V1624.1H1219.3V1624.3H1220.1V1623.9H1220.9V1624.6H1221.7V1624.6H1222.5V1624.2H1223.3V1625.1H1224.1V1624.9H1224.9V1624.8H1225.7V1625.3H1226.5V1625.3H1227.3V1625.5H1228.1V1624.5H1228.9V1623.9H1229.7V1624.4H1230.5V1625.0H1231.3V1625.0H1232.1V1625.3H1232.9V1624.8H1233.7V1624.7H1234.5V1625.0H1235.3V1623.7H1236.1V1623.9H1236.9V1623.8H1237.7V1623.4H1238.5V1623.2H1239.3V1623.2H1240.1V1624.0H1240.9V1623.7H1241.7V1623.5H1242.5V1624.5H1243.3V1624.4H1244.1V1624.5H1244.9V1625.6H1245.7V1625.8H1246.5V1625.4H1247.3V1625.0H1248.1V1624.6H1248.9V1624.8H1249.7V1624.9H1250.5V1624.9H1251.3V1624.9H1252.1V1624.0H1252.9V1624.0H1253.7V1624.0H1254.5V1624.0H1255.3V1624.4H1256.1V1624.5H1256.9V1624.0H1257.7V1624.0H1258.5V1623.9H1259.3V1625.0H1260.1V1625.1H1260.9V1624.7H1261.7V1618.4H1262.5V1614.2H1263.3V1609.2H1264.1V1603.3H1264.9V1607.2H1265.7V1606.7H1266.5V1607.7H1267.3V1609.6H1268.1V1613.6H1268.9V1618.7H1269.7V1625.4H1270.5V1625.3H1271.3V1624.0H1272.1V1623.9H1272.9V1624.2H1273.7V1624.5H1274.5V1624.9H1275.3V1624.7H1276.1V1623.4H1276.9V1623.4H1277.7V1623.7H1278.5V1623.5H1279.3V1623.5H1280.1V1623.7H1280.9V1625.1H1281.7V1624.6H1282.5V1624.6H1283.3V1625.1H1284.1V1625.3H1284.9V1625.2H1285.7V1624.4H1286.5V1624.2H1287.3V1624.4H1288.1V1624.7H1288.9V1624.6H1289.7V1624.5H1290.5V1623.8H1291.3V1623.5H1292.1V1623.9H1292.9V1623.2H1293.7V1623.3H1294.5V1623.2H1295.3V1622.7H1296.1V1622.6H1296.9V1622.8H1297.7V1624.6H1298.5V1624.5H1299.3V1624.2H1300.1V1625.5H1300.9V1625.1H1301.7V1625.6H1302.5V1624.1H1303.3V1624.0H1304.1V1623.9H1304.9V1623.7H1305.7V1623.2H1306.5V1623.6H1307.3V1623.8H1308.1V1623.3H1308.9V1623.7H1309.7V1625.0H1310.5V1624.8H1311.3V1624.8H1312.1V1623.5H1312.9V1623.7H1313.7V1623.3H1314.5V1625.0H1315.3V1624.5H1316.1V1624.5H1316.9V1624.1H1317.7V1624.6H1318.5V1624.1H1319.3V1623.9H1320.1V1623.8H1320.9V1624.3H1321.7V1625.2H1322.5V1625.0H1323.3V1625.0H1324.1V1624.8H1324.9V1624.6H1325.7V1624.6H1326.5V1624.4H1327.3V1624.4H1328.1V1624.3H1328.9V1624.9H1329.7V1625.2H1330.5V1624.9H1331.3V1625.3H1332.1V1625.1H1332.9V1624.9H1333.7V1625.7H1334.5V1625.4H1335.3V1625.8H1336.1V1626.2H1336.9V1625.8H1337.7V1625.9H1338.5V1624.4H1339.3V1624.7H1340.1V1624.6H1340.9V1624.1H1341.7V1624.3H1342.5V1624.1H1343.3V1624.5H1344.1V1624.5H1344.9V1624.6H1345.7V1625.4H1346.5V1625.4H1347.3V1625.6H1348.1V1626.1H1348.9V1626.0H1349.7V1625.8H1350.5V1625.2H1351.3V1625.4H1352.1V1625.6H1352.9V1624.8H1353.7V1624.8H1354.5V1624.7H1355.3V1625.9H1356.1V1625.6H1356.9V1626.0H1357.7V1626.2H1358.5V1626.1H1359.3V1627.1Z" fill="#6866b1"/>
<path d="M1012.1 1669.8V1668.6H1012.9V1668.6H1013.7V1668.5H1014.5V1668.2H1015.3V1668.4H1016.1V1668.3H1016.9V1667.8H1017.7V1667.7H1018.5V1668.0H1019.3V1668.2H1020.1V1668.1H1020.9V1668.1H1021.7V1668.9H1022.5V1668.9H1023.3V1668.7H1024.1V1668.5H1024.9V1668.3H1025.7V1668.5H1026.5V1668.4H1027.3V1668.4H1028.1V1668.1H1028.9V1668.8H1029.7V1668.5H1030.5V1668.6H1031.3V1668.7H1032.1V1668.8H1032.9V1668.8H1033.7V1668.9H1034.5V1668.9H1035.3V1668.8H1036.1V1668.3H1036.9V1668.3H1037.7V1668.4H1038.5V1668.9H1039.3V1668.8H1040.1V1668.7H1040.9V1669.1H1041.7V1669.2H1042.5V1669.2H1043.3V1668.5H1044.1V1668.5H1044.9V1668.5H1045.7V1668.3H1046.5V1668.1H1047.3V1668.4H1048.1V1667.9H1048.9V1668.2H1049.7V1667.9H1050.5V1668.3H1051.3V1668.5H1052.1V1668.5H1052.9V1668.6H1053.7V1668.9H1054.5V1668.7H1055.3V1668.0H1056.1V1668.2H1056.9V1668.2H1057.7V1668.2H1058.5V1668.4H1059.3V1668.2H1060.1V1667.9H1060.9V1668.1H1061.7V1667.8H1062.5V1668.7H1063.3V1668.6H1064.1V1668.5H1064.9V1668.6H1065.7V1668.7H1066.5V1668.8H1067.3V1668.9H1068.1V1669.0H1068.9V1668.9H1069.7V1668.3H1070.5V1668.5H1071.3V1668.6H1072.1V1667.9H1072.9V1667.9H1073.7V1668.0H1074.5V1667.9H1075.3V1668.0H1076.1V1668.0H1076.9V1668.6H1077.7V1668.9H1078.5V1668.7H1079.3V1668.3H1080.1V1668.1H1080.9V1668.1H1081.7V1668.1H1082.5V1668.3H1083.3V1668.2H1084.1V1668.6H1084.9V1668.8H1085.7V1668.7H1086.5V1667.9H1087.3V1667.8H1088.1V1668.0H1088.9V1668.1H1089.7V1668.2H1090.5V1668.3H1091.3V1668.5H1092.1V1669.8H1092.9V1669.8H1093.7V1669.8H1094.5V1669.8H1095.3V1669.8H1096.1V1669.8H1096.9V1669.8H1097.7V1669.8H1098.5V1668.6H1099.3V1668.6H1100.1V1668.6H1100.9V1668.3H1101.7V1668.4H1102.5V1668.3H1103.3V1668.7H1104.1V1668.6H1104.9V1668.6H1105.7V1668.7H1106.5V1668.8H1107.3V1668.8H1108.1V1669.1H1108.9V1669.2H1109.7V1669.1H1110.5V1668.8H1111.3V1668.8H1112.1V1668.8H1112.9V1668.8H1113.7V1668.8H1114.5V1668.8H1115.3V1668.7H1116.1V1668.7H1116.9V1668.8H1117.7V1668.0H1118.5V1668.1H1119.3V1668.1H1120.1V1668.5H1120.9V1668.5H1121.7V1668.7H1122.5V1668.3H1123.3V1668.3H1124.1V1668.4H1124.9V1668.0H1125.7V1668.0H1126.5V1668.1H1127.3V1668.0H1128.1V1668.0H1128.9V1668.0H1129.7V1668.9H1130.5V1668.8H1131.3V1668.8H1132.1V1668.9H1132.9V1668.9H1133.7V1669.1H1134.5V1668.9H1135.3V1668.9H1136.1V1668.9H1136.9V1668.9H1137.7V1668.9H1138.5V1669.0H1139.3V1668.7H1140.1V1668.7H1140.9V1668.7H1141.7V1668.8H1142.5V1669.0H1143.3V1668.9H1144.1V1669.0H1144.9V1669.1H1145.7V1668.8H1146.5V1669.0H1147.3V1668.8H1148.1V1669.0H1148.9V1668.7H1149.7V1668.6H1150.5V1668.5H1151.3V1668.2H1152.1V1668.1H1152.9V1668.1H1153.7V1668.6H1154.5V1668.4H1155.3V1668.4H1156.1V1667.8H1156.9V1667.9H1157.7V1668.0H1158.5V1669.8H1159.3V1669.8H1160.1V1669.8H1160.9V1669.8H1161.7V1669.8H1162.5V1669.8H1163.3V1669.8H1164.1V1668.4H1164.9V1668.4H1165.7V1667.8H1166.5V1667.7H1167.3V1667.7H1168.1V1668.1H1168.9V1667.8H1169.7V1668.0H1170.5V1668.3H1171.3V1668.1H1172.1V1668.3H1172.9V1668.6H1173.7V1668.7H1174.5V1668.6H1175.3V1668.7H1176.1V1668.5H1176.9V1668.5H1177.7V1669.1H1178.5V1669.2H1179.3V1669.0H1180.1V1668.6H1180.9V1668.5H1181.7V1668.6H1182.5V1668.0H1183.3V1667.9H1184.1V1667.9H1184.9V1667.9H1185.7V1667.9H1186.5V1668.1H1187.3V1667.9H1188.1V1667.9H1188.9V1667.9H1189.7V1668.4H1190.5V1668.4H1191.3V1668.4H1192.1V1668.1H1192.9V1668.3H1193.7V1668.2H1194.5V1668.2H1195.3V1668.2H1196.1V1668.3H1196.9V1668.9H1197.7V1669.0H1198.5V1668.9H1199.3V1668.4H1200.1V1668.5H1200.9V1668.3H1201.7V1668.6H1202.5V1668.5H1203.3V1668.7H1204.1V1668.7H1204.9V1668.9H1205.7V1668.7H1206.5V1668.4H1207.3V1668.5H1208.1V1668.3H1208.9V1668.0H1209.7V1667.9H1210.5V1667.9H1211.3V1668.2H1212.1V1668.3H1212.9V1668.1H1213.7V1668.1H1214.5V1668.0H1215.3V1667.8H1216.1V1667.8H1216.9V1668.0H1217.7V1667.7H1218.5V1667.4H1219.3V1667.5H1220.1V1667.7H1220.9V1667.6H1221.7V1667.5H1222.5V1667.4H1223.3V1667.8H1224.1V1667.8H1224.9V1667.6H1225.7V1668.4H1226.5V1668.5H1227.3V1668.6H1228.1V1668.4H1228.9V1668.4H1229.7V1668.3H1230.5V1669.0H1231.3V1668.8H1232.1V1668.8H1232.9V1668.3H1233.7V1668.3H1234.5V1668.3H1235.3V1668.2H1236.1V1668.1H1236.9V1668.2H1237.7V1668.8H1238.5V1668.9H1239.3V1668.8H1240.1V1668.5H1240.9V1668.6H1241.7V1668.6H1242.5V1668.8H1243.3V1668.9H1244.1V1668.8H1244.9V1668.8H1245.7V1668.7H1246.5V1668.7H1247.3V1668.4H1248.1V1668.2H1248.9V1668.2H1249.7V1668.8H1250.5V1669.0H1251.3V1669.0H1252.1V1668.6H1252.9V1668.4H1253.7V1668.6H1254.5V1668.6H1255.3V1668.6H1256.1V1668.8H1256.9V1668.5H1257.7V1668.2H1258.5V1668.2H1259.3V1668.1H1260.1V1667.8H1260.9V1667.5H1261.7V1667.2H1262.5V1666.5H1263.3V1665.6H1264.1V1664.4H1264.9V1664.7H1265.7V1664.6H1266.5V1664.8H1267.3V1666.0H1268.1V1666.1H1268.9V1666.9H1269.7V1667.7H1270.5V1668.1H1271.3V1668.3H1272.1V1668.6H1272.9V1668.7H1273.7V1668.9H1274.5V1668.7H1275.3V1668.7H1276.1V1668.5H1276.9V1668.6H1277.7V1668.4H1278.5V1668.7H1279.3V1668.6H1280.1V1668.8H1280.9V1669.1H1281.7V1669.0H1282.5V1669.8H1283.3V1669.8H1284.1V1669.8H1284.9V1669.8H1285.7V1669.8H1286.5V1669.8H1287.3V1669.8H1288.1V1669.1H1288.9V1668.9H1289.7V1668.8H1290.5V1668.6H1291.3V1668.4H1292.1V1668.7H1292.9V1668.9H1293.7V1669.1H1294.5V1669.2H1295.3V1668.6H1296.1V1668.7H1296.9V1668.8H1297.7V1669.2H1298.5V1668.9H1299.3V1669.1H1300.1V1668.4H1300.9V1668.4H1301.7V1668.4H1302.5V1668.6H1303.3V1668.5H1304.1V1668.5H1304.9V1668.8H1305.7V1668.8H1306.5V1668.5H1307.3V1668.9H1308.1V1669.0H1308.9V1668.9H1309.7V1669.2H1310.5V1669.3H1311.3V1669.1H1312.1V1668.3H1312.9V1668.2H1313.7V1668.4H1314.5V1668.9H1315.3V1669.0H1316.1V1668.9H1316.9V1668.8H1317.7V1668.8H1318.5V1668.7H1319.3V1668.9H1320.1V1668.8H1320.9V1669.0H1321.7V1669.2H1322.5V1669.3H1323.3V1669.1H1324.1V1668.5H1324.9V1668.6H1325.7V1668.6H1326.5V1668.9H1327.3V1668.8H1328.1V1668.7H1328.9V1669.0H1329.7V1668.8H1330.5V1669.1H1331.3V1669.1H1332.1V1669.1H1332.9V1669.2H1333.7V1668.9H1334.5V1668.8H1335.3V1668.9H1336.1V1668.2H1336.9V1668.1H1337.7V1668.2H1338.5V1668.3H1339.3V1668.3H1340.1V1668.2H1340.9V1668.1H1341.7V1668.2H1342.5V1668.0H1343.3V1668.5H1344.1V1668.6H1344.9V1668.5H1345.7V1668.7H1346.5V1668.8H1347.3V1668.8H1348.1V1668.3H1348.9V1668.4H1349.7V1668.4H1350.5V1668.8H1351.3V1668.7H1352.1V1668.6H1352.9V1668.6H1353.7V1668.5H1354.5V1668.5H1355.3V1668.8H1356.1V1668.6H1356.9V1668.6H1357.7V1668.4H1358.5V1668.3H1359.3V1669.8Z" fill="#f49aa0"/>
<path d="M1012.1 1706.6V1704.8H1012.9V1704.9H1013.7V1705.0H1014.5V1705.6H1015.3V1705.7H1016.1V1705.6H1016.9V1705.4H1017.7V1705.6H1018.5V1705.4H1019.3V1704.9H1020.1V1704.8H1020.9V1704.8H1021.7V1705.3H1022.5V1705.2H1023.3V1705.4H1024.1V1704.6H1024.9V1704.5H1025.7V1704.7H1026.5V1705.2H1027.3V1705.2H1028.1V1705.4H1028.9V1705.9H1029.7V1705.7H1030.5V1705.9H1031.3V1704.6H1032.1V1704.8H1032.9V1704.6H1033.7V1704.8H1034.5V1704.8H1035.3V1705.0H1036.1V1704.6H1036.9V1704.6H1037.7V1704.5H1038.5V1705.6H1039.3V1705.5H1040.1V1705.6H1040.9V1705.2H1041.7V1704.9H1042.5V1705.1H1043.3V1705.5H1044.1V1705.7H1044.9V1705.7H1045.7V1705.4H1046.5V1705.4H1047.3V1705.1H1048.1V1705.0H1048.9V1704.7H1049.7V1705.0H1050.5V1704.9H1051.3V1705.0H1052.1V1705.2H1052.9V1705.2H1053.7V1705.3H1054.5V1705.0H1055.3V1705.8H1056.1V1705.6H1056.9V1705.8H1057.7V1704.7H1058.5V1704.4H1059.3V1704.4H1060.1V1704.3H1060.9V1704.5H1061.7V1704.3H1062.5V1704.2H1063.3V1704.2H1064.1V1704.1H1064.9V1704.8H1065.7V1704.5H1066.5V1704.7H1067.3V1704.6H1068.1V1704.9H1068.9V1704.9H1069.7V1705.3H1070.5V1705.4H1071.3V1705.5H1072.1V1705.0H1072.9V1705.3H1073.7V1705.3H1074.5V1704.4H1075.3V1704.6H1076.1V1704.5H1076.9V1704.8H1077.7V1704.7H1078.5V1704.8H1079.3V1704.4H1080.1V1704.2H1080.9V1704.1H1081.7V1703.9H1082.5V1703.8H1083.3V1704.0H1084.1V1704.5H1084.9V1704.4H1085.7V1704.3H1086.5V1705.2H1087.3V1705.0H1088.1V1705.2H1088.9V1705.5H1089.7V1705.8H1090.5V1705.6H1091.3V1705.3H1092.1V1705.4H1092.9V1705.7H1093.7V1705.5H1094.5V1705.6H1095.3V1705.7H1096.1V1704.7H1096.9V1704.9H1097.7V1704.9H1098.5V1705.6H1099.3V1705.6H1100.1V1705.4H1100.9V1705.2H1101.7V1705.0H1102.5V1705.2H1103.3V1705.5H1104.1V1705.6H1104.9V1705.4H1105.7V1705.0H1106.5V1705.2H1107.3V1704.9H1108.1V1706.6H1108.9V1706.6H1109.7V1706.6H1110.5V1706.6H1111.3V1704.6H1112.1V1704.5H1112.9V1705.1H1113.7V1705.1H1114.5V1705.3H1115.3V1704.7H1116.1V1704.8H1116.9V1704.6H1117.7V1705.3H1118.5V1705.2H1119.3V1705.5H1120.1V1704.7H1120.9V1704.3H1121.7V1704.6H1122.5V1704.0H1123.3V1703.8H1124.1V1704.1H1124.9V1704.9H1125.7V1704.9H1126.5V1705.0H1127.3V1705.8H1128.1V1705.7H1128.9V1705.8H1129.7V1704.4H1130.5V1704.3H1131.3V1704.4H1132.1V1705.1H1132.9V1704.8H1133.7V1705.1H1134.5V1704.8H1135.3V1704.8H1136.1V1705.0H1136.9V1705.5H1137.7V1705.7H1138.5V1705.5H1139.3V1705.8H1140.1V1705.9H1140.9V1705.7H1141.7V1705.6H1142.5V1705.6H1143.3V1705.5H1144.1V1704.6H1144.9V1704.7H1145.7V1704.7H1146.5V1705.1H1147.3V1705.0H1148.1V1705.1H1148.9V1705.6H1149.7V1705.5H1150.5V1705.5H1151.3V1705.2H1152.1V1705.3H1152.9V1705.3H1153.7V1704.7H1154.5V1704.7H1155.3V1704.9H1156.1V1704.4H1156.9V1704.7H1157.7V1704.5H1158.5V1705.1H1159.3V1705.1H1160.1V1704.8H1160.9V1705.4H1161.7V1705.6H1162.5V1705.5H1163.3V1705.8H1164.1V1705.7H1164.9V1705.9H1165.7V1705.1H1166.5V1705.4H1167.3V1705.3H1168.1V1704.6H1168.9V1704.9H1169.7V1704.7H1170.5V1705.5H1171.3V1705.2H1172.1V1705.6H1172.9V1704.4H1173.7V1704.4H1174.5V1704.4H1175.3V1704.5H1176.1V1704.4H1176.9V1704.5H1177.7V1703.9H1178.5V1703.9H1179.3V1704.2H1180.1V1704.4H1180.9V1704.2H1181.7V1704.2H1182.5V1703.7H1183.3V1703.7H1184.1V1703.6H1184.9V1704.8H1185.7V1705.1H1186.5V1704.9H1187.3V1705.3H1188.1V1705.7H1188.9V1705.3H1189.7V1704.5H1190.5V1704.4H1191.3V1704.7H1192.1V1705.4H1192.9V1705.4H1193.7V1705.4H1194.5V1704.7H1195.3V1704.5H1196.1V1704.6H1196.9V1705.3H1197.7V1705.4H1198.5V1705.1H1199.3V1705.2H1200.1V1705.2H1200.9V1705.2H1201.7V1705.2H1202.5V1705.3H1203.3V1704.9H1204.1V1705.5H1204.9V1705.3H1205.7V1705.4H1206.5V1704.4H1207.3V1704.5H1208.1V1704.7H1208.9V1704.5H1209.7V1704.4H1210.5V1704.5H1211.3V1704.2H1212.1V1704.4H1212.9V1704.2H1213.7V1704.1H1214.5V1703.8H1215.3V1703.8H1216.1V1703.9H1216.9V1703.9H1217.7V1704.0H1218.5V1704.3H1219.3V1704.5H1220.1V1704.7H1220.9V1705.1H1221.7V1704.9H1222.5V1704.8H1223.3V1704.4H1224.1V1704.3H1224.9V1704.4H1225.7V1703.7H1226.5V1706.6H1227.3V1706.6H1228.1V1706.6H1228.9V1706.6H1229.7V1704.3H1230.5V1703.6H1231.3V1703.7H1232.1V1703.6H1232.9V1703.9H1233.7V1704.2H1234.5V1704.2H1235.3V1705.0H1236.1V1704.9H1236.9V1705.2H1237.7V1705.1H1238.5V1704.9H1239.3V1704.8H1240.1V1705.3H1240.9V1705.5H1241.7V1705.7H1242.5V1705.6H1243.3V1705.4H1244.1V1705.3H1244.9V1705.8H1245.7V1705.6H1246.5V1705.5H1247.3V1705.0H1248.1V1705.1H1248.9V1704.9H1249.7V1704.8H1250.5V1704.9H1251.3V1704.9H1252.1V1704.1H1252.9V1704.0H1253.7V1704.3H1254.5V1705.1H1255.3V1705.5H1256.1V1705.1H1256.9V1705.3H1257.7V1705.2H1258.5V1705.1H1259.3V1705.1H1260.1V1705.4H1260.9V1703.3H1261.7V1698.7H1262.5V1690.8H1263.3V1686.5H1264.1V1680.2H1264.9V1688.6H1265.7V1688.7H1266.5V1685.2H1267.3V1685.3H1268.1V1683.9H1268.9V1691.0H1269.7V1698.3H1270.5V1704.7H1271.3V1704.3H1272.1V1703.8H1272.9V1703.6H1273.7V1702.2H1274.5V1701.8H1275.3V1701.5H1276.1V1702.7H1276.9V1702.5H1277.7V1703.1H1278.5V1702.2H1279.3V1703.1H1280.1V1703.7H1280.9V1703.6H1281.7V1703.9H1282.5V1704.1H1283.3V1704.4H1284.1V1704.5H1284.9V1704.4H1285.7V1704.5H1286.5V1704.2H1287.3V1704.4H1288.1V1705.1H1288.9V1705.1H1289.7V1705.0H1290.5V1704.9H1291.3V1705.1H1292.1V1705.0H1292.9V1705.6H1293.7V1705.5H1294.5V1705.6H1295.3V1705.0H1296.1V1705.2H1296.9V1705.1H1297.7V1705.0H1298.5V1705.2H1299.3V1705.1H1300.1V1705.8H1300.9V1705.8H1301.7V1705.8H1302.5V1705.0H1303.3V1705.1H1304.1V1705.1H1304.9V1705.4H1305.7V1705.3H1306.5V1705.2H1307.3V1705.8H1308.1V1705.7H1308.9V1705.5H1309.7V1704.8H1310.5V1704.5H1311.3V1704.6H1312.1V1704.0H1312.9V1704.3H1313.7V1704.1H1314.5V1705.2H1315.3V1705.1H1316.1V1705.1H1316.9V1705.7H1317.7V1705.8H1318.5V1705.8H1319.3V1706.0H1320.1V1705.9H1320.9V1705.9H1321.7V1705.4H1322.5V1705.4H1323.3V1705.5H1324.1V1705.4H1324.9V1705.6H1325.7V1705.6H1326.5V1705.7H1327.3V1705.9H1328.1V1705.9H1328.9V1705.6H1329.7V1705.5H1330.5V1705.6H1331.3V1705.2H1332.1V1704.9H1332.9V1705.0H1333.7V1705.2H1334.5V1705.1H1335.3V1705.3H1336.1V1704.6H1336.9V1704.8H1337.7V1704.8H1338.5V1705.0H1339.3V1705.3H1340.1V1706.6H1340.9V1706.6H1341.7V1706.6H1342.5V1706.6H1343.3V1706.6H1344.1V1706.6H1344.9V1706.6H1345.7V1706.6H1346.5V1705.5H1347.3V1705.3H1348.1V1704.9H1348.9V1704.9H1349.7V1704.9H1350.5V1704.3H1351.3V1703.9H1352.1V1704.0H1352.9V1704.4H1353.7V1704.4H1354.5V1704.3H1355.3V1703.9H1356.1V1704.0H1356.9V1704.0H1357.7V1703.7H1358.5V1703.9H1359.3V1706.6Z" fill="#c4182e"/>
<path d="M1012.1 1752.9V1751.9H1012.9V1751.6H1013.7V1751.9H1014.5V1751.1H1015.3V1751.3H1016.1V1751.0H1016.9V1751.9H1017.7V1752.1H1018.5V1752.1H1019.3V1751.2H1020.1V1751.7H1020.9V1751.6H1021.7V1750.4H1022.5V1750.7H1023.3V1750.8H1024.1V1749.8H1024.9V1749.3H1025.7V1749.6H1026.5V1751.0H1027.3V1750.9H1028.1V1750.6H1028.9V1751.3H1029.7V1751.3H1030.5V1751.5H1031.3V1751.1H1032.1V1751.1H1032.9V1751.1H1033.7V1752.9H1034.5V1752.9H1035.3V1752.9H1036.1V1752.9H1036.9V1752.9H1037.7V1752.9H1038.5V1752.9H1039.3V1751.1H1040.1V1750.8H1040.9V1750.4H1041.7V1750.0H1042.5V1750.5H1043.3V1750.4H1044.1V1750.8H1044.9V1750.6H1045.7V1751.5H1046.5V1751.4H1047.3V1751.6H1048.1V1750.3H1048.9V1750.1H1049.7V1750.2H1050.5V1750.2H1051.3V1749.9H1052.1V1749.9H1052.9V1750.3H1053.7V1750.6H1054.5V1750.2H1055.3V1749.8H1056.1V1749.9H1056.9V1750.2H1057.7V1750.4H1058.5V1750.8H1059.3V1750.6H1060.1V1751.5H1060.9V1751.6H1061.7V1751.1H1062.5V1752.0H1063.3V1751.9H1064.1V1751.6H1064.9V1751.9H1065.7V1751.9H1066.5V1751.6H1067.3V1750.3H1068.1V1750.6H1068.9V1750.6H1069.7V1750.6H1070.5V1750.5H1071.3V1751.0H1072.1V1751.6H1072.9V1751.6H1073.7V1751.4H1074.5V1750.9H1075.3V1751.1H1076.1V1750.8H1076.9V1750.9H1077.7V1750.7H1078.5V1750.8H1079.3V1750.6H1080.1V1750.6H1080.9V1751.0H1081.7V1749.5H1082.5V1749.4H1083.3V1749.5H1084.1V1750.4H1084.9V1750.5H1085.7V1750.2H1086.5V1751.7H1087.3V1751.6H1088.1V1751.6H1088.9V1751.6H1089.7V1751.7H1090.5V1751.6H1091.3V1752.0H1092.1V1752.2H1092.9V1751.6H1093.7V1751.2H1094.5V1751.1H1095.3V1751.1H1096.1V1751.3H1096.9V1750.9H1097.7V1750.8H1098.5V1750.9H1099.3V1751.2H1100.1V1751.1H1100.9V1751.2H1101.7V1750.9H1102.5V1751.3H1103.3V1751.6H1104.1V1751.9H1104.9V1752.1H1105.7V1751.5H1106.5V1751.1H1107.3V1750.9H1108.1V1749.9H1108.9V1750.2H1109.7V1750.1H1110.5V1750.8H1111.3V1751.0H1112.1V1750.8H1112.9V1751.3H1113.7V1751.0H1114.5V1750.9H1115.3V1749.8H1116.1V1749.8H1116.9V1750.2H1117.7V1750.9H1118.5V1750.7H1119.3V1750.4H1120.1V1750.4H1120.9V1750.3H1121.7V1750.7H1122.5V1751.3H1123.3V1750.6H1124.1V1750.7H1124.9V1749.6H1125.7V1748.8H1126.5V1748.8H1127.3V1749.5H1128.1V1749.2H1128.9V1749.8H1129.7V1748.5H1130.5V1749.1H1131.3V1748.7H1132.1V1750.1H1132.9V1750.5H1133.7V1750.7H1134.5V1751.5H1135.3V1751.8H1136.1V1751.9H1136.9V1750.7H1137.7V1750.6H1138.5V1750.4H1139.3V1750.9H1140.1V1750.8H1140.9V1750.4H1141.7V1749.6H1142.5V1749.6H1143.3V1749.6H1144.1V1751.0H1144.9V1751.2H1145.7V1751.1H1146.5V1750.7H1147.3V1750.9H1148.1V1750.7H1148.9V1749.5H1149.7V1749.1H1150.5V1749.0H1151.3V1748.8H1152.1V1748.5H1152.9V1747.9H1153.7V1747.0H1154.5V1747.5H1155.3V1746.9H1156.1V1748.9H1156.9V1749.3H1157.7V1749.4H1158.5V1748.6H1159.3V1748.8H1160.1V1749.5H1160.9V1748.8H1161.7V1748.9H1162.5V1748.6H1163.3V1750.5H1164.1V1750.6H1164.9V1750.6H1165.7V1751.6H1166.5V1751.9H1167.3V1751.6H1168.1V1751.6H1168.9V1751.6H1169.7V1752.0H1170.5V1750.7H1171.3V1750.8H1172.1V1750.7H1172.9V1749.4H1173.7V1749.7H1174.5V1749.8H1175.3V1749.0H1176.1V1748.9H1176.9V1749.3H1177.7V1750.6H1178.5V1750.8H1179.3V1751.0H1180.1V1749.5H1180.9V1749.4H1181.7V1749.8H1182.5V1749.4H1183.3V1748.9H1184.1V1749.2H1184.9V1750.1H1185.7V1749.9H1186.5V1750.3H1187.3V1752.9H1188.1V1752.9H1188.9V1752.9H1189.7V1752.9H1190.5V1751.8H1191.3V1751.8H1192.1V1751.4H1192.9V1751.7H1193.7V1751.6H1194.5V1751.9H1195.3V1752.1H1196.1V1752.0H1196.9V1751.7H1197.7V1751.9H1198.5V1752.1H1199.3V1751.0H1200.1V1751.6H1200.9V1751.1H1201.7V1751.1H1202.5V1750.9H1203.3V1751.2H1204.1V1750.7H1204.9V1750.5H1205.7V1750.9H1206.5V1749.8H1207.3V1749.8H1208.1V1749.9H1208.9V1750.8H1209.7V1750.7H1210.5V1750.8H1211.3V1750.1H1212.1V1750.1H1212.9V1750.2H1213.7V1749.2H1214.5V1749.3H1215.3V1749.5H1216.1V1750.6H1216.9V1750.5H1217.7V1750.7H1218.5V1750.8H1219.3V1750.3H1220.1V1750.6H1220.9V1749.6H1221.7V1749.8H1222.5V1749.4H1223.3V1750.6H1224.1V1750.6H1224.9V1750.4H1225.7V1751.3H1226.5V1750.7H1227.3V1750.0H1228.1V1748.4H1228.9V1747.7H1229.7V1747.5H1230.5V1746.7H1231.3V1746.4H1232.1V1746.5H1232.9V1748.4H1233.7V1748.6H1234.5V1749.3H1235.3V1748.7H1236.1V1749.6H1236.9V1749.8H1237.7V1750.7H1238.5V1750.9H1239.3V1751.0H1240.1V1751.7H1240.9V1751.9H1241.7V1751.8H1242.5V1750.9H1243.3V1750.8H1244.1V1750.9H1244.9V1749.7H1245.7V1750.0H1246.5V1750.1H1247.3V1750.2H1248.1V1750.1H1248.9V1750.2H1249.7V1750.3H1250.5V1750.3H1251.3V1750.2H1252.1V1749.8H1252.9V1749.6H1253.7V1750.0H1254.5V1751.2H1255.3V1751.0H1256.1V1750.9H1256.9V1748.7H1257.7V1746.9H1258.5V1745.3H1259.3V1740.6H1260.1V1732.3H1260.9V1725.6H1261.7V1734.4H1262.5V1733.2H1263.3V1731.9H1264.1V1733.0H1264.9V1734.2H1265.7V1737.4H1266.5V1739.7H1267.3V1742.6H1268.1V1744.2H1268.9V1747.0H1269.7V1749.2H1270.5V1751.5H1271.3V1750.2H1272.1V1749.9H1272.9V1750.0H1273.7V1750.7H1274.5V1751.0H1275.3V1751.2H1276.1V1751.9H1276.9V1751.9H1277.7V1752.0H1278.5V1752.0H1279.3V1752.0H1280.1V1751.7H1280.9V1751.7H1281.7V1751.7H1282.5V1752.1H1283.3V1750.1H1284.1V1750.0H1284.9V1750.4H1285.7V1750.7H1286.5V1750.3H1287.3V1750.6H1288.1V1751.0H1288.9V1751.0H1289.7V1751.2H1290.5V1751.4H1291.3V1751.8H1292.1V1751.4H1292.9V1751.9H1293.7V1751.7H1294.5V1751.9H1295.3V1751.2H1296.1V1751.2H1296.9V1751.3H1297.7V1750.5H1298.5V1750.4H1299.3V1750.7H1300.1V1750.4H1300.9V1750.0H1301.7V1750.1H1302.5V1749.6H1303.3V1749.8H1304.1V1750.0H1304.9V1749.3H1305.7V1749.1H1306.5V1749.1H1307.3V1750.0H1308.1V1749.9H1308.9V1750.3H1309.7V1750.1H1310.5V1749.9H1311.3V1750.0H1312.1V1751.2H1312.9V1751.2H1313.7V1750.7H1314.5V1750.9H1315.3V1750.5H1316.1V1750.4H1316.9V1751.0H1317.7V1750.9H1318.5V1751.0H1319.3V1751.3H1320.1V1751.2H1320.9V1751.2H1321.7V1750.4H1322.5V1750.4H1323.3V1750.7H1324.1V1750.7H1324.9V1750.8H1325.7V1750.9H1326.5V1751.8H1327.3V1751.4H1328.1V1751.9H1328.9V1751.0H1329.7V1750.9H1330.5V1751.3H1331.3V1751.5H1332.1V1751.4H1332.9V1751.4H1333.7V1749.7H1334.5V1749.7H1335.3V1750.2H1336.1V1751.1H1336.9V1751.0H1337.7V1751.3H1338.5V1751.0H1339.3V1750.8H1340.1V1750.4H1340.9V1749.6H1341.7V1749.5H1342.5V1750.0H1343.3V1751.3H1344.1V1751.0H1344.9V1750.9H1345.7V1749.6H1346.5V1749.7H1347.3V1749.6H1348.1V1750.2H1348.9V1750.5H1349.7V1750.0H1350.5V1750.7H1351.3V1750.9H1352.1V1751.1H1352.9V1751.8H1353.7V1751.5H1354.5V1751.5H1355.3V1752.2H1356.1V1751.9H1356.9V1751.8H1357.7V1751.7H1358.5V1751.5H1359.3V1752.9Z" fill="#3cb54a"/>
<line x1="1265.5" y1="1791.2" x2="1265.5" y2="1809.6" stroke="#111" stroke-width="1.4" />
<path d="M1012.1 1872.6V1871.6H1012.9V1871.8H1013.7V1871.6H1014.5V1871.7H1015.3V1871.6H1016.1V1871.7H1016.9V1871.3H1017.7V1871.3H1018.5V1871.3H1019.3V1871.4H1020.1V1871.6H1020.9V1871.6H1021.7V1871.7H1022.5V1871.7H1023.3V1871.6H1024.1V1871.6H1024.9V1871.6H1025.7V1871.4H1026.5V1871.3H1027.3V1871.3H1028.1V1871.2H1028.9V1870.8H1029.7V1870.9H1030.5V1870.8H1031.3V1870.5H1032.1V1870.4H1032.9V1870.4H1033.7V1870.9H1034.5V1870.7H1035.3V1870.4H1036.1V1870.4H1036.9V1869.9H1037.7V1869.4H1038.5V1869.1H1039.3V1868.9H1040.1V1868.1H1040.9V1867.1H1041.7V1867.3H1042.5V1867.1H1043.3V1866.6H1044.1V1866.5H1044.9V1866.1H1045.7V1867.0H1046.5V1867.5H1047.3V1867.9H1048.1V1868.7H1048.9V1869.2H1049.7V1869.4H1050.5V1869.4H1051.3V1869.9H1052.1V1870.3H1052.9V1870.6H1053.7V1870.8H1054.5V1871.0H1055.3V1871.2H1056.1V1871.2H1056.9V1871.2H1057.7V1871.4H1058.5V1871.5H1059.3V1871.6H1060.1V1871.5H1060.9V1871.4H1061.7V1871.4H1062.5V1871.4H1063.3V1871.3H1064.1V1871.4H1064.9V1871.5H1065.7V1871.6H1066.5V1871.6H1067.3V1871.2H1068.1V1871.4H1068.9V1871.1H1069.7V1870.5H1070.5V1870.6H1071.3V1870.3H1072.1V1869.9H1072.9V1869.6H1073.7V1869.6H1074.5V1869.4H1075.3V1868.8H1076.1V1868.9H1076.9V1868.6H1077.7V1868.7H1078.5V1868.5H1079.3V1868.8H1080.1V1869.1H1080.9V1869.1H1081.7V1868.8H1082.5V1868.9H1083.3V1869.4H1084.1V1869.4H1084.9V1869.6H1085.7V1869.6H1086.5V1869.9H1087.3V1870.1H1088.1V1870.0H1088.9V1870.2H1089.7V1870.5H1090.5V1870.5H1091.3V1870.3H1092.1V1870.5H1092.9V1870.4H1093.7V1870.8H1094.5V1870.7H1095.3V1870.7H1096.1V1870.4H1096.9V1870.2H1097.7V1870.1H1098.5V1870.0H1099.3V1870.0H1100.1V1869.8H1100.9V1870.0H1101.7V1869.9H1102.5V1869.4H1103.3V1869.1H1104.1V1868.8H1104.9V1868.8H1105.7V1868.6H1106.5V1867.9H1107.3V1867.6H1108.1V1867.5H1108.9V1866.5H1109.7V1866.3H1110.5V1867.5H1111.3V1866.0H1112.1V1866.1H1112.9V1865.9H1113.7V1866.5H1114.5V1866.3H1115.3V1865.1H1116.1V1865.7H1116.9V1865.1H1117.7V1864.2H1118.5V1865.5H1119.3V1865.2H1120.1V1864.6H1120.9V1863.7H1121.7V1864.0H1122.5V1862.6H1123.3V1860.8H1124.1V1862.0H1124.9V1862.4H1125.7V1864.1H1126.5V1865.6H1127.3V1867.2H1128.1V1867.9H1128.9V1868.8H1129.7V1868.9H1130.5V1869.5H1131.3V1869.9H1132.1V1869.7H1132.9V1869.5H1133.7V1869.8H1134.5V1870.0H1135.3V1870.1H1136.1V1870.2H1136.9V1870.9H1137.7V1871.0H1138.5V1870.9H1139.3V1870.5H1140.1V1870.7H1140.9V1870.6H1141.7V1870.7H1142.5V1870.7H1143.3V1870.7H1144.1V1871.4H1144.9V1871.3H1145.7V1871.4H1146.5V1871.4H1147.3V1871.5H1148.1V1871.4H1148.9V1871.5H1149.7V1871.5H1150.5V1871.6H1151.3V1871.5H1152.1V1871.6H1152.9V1871.5H1153.7V1870.9H1154.5V1871.0H1155.3V1871.0H1156.1V1870.8H1156.9V1870.9H1157.7V1870.7H1158.5V1872.6H1159.3V1872.6H1160.1V1872.6H1160.9V1872.6H1161.7V1871.5H1162.5V1871.4H1163.3V1871.0H1164.1V1870.9H1164.9V1871.0H1165.7V1871.1H1166.5V1871.1H1167.3V1871.2H1168.1V1871.0H1168.9V1871.0H1169.7V1871.0H1170.5V1870.7H1171.3V1870.6H1172.1V1870.5H1172.9V1870.8H1173.7V1870.8H1174.5V1870.8H1175.3V1870.8H1176.1V1871.0H1176.9V1870.7H1177.7V1871.2H1178.5V1871.3H1179.3V1871.2H1180.1V1871.6H1180.9V1871.6H1181.7V1871.6H1182.5V1871.5H1183.3V1871.4H1184.1V1871.3H1184.9V1871.0H1185.7V1871.0H1186.5V1871.2H1187.3V1871.1H1188.1V1871.1H1188.9V1871.2H1189.7V1871.0H1190.5V1871.0H1191.3V1871.0H1192.1V1871.2H1192.9V1871.2H1193.7V1871.1H1194.5V1871.5H1195.3V1871.3H1196.1V1871.4H1196.9V1871.0H1197.7V1871.1H1198.5V1871.1H1199.3V1870.7H1200.1V1870.7H1200.9V1870.8H1201.7V1871.1H1202.5V1871.1H1203.3V1871.3H1204.1V1871.1H1204.9V1871.1H1205.7V1871.2H1206.5V1870.8H1207.3V1870.7H1208.1V1870.7H1208.9V1870.9H1209.7V1871.1H1210.5V1871.0H1211.3V1870.9H1212.1V1871.0H1212.9V1871.0H1213.7V1871.5H1214.5V1871.5H1215.3V1871.4H1216.1V1871.2H1216.9V1871.2H1217.7V1871.1H1218.5V1871.6H1219.3V1871.7H1220.1V1871.6H1220.9V1871.3H1221.7V1871.3H1222.5V1871.4H1223.3V1871.5H1224.1V1871.5H1224.9V1871.4H1225.7V1871.3H1226.5V1871.1H1227.3V1871.3H1228.1V1871.5H1228.9V1871.6H1229.7V1871.5H1230.5V1872.6H1231.3V1872.6H1232.1V1871.2H1232.9V1871.0H1233.7V1871.1H1234.5V1871.1H1235.3V1871.4H1236.1V1871.4H1236.9V1871.3H1237.7V1871.0H1238.5V1871.2H1239.3V1871.0H1240.1V1871.5H1240.9V1871.4H1241.7V1871.6H1242.5V1871.1H1243.3V1871.1H1244.1V1871.0H1244.9V1870.8H1245.7V1870.8H1246.5V1870.6H1247.3V1870.7H1248.1V1870.9H1248.9V1870.7H1249.7V1871.4H1250.5V1871.2H1251.3V1871.3H1252.1V1871.6H1252.9V1871.6H1253.7V1871.6H1254.5V1870.9H1255.3V1870.9H1256.1V1870.7H1256.9V1870.3H1257.7V1870.2H1258.5V1869.7H1259.3V1869.3H1260.1V1868.4H1260.9V1867.1H1261.7V1866.3H1262.5V1866.0H1263.3V1864.2H1264.1V1863.9H1264.9V1863.4H1265.7V1864.2H1266.5V1864.6H1267.3V1863.8H1268.1V1865.9H1268.9V1865.2H1269.7V1867.5H1270.5V1867.7H1271.3V1868.8H1272.1V1869.4H1272.9V1869.5H1273.7V1870.4H1274.5V1870.6H1275.3V1870.9H1276.1V1870.7H1276.9V1870.8H1277.7V1870.7H1278.5V1871.1H1279.3V1871.1H1280.1V1871.0H1280.9V1871.0H1281.7V1871.0H1282.5V1871.1H1283.3V1871.3H1284.1V1871.3H1284.9V1871.2H1285.7V1870.7H1286.5V1870.7H1287.3V1870.8H1288.1V1870.8H1288.9V1870.8H1289.7V1870.6H1290.5V1870.2H1291.3V1870.3H1292.1V1870.3H1292.9V1870.3H1293.7V1870.4H1294.5V1870.3H1295.3V1870.4H1296.1V1870.4H1296.9V1870.4H1297.7V1870.2H1298.5V1870.0H1299.3V1869.9H1300.1V1869.8H1300.9V1869.6H1301.7V1869.6H1302.5V1869.8H1303.3V1869.8H1304.1V1869.7H1304.9V1870.1H1305.7V1869.9H1306.5V1870.0H1307.3V1869.7H1308.1V1870.0H1308.9V1870.1H1309.7V1870.2H1310.5V1870.4H1311.3V1870.5H1312.1V1870.3H1312.9V1870.4H1313.7V1870.4H1314.5V1870.8H1315.3V1870.7H1316.1V1870.8H1316.9V1870.9H1317.7V1871.1H1318.5V1870.9H1319.3V1870.9H1320.1V1871.0H1320.9V1870.9H1321.7V1871.5H1322.5V1871.4H1323.3V1871.5H1324.1V1871.4H1324.9V1871.4H1325.7V1871.3H1326.5V1871.3H1327.3V1871.1H1328.1V1871.2H1328.9V1871.2H1329.7V1871.3H1330.5V1871.3H1331.3V1871.3H1332.1V1871.3H1332.9V1871.2H1333.7V1871.6H1334.5V1871.5H1335.3V1871.7H1336.1V1871.4H1336.9V1871.3H1337.7V1871.3H1338.5V1871.6H1339.3V1871.6H1340.1V1871.6H1340.9V1871.1H1341.7V1871.0H1342.5V1871.1H1343.3V1871.4H1344.1V1871.4H1344.9V1871.3H1345.7V1871.6H1346.5V1871.7H1347.3V1871.6H1348.1V1871.7H1348.9V1871.7H1349.7V1871.5H1350.5V1871.6H1351.3V1871.7H1352.1V1871.6H1352.9V1871.7H1353.7V1871.6H1354.5V1871.7H1355.3V1871.2H1356.1V1871.3H1356.9V1871.4H1357.7V1871.1H1358.5V1871.2H1359.3V1872.6Z" fill="#fbc06e"/>
<path d="M1012.1 1907.1V1906.0H1012.9V1906.0H1013.7V1905.8H1014.5V1906.2H1015.3V1906.0H1016.1V1906.3H1016.9V1905.8H1017.7V1906.0H1018.5V1905.9H1019.3V1905.5H1020.1V1905.4H1020.9V1905.6H1021.7V1905.9H1022.5V1905.8H1023.3V1905.7H1024.1V1905.5H1024.9V1905.6H1025.7V1905.5H1026.5V1906.0H1027.3V1905.9H1028.1V1906.0H1028.9V1906.1H1029.7V1905.9H1030.5V1905.9H1031.3V1906.1H1032.1V1906.1H1032.9V1905.7H1033.7V1905.1H1034.5V1904.4H1035.3V1903.9H1036.1V1902.8H1036.9V1900.3H1037.7V1899.9H1038.5V1898.5H1039.3V1897.8H1040.1V1898.9H1040.9V1899.4H1041.7V1899.0H1042.5V1901.4H1043.3V1902.3H1044.1V1903.5H1044.9V1904.0H1045.7V1904.6H1046.5V1904.9H1047.3V1905.1H1048.1V1905.3H1048.9V1905.6H1049.7V1905.5H1050.5V1905.8H1051.3V1905.9H1052.1V1905.9H1052.9V1905.5H1053.7V1905.3H1054.5V1905.3H1055.3V1905.4H1056.1V1905.5H1056.9V1905.4H1057.7V1905.6H1058.5V1905.4H1059.3V1905.6H1060.1V1905.6H1060.9V1905.6H1061.7V1905.8H1062.5V1905.8H1063.3V1905.9H1064.1V1906.1H1064.9V1905.9H1065.7V1905.9H1066.5V1905.9H1067.3V1906.1H1068.1V1906.3H1068.9V1906.1H1069.7V1905.9H1070.5V1905.9H1071.3V1905.9H1072.1V1906.3H1072.9V1906.2H1073.7V1906.2H1074.5V1906.2H1075.3V1906.1H1076.1V1906.1H1076.9V1905.7H1077.7V1905.7H1078.5V1905.6H1079.3V1905.5H1080.1V1905.4H1080.9V1905.4H1081.7V1905.4H1082.5V1905.5H1083.3V1905.4H1084.1V1905.1H1084.9V1904.9H1085.7V1904.9H1086.5V1904.4H1087.3V1904.5H1088.1V1904.2H1088.9V1904.5H1089.7V1904.3H1090.5V1904.2H1091.3V1904.1H1092.1V1903.7H1092.9V1903.7H1093.7V1902.7H1094.5V1903.1H1095.3V1902.9H1096.1V1902.6H1096.9V1902.4H1097.7V1902.3H1098.5V1902.0H1099.3V1900.9H1100.1V1900.4H1100.9V1899.5H1101.7V1899.1H1102.5V1896.4H1103.3V1894.9H1104.1V1896.5H1104.9V1895.9H1105.7V1897.1H1106.5V1897.5H1107.3V1898.5H1108.1V1899.6H1108.9V1899.2H1109.7V1899.8H1110.5V1899.6H1111.3V1900.3H1112.1V1900.5H1112.9V1900.8H1113.7V1900.9H1114.5V1901.0H1115.3V1899.8H1116.1V1900.0H1116.9V1899.9H1117.7V1899.9H1118.5V1899.1H1119.3V1898.7H1120.1V1896.6H1120.9V1897.8H1121.7V1898.2H1122.5V1898.5H1123.3V1900.1H1124.1V1900.8H1124.9V1902.2H1125.7V1903.3H1126.5V1903.5H1127.3V1903.6H1128.1V1903.8H1128.9V1903.9H1129.7V1904.0H1130.5V1903.9H1131.3V1904.3H1132.1V1904.4H1132.9V1904.7H1133.7V1904.7H1134.5V1904.7H1135.3V1904.8H1136.1V1904.7H1136.9V1905.0H1137.7V1905.2H1138.5V1905.1H1139.3V1905.1H1140.1V1905.0H1140.9V1905.0H1141.7V1905.3H1142.5V1905.5H1143.3V1905.5H1144.1V1905.4H1144.9V1905.3H1145.7V1905.3H1146.5V1906.0H1147.3V1906.0H1148.1V1906.1H1148.9V1906.0H1149.7V1905.8H1150.5V1906.0H1151.3V1906.1H1152.1V1906.3H1152.9V1906.2H1153.7V1906.1H1154.5V1906.3H1155.3V1906.0H1156.1V1905.4H1156.9V1905.5H1157.7V1905.3H1158.5V1905.2H1159.3V1905.1H1160.1V1905.1H1160.9V1905.4H1161.7V1905.1H1162.5V1905.1H1163.3V1904.7H1164.1V1904.8H1164.9V1904.6H1165.7V1903.7H1166.5V1903.8H1167.3V1903.9H1168.1V1904.4H1168.9V1904.3H1169.7V1904.4H1170.5V1903.6H1171.3V1903.6H1172.1V1903.8H1172.9V1903.7H1173.7V1903.7H1174.5V1903.7H1175.3V1904.3H1176.1V1904.6H1176.9V1904.7H1177.7V1905.3H1178.5V1905.4H1179.3V1905.5H1180.1V1905.5H1180.9V1905.4H1181.7V1905.4H1182.5V1906.1H1183.3V1906.1H1184.1V1906.0H1184.9V1906.3H1185.7V1906.1H1186.5V1906.1H1187.3V1905.9H1188.1V1905.9H1188.9V1906.1H1189.7V1905.4H1190.5V1905.3H1191.3V1905.5H1192.1V1905.3H1192.9V1905.4H1193.7V1905.3H1194.5V1906.0H1195.3V1905.8H1196.1V1905.9H1196.9V1906.1H1197.7V1906.1H1198.5V1906.2H1199.3V1906.0H1200.1V1906.0H1200.9V1905.8H1201.7V1906.2H1202.5V1906.0H1203.3V1906.2H1204.1V1905.5H1204.9V1905.6H1205.7V1905.6H1206.5V1905.8H1207.3V1905.7H1208.1V1905.8H1208.9V1905.7H1209.7V1905.7H1210.5V1905.7H1211.3V1905.9H1212.1V1905.8H1212.9V1905.9H1213.7V1905.2H1214.5V1905.3H1215.3V1905.3H1216.1V1905.4H1216.9V1905.3H1217.7V1905.2H1218.5V1905.1H1219.3V1905.1H1220.1V1905.0H1220.9V1905.7H1221.7V1905.6H1222.5V1905.7H1223.3V1905.3H1224.1V1905.3H1224.9V1905.2H1225.7V1905.4H1226.5V1905.4H1227.3V1905.4H1228.1V1904.9H1228.9V1905.0H1229.7V1905.1H1230.5V1905.3H1231.3V1905.3H1232.1V1905.1H1232.9V1905.7H1233.7V1905.5H1234.5V1905.7H1235.3V1905.9H1236.1V1905.7H1236.9V1905.8H1237.7V1906.2H1238.5V1905.9H1239.3V1906.1H1240.1V1905.5H1240.9V1905.6H1241.7V1905.6H1242.5V1905.7H1243.3V1905.6H1244.1V1905.8H1244.9V1905.7H1245.7V1905.5H1246.5V1905.6H1247.3V1906.0H1248.1V1906.0H1248.9V1906.0H1249.7V1906.2H1250.5V1906.2H1251.3V1906.1H1252.1V1906.0H1252.9V1905.6H1253.7V1905.8H1254.5V1905.5H1255.3V1905.5H1256.1V1905.1H1256.9V1904.4H1257.7V1904.1H1258.5V1903.4H1259.3V1902.9H1260.1V1902.0H1260.9V1901.2H1261.7V1901.1H1262.5V1900.2H1263.3V1899.4H1264.1V1899.8H1264.9V1899.1H1265.7V1899.2H1266.5V1900.4H1267.3V1899.6H1268.1V1900.7H1268.9V1900.6H1269.7V1900.6H1270.5V1901.9H1271.3V1902.8H1272.1V1903.2H1272.9V1903.9H1273.7V1904.0H1274.5V1904.7H1275.3V1904.7H1276.1V1904.9H1276.9V1905.2H1277.7V1905.5H1278.5V1906.0H1279.3V1906.1H1280.1V1906.0H1280.9V1905.5H1281.7V1905.6H1282.5V1905.7H1283.3V1905.2H1284.1V1905.3H1284.9V1905.3H1285.7V1905.8H1286.5V1905.7H1287.3V1905.7H1288.1V1905.3H1288.9V1905.5H1289.7V1905.6H1290.5V1905.8H1291.3V1905.7H1292.1V1905.7H1292.9V1905.0H1293.7V1905.1H1294.5V1904.8H1295.3V1904.6H1296.1V1904.4H1296.9V1904.0H1297.7V1904.4H1298.5V1904.1H1299.3V1904.3H1300.1V1903.6H1300.9V1903.8H1301.7V1903.4H1302.5V1902.9H1303.3V1902.7H1304.1V1903.0H1304.9V1904.0H1305.7V1903.2H1306.5V1903.5H1307.3V1903.5H1308.1V1903.6H1308.9V1904.1H1309.7V1903.4H1310.5V1903.8H1311.3V1904.0H1312.1V1904.0H1312.9V1903.9H1313.7V1904.4H1314.5V1904.9H1315.3V1905.0H1316.1V1905.1H1316.9V1905.2H1317.7V1905.3H1318.5V1905.4H1319.3V1905.2H1320.1V1905.4H1320.9V1905.3H1321.7V1905.8H1322.5V1906.0H1323.3V1905.7H1324.1V1905.6H1324.9V1905.6H1325.7V1905.5H1326.5V1905.4H1327.3V1905.6H1328.1V1905.5H1328.9V1906.1H1329.7V1906.1H1330.5V1906.1H1331.3V1906.1H1332.1V1906.1H1332.9V1906.1H1333.7V1906.1H1334.5V1906.1H1335.3V1906.1H1336.1V1905.7H1336.9V1905.6H1337.7V1905.6H1338.5V1905.8H1339.3V1905.8H1340.1V1906.0H1340.9V1905.7H1341.7V1905.9H1342.5V1905.8H1343.3V1905.3H1344.1V1905.2H1344.9V1905.1H1345.7V1904.8H1346.5V1905.1H1347.3V1904.8H1348.1V1905.4H1348.9V1905.5H1349.7V1905.3H1350.5V1905.4H1351.3V1905.4H1352.1V1905.4H1352.9V1905.5H1353.7V1905.3H1354.5V1905.4H1355.3V1905.8H1356.1V1906.1H1356.9V1905.9H1357.7V1905.5H1358.5V1905.4H1359.3V1907.1Z" fill="#93bde3"/>
<path d="M1012.1 1944.7V1943.1H1012.9V1943.1H1013.7V1943.2H1014.5V1942.7H1015.3V1942.8H1016.1V1942.9H1016.9V1942.9H1017.7V1942.9H1018.5V1942.7H1019.3V1942.6H1020.1V1942.4H1020.9V1942.5H1021.7V1942.8H1022.5V1942.7H1023.3V1942.8H1024.1V1942.7H1024.9V1942.8H1025.7V1942.6H1026.5V1942.3H1027.3V1942.4H1028.1V1942.5H1028.9V1942.3H1029.7V1942.2H1030.5V1942.3H1031.3V1942.8H1032.1V1942.9H1032.9V1942.7H1033.7V1942.3H1034.5V1941.9H1035.3V1941.4H1036.1V1941.0H1036.9V1940.2H1037.7V1938.8H1038.5V1938.1H1039.3V1938.1H1040.1V1938.2H1040.9V1939.0H1041.7V1938.9H1042.5V1940.1H1043.3V1941.4H1044.1V1941.8H1044.9V1942.4H1045.7V1942.6H1046.5V1942.7H1047.3V1943.0H1048.1V1942.6H1048.9V1942.8H1049.7V1942.7H1050.5V1942.8H1051.3V1942.9H1052.1V1942.9H1052.9V1942.5H1053.7V1942.6H1054.5V1942.6H1055.3V1942.8H1056.1V1942.8H1056.9V1942.8H1057.7V1942.7H1058.5V1942.8H1059.3V1942.8H1060.1V1942.9H1060.9V1942.9H1061.7V1942.9H1062.5V1942.6H1063.3V1942.6H1064.1V1942.6H1064.9V1942.5H1065.7V1942.5H1066.5V1942.4H1067.3V1942.5H1068.1V1942.5H1068.9V1942.4H1069.7V1942.7H1070.5V1942.6H1071.3V1942.7H1072.1V1942.5H1072.9V1942.4H1073.7V1942.6H1074.5V1942.3H1075.3V1942.3H1076.1V1942.3H1076.9V1942.8H1077.7V1942.9H1078.5V1942.8H1079.3V1942.6H1080.1V1942.6H1080.9V1942.6H1081.7V1943.0H1082.5V1943.0H1083.3V1942.8H1084.1V1942.6H1084.9V1942.6H1085.7V1942.6H1086.5V1942.8H1087.3V1942.7H1088.1V1942.7H1088.9V1943.0H1089.7V1943.0H1090.5V1943.1H1091.3V1942.6H1092.1V1942.8H1092.9V1942.8H1093.7V1943.0H1094.5V1943.0H1095.3V1942.9H1096.1V1943.0H1096.9V1943.0H1097.7V1942.9H1098.5V1942.9H1099.3V1942.9H1100.1V1940.5H1100.9V1937.4H1101.7V1936.8H1102.5V1936.8H1103.3V1937.2H1104.1V1936.5H1104.9V1937.6H1105.7V1942.9H1106.5V1943.0H1107.3V1942.8H1108.1V1942.5H1108.9V1942.5H1109.7V1942.4H1110.5V1942.0H1111.3V1941.8H1112.1V1942.0H1112.9V1941.6H1113.7V1941.3H1114.5V1941.3H1115.3V1941.1H1116.1V1941.3H1116.9V1940.8H1117.7V1940.8H1118.5V1941.0H1119.3V1940.3H1120.1V1939.8H1120.9V1940.0H1121.7V1940.2H1122.5V1940.4H1123.3V1940.4H1124.1V1940.4H1124.9V1939.8H1125.7V1940.4H1126.5V1940.8H1127.3V1940.8H1128.1V1941.5H1128.9V1941.5H1129.7V1941.9H1130.5V1941.9H1131.3V1942.2H1132.1V1942.3H1132.9V1942.4H1133.7V1942.6H1134.5V1942.2H1135.3V1942.3H1136.1V1942.5H1136.9V1942.3H1137.7V1942.2H1138.5V1942.4H1139.3V1942.3H1140.1V1942.3H1140.9V1942.3H1141.7V1942.8H1142.5V1942.9H1143.3V1942.9H1144.1V1943.0H1144.9V1942.9H1145.7V1942.9H1146.5V1943.2H1147.3V1944.7H1148.1V1944.7H1148.9V1944.7H1149.7V1944.7H1150.5V1943.3H1151.3V1943.4H1152.1V1943.3H1152.9V1943.3H1153.7V1943.5H1154.5V1943.3H1155.3V1943.3H1156.1V1943.4H1156.9V1943.5H1157.7V1943.4H1158.5V1943.0H1159.3V1943.0H1160.1V1943.0H1160.9V1943.4H1161.7V1943.4H1162.5V1943.4H1163.3V1943.4H1164.1V1943.4H1164.9V1943.4H1165.7V1943.4H1166.5V1943.3H1167.3V1943.4H1168.1V1943.2H1168.9V1943.2H1169.7V1943.2H1170.5V1943.4H1171.3V1943.4H1172.1V1943.3H1172.9V1942.8H1173.7V1942.9H1174.5V1942.9H1175.3V1942.7H1176.1V1942.7H1176.9V1942.7H1177.7V1942.7H1178.5V1942.7H1179.3V1942.7H1180.1V1943.1H1180.9V1943.0H1181.7V1943.0H1182.5V1942.7H1183.3V1942.7H1184.1V1942.8H1184.9V1942.9H1185.7V1943.0H1186.5V1942.9H1187.3V1943.3H1188.1V1943.3H1188.9V1943.2H1189.7V1942.8H1190.5V1942.9H1191.3V1942.9H1192.1V1943.2H1192.9V1943.2H1193.7V1943.2H1194.5V1943.3H1195.3V1943.2H1196.1V1943.2H1196.9V1943.0H1197.7V1943.0H1198.5V1943.1H1199.3V1942.9H1200.1V1942.8H1200.9V1943.0H1201.7V1942.9H1202.5V1942.8H1203.3V1942.9H1204.1V1943.0H1204.9V1943.0H1205.7V1942.9H1206.5V1942.9H1207.3V1942.7H1208.1V1942.7H1208.9V1942.9H1209.7V1942.8H1210.5V1942.8H1211.3V1942.8H1212.1V1942.8H1212.9V1942.8H1213.7V1942.9H1214.5V1942.8H1215.3V1942.8H1216.1V1942.9H1216.9V1943.0H1217.7V1942.9H1218.5V1943.2H1219.3V1943.2H1220.1V1943.1H1220.9V1942.9H1221.7V1942.9H1222.5V1943.0H1223.3V1942.5H1224.1V1942.6H1224.9V1942.5H1225.7V1942.5H1226.5V1942.5H1227.3V1942.4H1228.1V1942.6H1228.9V1942.8H1229.7V1942.8H1230.5V1943.1H1231.3V1943.1H1232.1V1943.1H1232.9V1943.1H1233.7V1943.2H1234.5V1943.1H1235.3V1943.3H1236.1V1943.1H1236.9V1943.2H1237.7V1942.8H1238.5V1942.9H1239.3V1942.8H1240.1V1942.8H1240.9V1943.0H1241.7V1942.8H1242.5V1943.1H1243.3V1943.0H1244.1V1942.9H1244.9V1943.3H1245.7V1943.4H1246.5V1943.4H1247.3V1942.9H1248.1V1942.9H1248.9V1942.8H1249.7V1943.1H1250.5V1943.1H1251.3V1943.2H1252.1V1942.7H1252.9V1942.6H1253.7V1942.6H1254.5V1943.0H1255.3V1943.0H1256.1V1942.7H1256.9V1943.0H1257.7V1942.8H1258.5V1942.7H1259.3V1942.3H1260.1V1941.6H1260.9V1941.5H1261.7V1939.7H1262.5V1939.4H1263.3V1939.1H1264.1V1938.6H1264.9V1938.5H1265.7V1938.6H1266.5V1938.4H1267.3V1939.3H1268.1V1938.9H1268.9V1940.1H1269.7V1940.4H1270.5V1941.2H1271.3V1941.9H1272.1V1942.3H1272.9V1942.6H1273.7V1943.0H1274.5V1943.2H1275.3V1943.2H1276.1V1943.0H1276.9V1943.0H1277.7V1943.0H1278.5V1942.8H1279.3V1942.7H1280.1V1942.7H1280.9V1942.5H1281.7V1942.5H1282.5V1942.4H1283.3V1942.6H1284.1V1942.5H1284.9V1942.6H1285.7V1942.7H1286.5V1942.9H1287.3V1942.8H1288.1V1943.1H1288.9V1943.1H1289.7V1943.0H1290.5V1942.7H1291.3V1942.7H1292.1V1942.7H1292.9V1942.5H1293.7V1942.6H1294.5V1942.5H1295.3V1942.6H1296.1V1942.5H1296.9V1942.6H1297.7V1942.5H1298.5V1942.5H1299.3V1942.5H1300.1V1942.3H1300.9V1942.4H1301.7V1942.3H1302.5V1942.4H1303.3V1942.3H1304.1V1942.3H1304.9V1942.5H1305.7V1942.6H1306.5V1942.5H1307.3V1942.9H1308.1V1942.9H1308.9V1942.9H1309.7V1943.0H1310.5V1943.0H1311.3V1942.9H1312.1V1943.1H1312.9V1943.1H1313.7V1943.0H1314.5V1942.9H1315.3V1943.0H1316.1V1942.9H1316.9V1942.8H1317.7V1942.8H1318.5V1942.8H1319.3V1942.5H1320.1V1942.6H1320.9V1942.6H1321.7V1942.8H1322.5V1942.9H1323.3V1942.8H1324.1V1942.9H1324.9V1943.0H1325.7V1943.0H1326.5V1942.9H1327.3V1942.9H1328.1V1942.7H1328.9V1943.2H1329.7V1943.1H1330.5V1943.1H1331.3V1943.1H1332.1V1943.0H1332.9V1942.9H1333.7V1943.0H1334.5V1943.0H1335.3V1943.0H1336.1V1943.1H1336.9V1943.1H1337.7V1943.1H1338.5V1943.4H1339.3V1943.2H1340.1V1943.4H1340.9V1943.2H1341.7V1943.4H1342.5V1943.3H1343.3V1943.2H1344.1V1943.2H1344.9V1943.3H1345.7V1943.3H1346.5V1943.4H1347.3V1943.5H1348.1V1942.9H1348.9V1943.0H1349.7V1942.9H1350.5V1943.1H1351.3V1943.2H1352.1V1943.2H1352.9V1943.3H1353.7V1943.5H1354.5V1943.4H1355.3V1943.2H1356.1V1943.2H1356.9V1943.1H1357.7V1942.9H1358.5V1942.7H1359.3V1944.7Z" fill="#e88a1c"/>
<path d="M1012.1 1976.4V1975.2H1012.9V1975.2H1013.7V1975.2H1014.5V1975.0H1015.3V1975.1H1016.1V1975.1H1016.9V1974.7H1017.7V1974.4H1018.5V1974.5H1019.3V1975.0H1020.1V1975.0H1020.9V1975.0H1021.7V1974.5H1022.5V1974.4H1023.3V1974.2H1024.1V1973.8H1024.9V1973.7H1025.7V1973.8H1026.5V1973.3H1027.3V1972.8H1028.1V1972.4H1028.9V1972.2H1029.7V1971.3H1030.5V1971.0H1031.3V1970.8H1032.1V1971.4H1032.9V1969.9H1033.7V1970.3H1034.5V1970.4H1035.3V1969.9H1036.1V1969.8H1036.9V1969.8H1037.7V1969.9H1038.5V1969.9H1039.3V1969.0H1040.1V1969.3H1040.9V1969.9H1041.7V1971.2H1042.5V1971.2H1043.3V1971.6H1044.1V1972.3H1044.9V1972.3H1045.7V1972.7H1046.5V1972.7H1047.3V1973.3H1048.1V1973.3H1048.9V1973.0H1049.7V1973.7H1050.5V1973.5H1051.3V1973.5H1052.1V1973.9H1052.9V1974.6H1053.7V1974.7H1054.5V1974.8H1055.3V1974.7H1056.1V1974.7H1056.9V1974.8H1057.7V1974.4H1058.5V1974.3H1059.3V1974.6H1060.1V1974.8H1060.9V1974.7H1061.7V1974.8H1062.5V1974.2H1063.3V1974.3H1064.1V1974.5H1064.9V1975.0H1065.7V1974.9H1066.5V1975.0H1067.3V1974.8H1068.1V1974.8H1068.9V1974.6H1069.7V1974.4H1070.5V1974.4H1071.3V1974.3H1072.1V1974.2H1072.9V1974.2H1073.7V1974.1H1074.5V1974.5H1075.3V1974.1H1076.1V1973.8H1076.9V1973.0H1077.7V1972.4H1078.5V1972.0H1079.3V1971.4H1080.1V1971.1H1080.9V1971.5H1081.7V1972.1H1082.5V1973.1H1083.3V1973.1H1084.1V1973.7H1084.9V1974.3H1085.7V1974.6H1086.5V1974.2H1087.3V1974.4H1088.1V1974.6H1088.9V1974.2H1089.7V1974.2H1090.5V1974.4H1091.3V1974.9H1092.1V1974.8H1092.9V1974.9H1093.7V1974.3H1094.5V1974.5H1095.3V1974.6H1096.1V1974.4H1096.9V1974.2H1097.7V1970.3H1098.5V1969.2H1099.3V1966.6H1100.1V1965.2H1100.9V1967.2H1101.7V1967.1H1102.5V1962.8H1103.3V1964.7H1104.1V1968.0H1104.9V1971.6H1105.7V1975.0H1106.5V1974.8H1107.3V1974.7H1108.1V1974.0H1108.9V1973.7H1109.7V1973.7H1110.5V1973.1H1111.3V1972.5H1112.1V1971.8H1112.9V1972.0H1113.7V1970.7H1114.5V1970.1H1115.3V1969.1H1116.1V1969.0H1116.9V1968.7H1117.7V1967.3H1118.5V1966.6H1119.3V1965.0H1120.1V1964.6H1120.9V1964.2H1121.7V1965.3H1122.5V1965.6H1123.3V1963.9H1124.1V1964.2H1124.9V1963.7H1125.7V1966.3H1126.5V1966.7H1127.3V1966.9H1128.1V1967.5H1128.9V1968.8H1129.7V1969.5H1130.5V1969.3H1131.3V1970.6H1132.1V1971.9H1132.9V1972.7H1133.7V1972.8H1134.5V1973.3H1135.3V1973.7H1136.1V1974.2H1136.9V1974.1H1137.7V1974.6H1138.5V1974.7H1139.3V1974.2H1140.1V1974.5H1140.9V1974.4H1141.7V1975.2H1142.5V1975.2H1143.3V1975.3H1144.1V1975.1H1144.9V1975.0H1145.7V1975.0H1146.5V1974.8H1147.3V1974.8H1148.1V1974.7H1148.9V1975.0H1149.7V1974.8H1150.5V1975.0H1151.3V1975.2H1152.1V1975.1H1152.9V1975.2H1153.7V1974.9H1154.5V1974.6H1155.3V1974.5H1156.1V1974.5H1156.9V1974.5H1157.7V1974.6H1158.5V1974.7H1159.3V1974.7H1160.1V1974.7H1160.9V1973.5H1161.7V1973.9H1162.5V1973.3H1163.3V1973.1H1164.1V1972.9H1164.9V1972.9H1165.7V1972.6H1166.5V1972.2H1167.3V1972.5H1168.1V1973.0H1168.9V1972.3H1169.7V1972.3H1170.5V1972.3H1171.3V1972.1H1172.1V1972.6H1172.9V1971.9H1173.7V1972.3H1174.5V1972.1H1175.3V1972.4H1176.1V1972.7H1176.9V1973.2H1177.7V1973.6H1178.5V1973.5H1179.3V1973.7H1180.1V1973.8H1180.9V1973.9H1181.7V1974.0H1182.5V1974.0H1183.3V1974.1H1184.1V1974.2H1184.9V1974.8H1185.7V1974.9H1186.5V1974.9H1187.3V1974.4H1188.1V1974.3H1188.9V1974.3H1189.7V1974.4H1190.5V1974.2H1191.3V1974.4H1192.1V1974.5H1192.9V1974.6H1193.7V1974.6H1194.5V1974.7H1195.3V1974.7H1196.1V1974.7H1196.9V1974.2H1197.7V1974.2H1198.5V1974.3H1199.3V1974.8H1200.1V1974.8H1200.9V1974.7H1201.7V1975.1H1202.5V1975.2H1203.3V1975.1H1204.1V1974.9H1204.9V1974.9H1205.7V1974.8H1206.5V1974.4H1207.3V1974.5H1208.1V1974.4H1208.9V1973.9H1209.7V1973.9H1210.5V1973.7H1211.3V1973.6H1212.1V1973.4H1212.9V1973.2H1213.7V1974.2H1214.5V1974.0H1215.3V1974.1H1216.1V1974.3H1216.9V1974.3H1217.7V1974.4H1218.5V1974.4H1219.3V1974.6H1220.1V1974.7H1220.9V1974.3H1221.7V1974.5H1222.5V1974.5H1223.3V1974.3H1224.1V1974.4H1224.9V1974.4H1225.7V1974.8H1226.5V1974.9H1227.3V1974.8H1228.1V1974.7H1228.9V1974.8H1229.7V1974.6H1230.5V1974.9H1231.3V1975.0H1232.1V1975.0H1232.9V1975.1H1233.7V1975.0H1234.5V1974.9H1235.3V1974.9H1236.1V1975.1H1236.9V1974.9H1237.7V1975.2H1238.5V1975.2H1239.3V1975.2H1240.1V1974.9H1240.9V1975.0H1241.7V1974.9H1242.5V1974.9H1243.3V1974.8H1244.1V1974.7H1244.9V1975.2H1245.7V1975.1H1246.5V1975.1H1247.3V1974.8H1248.1V1974.9H1248.9V1974.8H1249.7V1975.3H1250.5V1976.4H1251.3V1976.4H1252.1V1974.7H1252.9V1975.0H1253.7V1974.9H1254.5V1974.7H1255.3V1974.5H1256.1V1974.5H1256.9V1973.6H1257.7V1972.7H1258.5V1971.4H1259.3V1970.0H1260.1V1969.1H1260.9V1966.6H1261.7V1965.7H1262.5V1965.0H1263.3V1963.4H1264.1V1964.9H1264.9V1967.7H1265.7V1968.3H1266.5V1969.4H1267.3V1969.8H1268.1V1969.9H1268.9V1970.3H1269.7V1970.2H1270.5V1969.6H1271.3V1969.7H1272.1V1969.7H1272.9V1970.3H1273.7V1970.5H1274.5V1971.7H1275.3V1972.0H1276.1V1971.8H1276.9V1972.4H1277.7V1973.0H1278.5V1973.2H1279.3V1973.3H1280.1V1973.9H1280.9V1974.0H1281.7V1974.0H1282.5V1974.1H1283.3V1974.6H1284.1V1974.6H1284.9V1974.6H1285.7V1974.7H1286.5V1974.7H1287.3V1974.8H1288.1V1975.0H1288.9V1975.0H1289.7V1975.1H1290.5V1974.8H1291.3V1974.9H1292.1V1975.1H1292.9V1975.0H1293.7V1975.1H1294.5V1975.0H1295.3V1975.1H1296.1V1974.9H1296.9V1974.9H1297.7V1975.2H1298.5V1975.3H1299.3V1975.3H1300.1V1975.1H1300.9V1975.1H1301.7V1975.0H1302.5V1974.8H1303.3V1974.8H1304.1V1974.7H1304.9V1974.8H1305.7V1975.0H1306.5V1974.9H1307.3V1975.0H1308.1V1975.2H1308.9V1975.2H1309.7V1975.3H1310.5V1975.3H1311.3V1975.5H1312.1V1975.2H1312.9V1975.2H1313.7V1975.4H1314.5V1975.4H1315.3V1975.5H1316.1V1975.4H1316.9V1975.3H1317.7V1975.5H1318.5V1975.5H1319.3V1975.0H1320.1V1974.9H1320.9V1975.1H1321.7V1975.1H1322.5V1975.3H1323.3V1975.1H1324.1V1974.6H1324.9V1974.7H1325.7V1974.7H1326.5V1974.8H1327.3V1974.7H1328.1V1974.7H1328.9V1974.7H1329.7V1974.6H1330.5V1974.6H1331.3V1974.3H1332.1V1974.4H1332.9V1974.5H1333.7V1974.2H1334.5V1974.3H1335.3V1974.4H1336.1V1974.7H1336.9V1974.5H1337.7V1974.4H1338.5V1974.6H1339.3V1974.6H1340.1V1974.8H1340.9V1974.2H1341.7V1974.4H1342.5V1974.4H1343.3V1974.8H1344.1V1974.7H1344.9V1974.8H1345.7V1975.0H1346.5V1974.8H1347.3V1974.8H1348.1V1974.8H1348.9V1974.7H1349.7V1974.6H1350.5V1974.9H1351.3V1974.8H1352.1V1974.5H1352.9V1974.4H1353.7V1974.1H1354.5V1972.8H1355.3V1972.2H1356.1V1972.0H1356.9V1971.5H1357.7V1972.4H1358.5V1972.8H1359.3V1976.4Z" fill="#6866b1"/>
<line x1="992.7" y1="1490.5" x2="999.8" y2="1490.5" stroke="#222" stroke-width="1.2" />
<text x="957.7" y="1496.7" font-size="19.5" textLength="26.8" lengthAdjust="spacingAndGlyphs">2.5</text>
<line x1="992.7" y1="1515.7" x2="999.8" y2="1515.7" stroke="#222" stroke-width="1.2" />
<text x="971.8" y="1517.1" font-size="19.5" textLength="12.7" lengthAdjust="spacingAndGlyphs">0</text>
<line x1="992.7" y1="1527.5" x2="999.8" y2="1527.5" stroke="#222" stroke-width="1.2" />
<text x="957.7" y="1533.1" font-size="19.5" textLength="26.8" lengthAdjust="spacingAndGlyphs">2.5</text>
<line x1="992.7" y1="1553.3" x2="999.8" y2="1553.3" stroke="#222" stroke-width="1.2" />
<text x="971.8" y="1551.4" font-size="19.5" textLength="12.7" lengthAdjust="spacingAndGlyphs">0</text>
<line x1="992.7" y1="1564.0" x2="999.8" y2="1564.0" stroke="#222" stroke-width="1.2" />
<text x="957.7" y="1569.6" font-size="19.5" textLength="26.8" lengthAdjust="spacingAndGlyphs">2.5</text>
<line x1="992.7" y1="1589.8" x2="999.8" y2="1589.8" stroke="#222" stroke-width="1.2" />
<text x="971.8" y="1587.8" font-size="19.5" textLength="12.7" lengthAdjust="spacingAndGlyphs">0</text>
<line x1="992.7" y1="1601.0" x2="999.8" y2="1601.0" stroke="#222" stroke-width="1.2" />
<text x="957.7" y="1606.6" font-size="19.5" textLength="26.8" lengthAdjust="spacingAndGlyphs">2.5</text>
<line x1="992.7" y1="1626.6" x2="999.8" y2="1626.6" stroke="#222" stroke-width="1.2" />
<text x="971.8" y="1632.2" font-size="19.5" textLength="12.7" lengthAdjust="spacingAndGlyphs">0</text>
<line x1="992.7" y1="1643.5" x2="999.8" y2="1643.5" stroke="#222" stroke-width="1.2" />
<text x="973.2" y="1649.0" font-size="19.5" textLength="11.3" lengthAdjust="spacingAndGlyphs">5</text>
<line x1="992.7" y1="1670.1" x2="999.8" y2="1670.1" stroke="#222" stroke-width="1.2" />
<text x="971.8" y="1669.3" font-size="19.5" textLength="12.7" lengthAdjust="spacingAndGlyphs">0</text>
<line x1="992.7" y1="1681.0" x2="999.8" y2="1681.0" stroke="#222" stroke-width="1.2" />
<text x="973.2" y="1686.1" font-size="19.5" textLength="11.3" lengthAdjust="spacingAndGlyphs">5</text>
<line x1="992.7" y1="1706.3" x2="999.8" y2="1706.3" stroke="#222" stroke-width="1.2" />
<text x="971.8" y="1712.0" font-size="19.5" textLength="12.7" lengthAdjust="spacingAndGlyphs">0</text>
<line x1="992.7" y1="1727.4" x2="999.8" y2="1727.4" stroke="#222" stroke-width="1.2" />
<text x="960.5" y="1733.0" font-size="19.5" textLength="24.0" lengthAdjust="spacingAndGlyphs">80</text>
<line x1="992.7" y1="1753.5" x2="999.8" y2="1753.5" stroke="#222" stroke-width="1.2" />
<text x="971.8" y="1759.0" font-size="19.5" textLength="12.7" lengthAdjust="spacingAndGlyphs">0</text>
<line x1="992.7" y1="1855.8" x2="999.8" y2="1855.8" stroke="#222" stroke-width="1.2" />
<text x="964.8" y="1853.5" font-size="19.5" textLength="21.4" lengthAdjust="spacingAndGlyphs">2.1</text>
<line x1="992.7" y1="1872.6" x2="999.8" y2="1872.6" stroke="#222" stroke-width="1.2" />
<text x="975.1" y="1870.3" font-size="19.5" textLength="11.1" lengthAdjust="spacingAndGlyphs">0</text>
<line x1="992.7" y1="1890.8" x2="999.8" y2="1890.8" stroke="#222" stroke-width="1.2" />
<text x="964.8" y="1888.6" font-size="19.5" textLength="21.4" lengthAdjust="spacingAndGlyphs">2.1</text>
<line x1="992.7" y1="1908.2" x2="999.8" y2="1908.2" stroke="#222" stroke-width="1.2" />
<text x="975.1" y="1905.4" font-size="19.5" textLength="11.1" lengthAdjust="spacingAndGlyphs">0</text>
<line x1="992.7" y1="1927.9" x2="999.8" y2="1927.9" stroke="#222" stroke-width="1.2" />
<text x="964.8" y="1925.9" font-size="19.5" textLength="21.4" lengthAdjust="spacingAndGlyphs">2.1</text>
<line x1="992.7" y1="1945.5" x2="999.8" y2="1945.5" stroke="#222" stroke-width="1.2" />
<text x="975.1" y="1942.7" font-size="19.5" textLength="11.1" lengthAdjust="spacingAndGlyphs">0</text>
<line x1="992.7" y1="1960.4" x2="999.8" y2="1960.4" stroke="#222" stroke-width="1.2" />
<text x="964.8" y="1958.2" font-size="19.5" textLength="21.4" lengthAdjust="spacingAndGlyphs">2.1</text>
<line x1="992.7" y1="1977.8" x2="999.8" y2="1977.8" stroke="#222" stroke-width="1.2" />
<text x="975.1" y="1975.0" font-size="19.5" textLength="11.1" lengthAdjust="spacingAndGlyphs">0</text>
<text x="711.4" y="1570.6" font-size="27.5" textLength="99.2" lengthAdjust="spacingAndGlyphs">ChIP ER</text>
<text x="674.2" y="1684.0" font-size="27.5" textLength="136.4" lengthAdjust="spacingAndGlyphs">ChIP p300</text>
<text x="688.4" y="1750.6" font-size="27.5" textLength="122.2" lengthAdjust="spacingAndGlyphs">ChIP MAF</text>
<text x="688.4" y="1797.4" font-size="27.5" textLength="121.3" lengthAdjust="spacingAndGlyphs">Predicted</text>
<text x="703.1" y="1828.2" font-size="27.5" textLength="92.8" lengthAdjust="spacingAndGlyphs">MAF bs</text>
<text x="689.3" y="1913.6" font-size="27.5" textLength="124.1" lengthAdjust="spacingAndGlyphs">ATAC-seq</text>
<line x1="823.0" y1="1505.0" x2="823.0" y2="1623.4" stroke="#222" stroke-width="1.2" />
<line x1="823.0" y1="1654.2" x2="823.0" y2="1699.2" stroke="#222" stroke-width="1.2" />
<line x1="823.0" y1="1730.0" x2="823.0" y2="1758.4" stroke="#222" stroke-width="1.2" />
<line x1="823.0" y1="1780.4" x2="823.0" y2="1827.2" stroke="#222" stroke-width="1.2" />
<line x1="823.0" y1="1845.6" x2="823.0" y2="1976.5" stroke="#222" stroke-width="1.2" />
<text x="833.1" y="1520.1" font-size="27.5" fill="#fbc06e" textLength="113.0" lengthAdjust="spacingAndGlyphs">Mock HD</text>
<text x="839.9" y="1554.5" font-size="27.5" fill="#9cc3e6" textLength="99.8" lengthAdjust="spacingAndGlyphs">MAF HD</text>
<text x="836.3" y="1589.0" font-size="27.5" fill="#e88a1c" textLength="105.2" lengthAdjust="spacingAndGlyphs">Mock E2</text>
<text x="843.2" y="1623.4" font-size="27.5" fill="#6866b1" textLength="92.8" lengthAdjust="spacingAndGlyphs">MAF E2</text>
<text x="831.7" y="1669.3" font-size="27.5" fill="#f08a8e" textLength="116.7" lengthAdjust="spacingAndGlyphs">MCF7 HD</text>
<text x="835.4" y="1701.0" font-size="27.5" fill="#c4182e" textLength="108.4" lengthAdjust="spacingAndGlyphs">MCF7 E2</text>
<text x="839.9" y="1749.7" font-size="27.5" fill="#3cb54a" textLength="99.8" lengthAdjust="spacingAndGlyphs">MAF HD</text>
<text x="862.9" y="1797.4" font-size="27.5" textLength="54.7" lengthAdjust="spacingAndGlyphs">MAF</text>
<text x="853.7" y="1821.7" font-size="27.5" textLength="73.1" lengthAdjust="spacingAndGlyphs">MARE</text>
<text x="833.1" y="1871.8" font-size="27.5" fill="#fbc06e" textLength="113.0" lengthAdjust="spacingAndGlyphs">Mock HD</text>
<text x="839.9" y="1906.2" font-size="27.5" fill="#9cc3e6" textLength="99.8" lengthAdjust="spacingAndGlyphs">MAF HD</text>
<text x="836.3" y="1942.0" font-size="27.5" fill="#e88a1c" textLength="105.2" lengthAdjust="spacingAndGlyphs">Mock E2</text>
<text x="843.2" y="1975.5" font-size="27.5" fill="#6866b1" textLength="92.8" lengthAdjust="spacingAndGlyphs">MAF E2</text>
<rect x="1142.0" y="2011.2" width="8.4" height="5.0" fill="#2b2d7c" />
<rect x="1150.4" y="2008.5" width="9.0" height="10.5" fill="#2b2d7c" />
<line x1="1159.4" y1="2013.7" x2="1179.3" y2="2013.7" stroke="#2b2d7c" stroke-width="1" />
<rect x="1179.3" y="2008.5" width="5.4" height="10.5" fill="#2b2d7c" />
<line x1="1184.7" y1="2013.7" x2="1197.6" y2="2013.7" stroke="#2b2d7c" stroke-width="1" />
<rect x="1197.6" y="2008.5" width="18.2" height="10.5" fill="#2b2d7c" />
<rect x="1215.8" y="2010.4" width="44.6" height="6.6" fill="#2b2d7c" />
<path d="M1161.2 2011.6L1163.2 2013.7L1161.2 2015.8" stroke="#2b2d7c" stroke-width="0.8" fill="none" />
<path d="M1164.7 2011.6L1166.7 2013.7L1164.7 2015.8" stroke="#2b2d7c" stroke-width="0.8" fill="none" />
<path d="M1168.2 2011.6L1170.2 2013.7L1168.2 2015.8" stroke="#2b2d7c" stroke-width="0.8" fill="none" />
<path d="M1171.7 2011.6L1173.7 2013.7L1171.7 2015.8" stroke="#2b2d7c" stroke-width="0.8" fill="none" />
<path d="M1175.2 2011.6L1177.2 2013.7L1175.2 2015.8" stroke="#2b2d7c" stroke-width="0.8" fill="none" />
<path d="M1186.2 2011.6L1188.2 2013.7L1186.2 2015.8" stroke="#2b2d7c" stroke-width="0.8" fill="none" />
<path d="M1189.7 2011.6L1191.7 2013.7L1189.7 2015.8" stroke="#2b2d7c" stroke-width="0.8" fill="none" />
<path d="M1193.2 2011.6L1195.2 2013.7L1193.2 2015.8" stroke="#2b2d7c" stroke-width="0.8" fill="none" />
<path d="M1158.9 2019 V2046 H1182" stroke="#44546a" stroke-width="1.5" fill="none" />
<path d="M1190.6 2046 L1178.5 2041 L1181.3 2046 L1178.5 2051 Z" stroke="#44546a" stroke-width="0" fill="#44546a" />
<text x="1194.0" y="2052.7" font-size="27.5" font-style="italic" textLength="72.0" lengthAdjust="spacingAndGlyphs">SOX9</text>
<text x="124.2" y="2064.6" font-size="27.5" textLength="207.2" lengthAdjust="spacingAndGlyphs">Gene exp. MCF7</text>
<text x="124.7" y="2095.2" font-size="27.5" textLength="180.7" lengthAdjust="spacingAndGlyphs">log<tspan font-size="17.5" dy="8">2</tspan><tspan dy="-8">FC(E2/HD)</tspan></text>
<text x="105.9" y="2155.5" font-size="24.3" textLength="46.9" lengthAdjust="spacingAndGlyphs">0.23</text>
<text x="179.9" y="2155.5" font-size="24.3" textLength="45.1" lengthAdjust="spacingAndGlyphs">2.26</text>
<text x="394.9" y="2066.6" font-size="27.5" textLength="151.7" lengthAdjust="spacingAndGlyphs">BRCA TCGA</text>
<text x="394.9" y="2098.4" font-size="27.5" textLength="124.3" lengthAdjust="spacingAndGlyphs">ATAC-seq</text>
<text x="391.6" y="2155.5" font-size="24.3" textLength="13.7" lengthAdjust="spacingAndGlyphs">0</text>
<text x="437.5" y="2155.5" font-size="24.3" textLength="40.0" lengthAdjust="spacingAndGlyphs">≥30</text>
<text x="627.2" y="2062.1" font-size="27.5" textLength="194.7" lengthAdjust="spacingAndGlyphs">Prom-Enh Links</text>
<rect x="665.0" y="2074.4" width="22.0" height="21.6" fill="#ed1c24" />
<rect x="665.0" y="2109.0" width="22.0" height="21.4" fill="#f9a11b" />
<rect x="665.0" y="2143.4" width="22.0" height="21.6" fill="#3953a4" />
<text x="699.0" y="2092.2" font-size="23" textLength="106.8" lengthAdjust="spacingAndGlyphs">ER unique</text>
<text x="699.0" y="2126.2" font-size="23" textLength="159.8" lengthAdjust="spacingAndGlyphs">MAF-ER shared</text>
<text x="699.0" y="2161.0" font-size="23" textLength="126.7" lengthAdjust="spacingAndGlyphs">MAF unique</text>
<defs><linearGradient id="lgR" x1="0" x2="1" y1="0" y2="0"><stop offset="0" stop-color="#fcd5c8"/><stop offset="0.38" stop-color="#ed1c24"/><stop offset="0.75" stop-color="#e81c25"/><stop offset="1" stop-color="#c9202a"/></linearGradient><linearGradient id="lgG" x1="0" x2="1" y1="0" y2="0"><stop offset="0" stop-color="#eef6e2"/><stop offset="0.12" stop-color="#8cc63f"/><stop offset="0.35" stop-color="#4db848"/><stop offset="0.65" stop-color="#0aa64e"/><stop offset="1" stop-color="#176b38"/></linearGradient></defs>
<rect x="125.5" y="2111.1" width="81.1" height="19.7" fill="url(#lgR)" />
<rect x="394.6" y="2112.4" width="65.9" height="19.1" fill="url(#lgG)" />
<line x1="128.6" y1="2111.5" x2="128.6" y2="2114.5" stroke="#fff" stroke-width="0.8" />
<line x1="128.6" y1="2128.0" x2="128.6" y2="2131.0" stroke="#fff" stroke-width="0.8" />
<line x1="203.3" y1="2111.5" x2="203.3" y2="2114.5" stroke="#fff" stroke-width="0.8" />
<line x1="203.3" y1="2128.0" x2="203.3" y2="2131.0" stroke="#fff" stroke-width="0.8" />
<line x1="397.8" y1="2111.5" x2="397.8" y2="2114.5" stroke="#fff" stroke-width="0.8" />
<line x1="397.8" y1="2128.0" x2="397.8" y2="2131.0" stroke="#fff" stroke-width="0.8" />
<line x1="457.4" y1="2111.5" x2="457.4" y2="2114.5" stroke="#fff" stroke-width="0.8" />
<line x1="457.4" y1="2128.0" x2="457.4" y2="2131.0" stroke="#fff" stroke-width="0.8" />
</g>
</svg>
</body></html>
